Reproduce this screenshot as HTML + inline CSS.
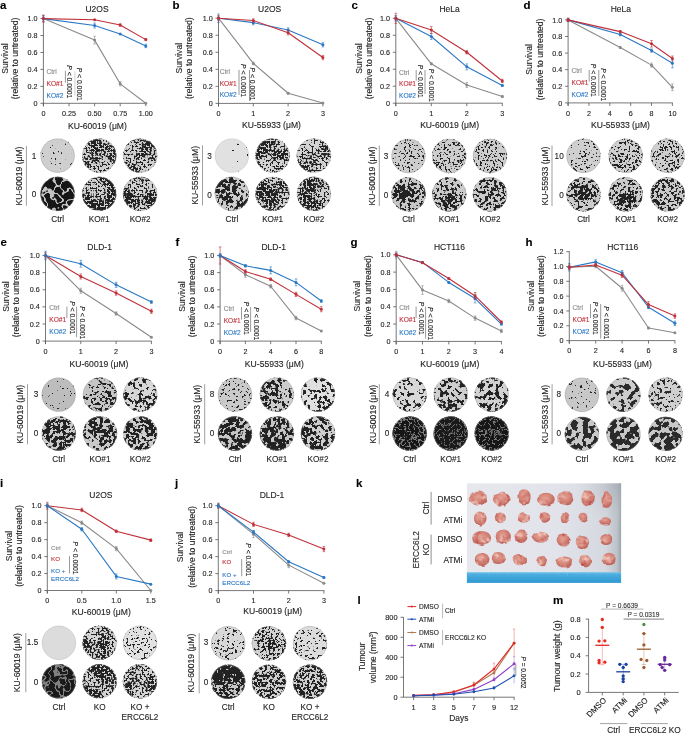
<!DOCTYPE html><html><head><meta charset="utf-8"><style>html,body{margin:0;padding:0;background:#fff;overflow:hidden;}svg{display:block;will-change:transform;font-family:"Liberation Sans",sans-serif;}text{stroke:currentColor;stroke-width:0.12px;}</style></head><body><svg width="685" height="733" viewBox="0 0 685 733"><defs><clipPath id="c1"><circle cx="57.6" cy="155.6" r="17.2"/></clipPath><filter id="p1" x="0" y="0" width="1" height="1" color-interpolation-filters="sRGB"><feTurbulence type="fractalNoise" baseFrequency="0.4" numOctaves="2" seed="10"/><feColorMatrix type="matrix" values="1 0 0 0 0 1 0 0 0 0 1 0 0 0 0 0 0 0 0 1" result="h"/><feTurbulence type="fractalNoise" baseFrequency="0.05" numOctaves="2" seed="111"/><feColorMatrix type="matrix" values="1 0 0 0 0 1 0 0 0 0 1 0 0 0 0 0 0 0 0 1" result="l"/><feComposite in="h" in2="l" operator="arithmetic" k1="0" k2="0.95" k3="0.05" k4="0"/><feColorMatrix type="matrix" values="1 0 0 0 0 1 0 0 0 0 1 0 0 0 0 0 0 0 0 1"/></filter><filter id="t1" color-interpolation-filters="sRGB"><feColorMatrix type="matrix" values="0 0 0 0 0.133 0 0 0 0 0.133 0 0 0 0 0.133 -35 0 0 0 10.254"/><feGaussianBlur stdDeviation="0.4"/></filter><clipPath id="c2"><circle cx="99.2" cy="155.6" r="17.2"/></clipPath><filter id="p2" x="0" y="0" width="1" height="1" color-interpolation-filters="sRGB"><feTurbulence type="fractalNoise" baseFrequency="0.5" numOctaves="2" seed="17"/><feColorMatrix type="matrix" values="1 0 0 0 0 1 0 0 0 0 1 0 0 0 0 0 0 0 0 1" result="h"/><feTurbulence type="fractalNoise" baseFrequency="0.05" numOctaves="2" seed="118"/><feColorMatrix type="matrix" values="1 0 0 0 0 1 0 0 0 0 1 0 0 0 0 0 0 0 0 1" result="l"/><feComposite in="h" in2="l" operator="arithmetic" k1="0" k2="0.8" k3="0.20" k4="0"/><feColorMatrix type="matrix" values="1 0 0 0 0 1 0 0 0 0 1 0 0 0 0 0 0 0 0 1"/></filter><filter id="t2" color-interpolation-filters="sRGB"><feColorMatrix type="matrix" values="0 0 0 0 0.133 0 0 0 0 0.133 0 0 0 0 0.133 -35 0 0 0 18.105"/><feGaussianBlur stdDeviation="0.5"/></filter><clipPath id="c3"><circle cx="140.1" cy="155.6" r="17.2"/></clipPath><filter id="p3" x="0" y="0" width="1" height="1" color-interpolation-filters="sRGB"><feTurbulence type="fractalNoise" baseFrequency="0.5" numOctaves="2" seed="24"/><feColorMatrix type="matrix" values="1 0 0 0 0 1 0 0 0 0 1 0 0 0 0 0 0 0 0 1" result="h"/><feTurbulence type="fractalNoise" baseFrequency="0.05" numOctaves="2" seed="125"/><feColorMatrix type="matrix" values="1 0 0 0 0 1 0 0 0 0 1 0 0 0 0 0 0 0 0 1" result="l"/><feComposite in="h" in2="l" operator="arithmetic" k1="0" k2="0.8" k3="0.20" k4="0"/><feColorMatrix type="matrix" values="1 0 0 0 0 1 0 0 0 0 1 0 0 0 0 0 0 0 0 1"/></filter><filter id="t3" color-interpolation-filters="sRGB"><feColorMatrix type="matrix" values="0 0 0 0 0.133 0 0 0 0 0.133 0 0 0 0 0.133 -35 0 0 0 17.968"/><feGaussianBlur stdDeviation="0.5"/></filter><clipPath id="c4"><circle cx="57.6" cy="193.9" r="17.2"/></clipPath><filter id="p4" x="0" y="0" width="1" height="1" color-interpolation-filters="sRGB"><feTurbulence type="fractalNoise" baseFrequency="0.11" numOctaves="2" seed="31" result="t"/><feColorMatrix in="t" type="matrix" values="0 0 0 0 0.086 0 0 0 0 0.086 0 0 0 0 0.086 30 0 0 0 -15.870" result="a"/><feColorMatrix in="t" type="matrix" values="0 0 0 0 0.086 0 0 0 0 0.086 0 0 0 0 0.086 -30 0 0 0 14.130" result="b"/><feComposite in="a" in2="b" operator="arithmetic" k1="0" k2="1" k3="1" k4="0"/><feGaussianBlur stdDeviation="0.4"/></filter><clipPath id="c5"><circle cx="99.2" cy="193.9" r="17.2"/></clipPath><filter id="p5" x="0" y="0" width="1" height="1" color-interpolation-filters="sRGB"><feTurbulence type="fractalNoise" baseFrequency="0.5" numOctaves="2" seed="38"/><feColorMatrix type="matrix" values="1 0 0 0 0 1 0 0 0 0 1 0 0 0 0 0 0 0 0 1" result="h"/><feTurbulence type="fractalNoise" baseFrequency="0.05" numOctaves="2" seed="139"/><feColorMatrix type="matrix" values="1 0 0 0 0 1 0 0 0 0 1 0 0 0 0 0 0 0 0 1" result="l"/><feComposite in="h" in2="l" operator="arithmetic" k1="0" k2="0.8" k3="0.20" k4="0"/><feColorMatrix type="matrix" values="1 0 0 0 0 1 0 0 0 0 1 0 0 0 0 0 0 0 0 1"/></filter><filter id="t5" color-interpolation-filters="sRGB"><feColorMatrix type="matrix" values="0 0 0 0 0.133 0 0 0 0 0.133 0 0 0 0 0.133 -35 0 0 0 18.266"/><feGaussianBlur stdDeviation="0.5"/></filter><clipPath id="c6"><circle cx="140.1" cy="193.9" r="17.2"/></clipPath><filter id="p6" x="0" y="0" width="1" height="1" color-interpolation-filters="sRGB"><feTurbulence type="fractalNoise" baseFrequency="0.5" numOctaves="2" seed="45"/><feColorMatrix type="matrix" values="1 0 0 0 0 1 0 0 0 0 1 0 0 0 0 0 0 0 0 1" result="h"/><feTurbulence type="fractalNoise" baseFrequency="0.05" numOctaves="2" seed="146"/><feColorMatrix type="matrix" values="1 0 0 0 0 1 0 0 0 0 1 0 0 0 0 0 0 0 0 1" result="l"/><feComposite in="h" in2="l" operator="arithmetic" k1="0" k2="0.8" k3="0.20" k4="0"/><feColorMatrix type="matrix" values="1 0 0 0 0 1 0 0 0 0 1 0 0 0 0 0 0 0 0 1"/></filter><filter id="t6" color-interpolation-filters="sRGB"><feColorMatrix type="matrix" values="0 0 0 0 0.133 0 0 0 0 0.133 0 0 0 0 0.133 -35 0 0 0 17.870"/><feGaussianBlur stdDeviation="0.5"/></filter><radialGradient id="g6" gradientUnits="userSpaceOnUse" cx="151.1" cy="197.9" r="12"><stop offset="0" stop-color="#000" stop-opacity="0.127"/><stop offset="0.45" stop-color="#000" stop-opacity="0.102"/><stop offset="1" stop-color="#000" stop-opacity="0"/></radialGradient><clipPath id="c7"><circle cx="231.9" cy="155.6" r="17.2"/></clipPath><filter id="p7" x="0" y="0" width="1" height="1" color-interpolation-filters="sRGB"><feTurbulence type="fractalNoise" baseFrequency="0.3" numOctaves="2" seed="52"/><feColorMatrix type="matrix" values="1 0 0 0 0 1 0 0 0 0 1 0 0 0 0 0 0 0 0 1" result="h"/><feTurbulence type="fractalNoise" baseFrequency="0.05" numOctaves="2" seed="153"/><feColorMatrix type="matrix" values="1 0 0 0 0 1 0 0 0 0 1 0 0 0 0 0 0 0 0 1" result="l"/><feComposite in="h" in2="l" operator="arithmetic" k1="0" k2="0.8" k3="0.20" k4="0"/><feColorMatrix type="matrix" values="1 0 0 0 0 1 0 0 0 0 1 0 0 0 0 0 0 0 0 1"/></filter><filter id="t7" color-interpolation-filters="sRGB"><feColorMatrix type="matrix" values="0 0 0 0 0.133 0 0 0 0 0.133 0 0 0 0 0.133 -35 0 0 0 9.968"/><feGaussianBlur stdDeviation="0.4"/></filter><clipPath id="c8"><circle cx="272.6" cy="155.6" r="17.2"/></clipPath><filter id="p8" x="0" y="0" width="1" height="1" color-interpolation-filters="sRGB"><feTurbulence type="fractalNoise" baseFrequency="0.5" numOctaves="2" seed="59"/><feColorMatrix type="matrix" values="1 0 0 0 0 1 0 0 0 0 1 0 0 0 0 0 0 0 0 1" result="h"/><feTurbulence type="fractalNoise" baseFrequency="0.05" numOctaves="2" seed="160"/><feColorMatrix type="matrix" values="1 0 0 0 0 1 0 0 0 0 1 0 0 0 0 0 0 0 0 1" result="l"/><feComposite in="h" in2="l" operator="arithmetic" k1="0" k2="0.8" k3="0.20" k4="0"/><feColorMatrix type="matrix" values="1 0 0 0 0 1 0 0 0 0 1 0 0 0 0 0 0 0 0 1"/></filter><filter id="t8" color-interpolation-filters="sRGB"><feColorMatrix type="matrix" values="0 0 0 0 0.133 0 0 0 0 0.133 0 0 0 0 0.133 -35 0 0 0 18.026"/><feGaussianBlur stdDeviation="0.5"/></filter><clipPath id="c9"><circle cx="313.9" cy="155.6" r="17.2"/></clipPath><filter id="p9" x="0" y="0" width="1" height="1" color-interpolation-filters="sRGB"><feTurbulence type="fractalNoise" baseFrequency="0.5" numOctaves="2" seed="66"/><feColorMatrix type="matrix" values="1 0 0 0 0 1 0 0 0 0 1 0 0 0 0 0 0 0 0 1" result="h"/><feTurbulence type="fractalNoise" baseFrequency="0.05" numOctaves="2" seed="167"/><feColorMatrix type="matrix" values="1 0 0 0 0 1 0 0 0 0 1 0 0 0 0 0 0 0 0 1" result="l"/><feComposite in="h" in2="l" operator="arithmetic" k1="0" k2="0.8" k3="0.20" k4="0"/><feColorMatrix type="matrix" values="1 0 0 0 0 1 0 0 0 0 1 0 0 0 0 0 0 0 0 1"/></filter><filter id="t9" color-interpolation-filters="sRGB"><feColorMatrix type="matrix" values="0 0 0 0 0.133 0 0 0 0 0.133 0 0 0 0 0.133 -35 0 0 0 17.437"/><feGaussianBlur stdDeviation="0.5"/></filter><clipPath id="c10"><circle cx="231.9" cy="193.9" r="17.2"/></clipPath><filter id="p10" x="0" y="0" width="1" height="1" color-interpolation-filters="sRGB"><feTurbulence type="fractalNoise" baseFrequency="0.3" numOctaves="2" seed="73"/><feColorMatrix type="matrix" values="1 0 0 0 0 1 0 0 0 0 1 0 0 0 0 0 0 0 0 1" result="h"/><feTurbulence type="fractalNoise" baseFrequency="0.05" numOctaves="2" seed="174"/><feColorMatrix type="matrix" values="1 0 0 0 0 1 0 0 0 0 1 0 0 0 0 0 0 0 0 1" result="l"/><feComposite in="h" in2="l" operator="arithmetic" k1="0" k2="0.6" k3="0.40" k4="0"/><feColorMatrix type="matrix" values="1 0 0 0 0 1 0 0 0 0 1 0 0 0 0 0 0 0 0 1"/></filter><filter id="t10" color-interpolation-filters="sRGB"><feColorMatrix type="matrix" values="0 0 0 0 0.133 0 0 0 0 0.133 0 0 0 0 0.133 -35 0 0 0 17.130"/><feGaussianBlur stdDeviation="0.4"/></filter><clipPath id="c11"><circle cx="272.6" cy="193.9" r="17.2"/></clipPath><filter id="p11" x="0" y="0" width="1" height="1" color-interpolation-filters="sRGB"><feTurbulence type="fractalNoise" baseFrequency="0.5" numOctaves="2" seed="80"/><feColorMatrix type="matrix" values="1 0 0 0 0 1 0 0 0 0 1 0 0 0 0 0 0 0 0 1" result="h"/><feTurbulence type="fractalNoise" baseFrequency="0.05" numOctaves="2" seed="181"/><feColorMatrix type="matrix" values="1 0 0 0 0 1 0 0 0 0 1 0 0 0 0 0 0 0 0 1" result="l"/><feComposite in="h" in2="l" operator="arithmetic" k1="0" k2="0.8" k3="0.20" k4="0"/><feColorMatrix type="matrix" values="1 0 0 0 0 1 0 0 0 0 1 0 0 0 0 0 0 0 0 1"/></filter><filter id="t11" color-interpolation-filters="sRGB"><feColorMatrix type="matrix" values="0 0 0 0 0.133 0 0 0 0 0.133 0 0 0 0 0.133 -35 0 0 0 17.982"/><feGaussianBlur stdDeviation="0.5"/></filter><clipPath id="c12"><circle cx="313.9" cy="193.9" r="17.2"/></clipPath><filter id="p12" x="0" y="0" width="1" height="1" color-interpolation-filters="sRGB"><feTurbulence type="fractalNoise" baseFrequency="0.5" numOctaves="2" seed="87"/><feColorMatrix type="matrix" values="1 0 0 0 0 1 0 0 0 0 1 0 0 0 0 0 0 0 0 1" result="h"/><feTurbulence type="fractalNoise" baseFrequency="0.05" numOctaves="2" seed="188"/><feColorMatrix type="matrix" values="1 0 0 0 0 1 0 0 0 0 1 0 0 0 0 0 0 0 0 1" result="l"/><feComposite in="h" in2="l" operator="arithmetic" k1="0" k2="0.8" k3="0.20" k4="0"/><feColorMatrix type="matrix" values="1 0 0 0 0 1 0 0 0 0 1 0 0 0 0 0 0 0 0 1"/></filter><filter id="t12" color-interpolation-filters="sRGB"><feColorMatrix type="matrix" values="0 0 0 0 0.133 0 0 0 0 0.133 0 0 0 0 0.133 -35 0 0 0 17.731"/><feGaussianBlur stdDeviation="0.5"/></filter><clipPath id="c13"><circle cx="408.5" cy="156" r="17.2"/></clipPath><filter id="p13" x="0" y="0" width="1" height="1" color-interpolation-filters="sRGB"><feTurbulence type="fractalNoise" baseFrequency="0.45" numOctaves="2" seed="94"/><feColorMatrix type="matrix" values="1 0 0 0 0 1 0 0 0 0 1 0 0 0 0 0 0 0 0 1" result="h"/><feTurbulence type="fractalNoise" baseFrequency="0.05" numOctaves="2" seed="195"/><feColorMatrix type="matrix" values="1 0 0 0 0 1 0 0 0 0 1 0 0 0 0 0 0 0 0 1" result="l"/><feComposite in="h" in2="l" operator="arithmetic" k1="0" k2="0.8" k3="0.20" k4="0"/><feColorMatrix type="matrix" values="1 0 0 0 0 1 0 0 0 0 1 0 0 0 0 0 0 0 0 1"/></filter><filter id="t13" color-interpolation-filters="sRGB"><feColorMatrix type="matrix" values="0 0 0 0 0.133 0 0 0 0 0.133 0 0 0 0 0.133 -35 0 0 0 13.740"/><feGaussianBlur stdDeviation="0.5"/></filter><radialGradient id="g13" gradientUnits="userSpaceOnUse" cx="408.5" cy="154" r="9"><stop offset="0" stop-color="#000" stop-opacity="0.090"/><stop offset="0.45" stop-color="#000" stop-opacity="0.072"/><stop offset="1" stop-color="#000" stop-opacity="0"/></radialGradient><clipPath id="c14"><circle cx="449.2" cy="156" r="17.2"/></clipPath><filter id="p14" x="0" y="0" width="1" height="1" color-interpolation-filters="sRGB"><feTurbulence type="fractalNoise" baseFrequency="0.45" numOctaves="2" seed="101"/><feColorMatrix type="matrix" values="1 0 0 0 0 1 0 0 0 0 1 0 0 0 0 0 0 0 0 1" result="h"/><feTurbulence type="fractalNoise" baseFrequency="0.05" numOctaves="2" seed="202"/><feColorMatrix type="matrix" values="1 0 0 0 0 1 0 0 0 0 1 0 0 0 0 0 0 0 0 1" result="l"/><feComposite in="h" in2="l" operator="arithmetic" k1="0" k2="0.8" k3="0.20" k4="0"/><feColorMatrix type="matrix" values="1 0 0 0 0 1 0 0 0 0 1 0 0 0 0 0 0 0 0 1"/></filter><filter id="t14" color-interpolation-filters="sRGB"><feColorMatrix type="matrix" values="0 0 0 0 0.133 0 0 0 0 0.133 0 0 0 0 0.133 -35 0 0 0 15.960"/><feGaussianBlur stdDeviation="0.5"/></filter><radialGradient id="g14" gradientUnits="userSpaceOnUse" cx="449.2" cy="152" r="10"><stop offset="0" stop-color="#000" stop-opacity="0.086"/><stop offset="0.45" stop-color="#000" stop-opacity="0.069"/><stop offset="1" stop-color="#000" stop-opacity="0"/></radialGradient><clipPath id="c15"><circle cx="490" cy="156" r="17.2"/></clipPath><filter id="p15" x="0" y="0" width="1" height="1" color-interpolation-filters="sRGB"><feTurbulence type="fractalNoise" baseFrequency="0.45" numOctaves="2" seed="108"/><feColorMatrix type="matrix" values="1 0 0 0 0 1 0 0 0 0 1 0 0 0 0 0 0 0 0 1" result="h"/><feTurbulence type="fractalNoise" baseFrequency="0.05" numOctaves="2" seed="209"/><feColorMatrix type="matrix" values="1 0 0 0 0 1 0 0 0 0 1 0 0 0 0 0 0 0 0 1" result="l"/><feComposite in="h" in2="l" operator="arithmetic" k1="0" k2="0.8" k3="0.20" k4="0"/><feColorMatrix type="matrix" values="1 0 0 0 0 1 0 0 0 0 1 0 0 0 0 0 0 0 0 1"/></filter><filter id="t15" color-interpolation-filters="sRGB"><feColorMatrix type="matrix" values="0 0 0 0 0.133 0 0 0 0 0.133 0 0 0 0 0.133 -35 0 0 0 15.543"/><feGaussianBlur stdDeviation="0.5"/></filter><clipPath id="c16"><circle cx="408.5" cy="194.3" r="17.2"/></clipPath><filter id="p16" x="0" y="0" width="1" height="1" color-interpolation-filters="sRGB"><feTurbulence type="fractalNoise" baseFrequency="0.35" numOctaves="2" seed="115"/><feColorMatrix type="matrix" values="1 0 0 0 0 1 0 0 0 0 1 0 0 0 0 0 0 0 0 1" result="h"/><feTurbulence type="fractalNoise" baseFrequency="0.05" numOctaves="2" seed="216"/><feColorMatrix type="matrix" values="1 0 0 0 0 1 0 0 0 0 1 0 0 0 0 0 0 0 0 1" result="l"/><feComposite in="h" in2="l" operator="arithmetic" k1="0" k2="0.8" k3="0.20" k4="0"/><feColorMatrix type="matrix" values="1 0 0 0 0 1 0 0 0 0 1 0 0 0 0 0 0 0 0 1"/></filter><filter id="t16" color-interpolation-filters="sRGB"><feColorMatrix type="matrix" values="0 0 0 0 0.133 0 0 0 0 0.133 0 0 0 0 0.133 -35 0 0 0 16.947"/><feGaussianBlur stdDeviation="0.4"/></filter><radialGradient id="g16" gradientUnits="userSpaceOnUse" cx="405.5" cy="192.3" r="12"><stop offset="0" stop-color="#000" stop-opacity="0.202"/><stop offset="0.45" stop-color="#000" stop-opacity="0.161"/><stop offset="1" stop-color="#000" stop-opacity="0"/></radialGradient><clipPath id="c17"><circle cx="449.2" cy="194.3" r="17.2"/></clipPath><filter id="p17" x="0" y="0" width="1" height="1" color-interpolation-filters="sRGB"><feTurbulence type="fractalNoise" baseFrequency="0.35" numOctaves="2" seed="122"/><feColorMatrix type="matrix" values="1 0 0 0 0 1 0 0 0 0 1 0 0 0 0 0 0 0 0 1" result="h"/><feTurbulence type="fractalNoise" baseFrequency="0.05" numOctaves="2" seed="223"/><feColorMatrix type="matrix" values="1 0 0 0 0 1 0 0 0 0 1 0 0 0 0 0 0 0 0 1" result="l"/><feComposite in="h" in2="l" operator="arithmetic" k1="0" k2="0.8" k3="0.20" k4="0"/><feColorMatrix type="matrix" values="1 0 0 0 0 1 0 0 0 0 1 0 0 0 0 0 0 0 0 1"/></filter><filter id="t17" color-interpolation-filters="sRGB"><feColorMatrix type="matrix" values="0 0 0 0 0.133 0 0 0 0 0.133 0 0 0 0 0.133 -35 0 0 0 16.684"/><feGaussianBlur stdDeviation="0.4"/></filter><radialGradient id="g17" gradientUnits="userSpaceOnUse" cx="449.2" cy="196.3" r="11"><stop offset="0" stop-color="#000" stop-opacity="0.185"/><stop offset="0.45" stop-color="#000" stop-opacity="0.148"/><stop offset="1" stop-color="#000" stop-opacity="0"/></radialGradient><clipPath id="c18"><circle cx="490" cy="194.3" r="17.2"/></clipPath><filter id="p18" x="0" y="0" width="1" height="1" color-interpolation-filters="sRGB"><feTurbulence type="fractalNoise" baseFrequency="0.35" numOctaves="2" seed="129"/><feColorMatrix type="matrix" values="1 0 0 0 0 1 0 0 0 0 1 0 0 0 0 0 0 0 0 1" result="h"/><feTurbulence type="fractalNoise" baseFrequency="0.05" numOctaves="2" seed="230"/><feColorMatrix type="matrix" values="1 0 0 0 0 1 0 0 0 0 1 0 0 0 0 0 0 0 0 1" result="l"/><feComposite in="h" in2="l" operator="arithmetic" k1="0" k2="0.8" k3="0.20" k4="0"/><feColorMatrix type="matrix" values="1 0 0 0 0 1 0 0 0 0 1 0 0 0 0 0 0 0 0 1"/></filter><filter id="t18" color-interpolation-filters="sRGB"><feColorMatrix type="matrix" values="0 0 0 0 0.133 0 0 0 0 0.133 0 0 0 0 0.133 -35 0 0 0 16.986"/><feGaussianBlur stdDeviation="0.4"/></filter><radialGradient id="g18" gradientUnits="userSpaceOnUse" cx="490" cy="191.3" r="11"><stop offset="0" stop-color="#000" stop-opacity="0.170"/><stop offset="0.45" stop-color="#000" stop-opacity="0.136"/><stop offset="1" stop-color="#000" stop-opacity="0"/></radialGradient><clipPath id="c19"><circle cx="583.5" cy="155.8" r="17.2"/></clipPath><filter id="p19" x="0" y="0" width="1" height="1" color-interpolation-filters="sRGB"><feTurbulence type="fractalNoise" baseFrequency="0.45" numOctaves="2" seed="136"/><feColorMatrix type="matrix" values="1 0 0 0 0 1 0 0 0 0 1 0 0 0 0 0 0 0 0 1" result="h"/><feTurbulence type="fractalNoise" baseFrequency="0.05" numOctaves="2" seed="237"/><feColorMatrix type="matrix" values="1 0 0 0 0 1 0 0 0 0 1 0 0 0 0 0 0 0 0 1" result="l"/><feComposite in="h" in2="l" operator="arithmetic" k1="0" k2="0.8" k3="0.20" k4="0"/><feColorMatrix type="matrix" values="1 0 0 0 0 1 0 0 0 0 1 0 0 0 0 0 0 0 0 1"/></filter><filter id="t19" color-interpolation-filters="sRGB"><feColorMatrix type="matrix" values="0 0 0 0 0.133 0 0 0 0 0.133 0 0 0 0 0.133 -35 0 0 0 14.068"/><feGaussianBlur stdDeviation="0.5"/></filter><radialGradient id="g19" gradientUnits="userSpaceOnUse" cx="583.5" cy="155.8" r="8"><stop offset="0" stop-color="#000" stop-opacity="0.153"/><stop offset="0.45" stop-color="#000" stop-opacity="0.122"/><stop offset="1" stop-color="#000" stop-opacity="0"/></radialGradient><clipPath id="c20"><circle cx="625.7" cy="155.8" r="17.2"/></clipPath><filter id="p20" x="0" y="0" width="1" height="1" color-interpolation-filters="sRGB"><feTurbulence type="fractalNoise" baseFrequency="0.45" numOctaves="2" seed="143"/><feColorMatrix type="matrix" values="1 0 0 0 0 1 0 0 0 0 1 0 0 0 0 0 0 0 0 1" result="h"/><feTurbulence type="fractalNoise" baseFrequency="0.05" numOctaves="2" seed="244"/><feColorMatrix type="matrix" values="1 0 0 0 0 1 0 0 0 0 1 0 0 0 0 0 0 0 0 1" result="l"/><feComposite in="h" in2="l" operator="arithmetic" k1="0" k2="0.8" k3="0.20" k4="0"/><feColorMatrix type="matrix" values="1 0 0 0 0 1 0 0 0 0 1 0 0 0 0 0 0 0 0 1"/></filter><filter id="t20" color-interpolation-filters="sRGB"><feColorMatrix type="matrix" values="0 0 0 0 0.133 0 0 0 0 0.133 0 0 0 0 0.133 -35 0 0 0 16.291"/><feGaussianBlur stdDeviation="0.5"/></filter><radialGradient id="g20" gradientUnits="userSpaceOnUse" cx="622.7" cy="157.8" r="9"><stop offset="0" stop-color="#000" stop-opacity="0.136"/><stop offset="0.45" stop-color="#000" stop-opacity="0.109"/><stop offset="1" stop-color="#000" stop-opacity="0"/></radialGradient><clipPath id="c21"><circle cx="667.6" cy="155.8" r="17.2"/></clipPath><filter id="p21" x="0" y="0" width="1" height="1" color-interpolation-filters="sRGB"><feTurbulence type="fractalNoise" baseFrequency="0.45" numOctaves="2" seed="150"/><feColorMatrix type="matrix" values="1 0 0 0 0 1 0 0 0 0 1 0 0 0 0 0 0 0 0 1" result="h"/><feTurbulence type="fractalNoise" baseFrequency="0.05" numOctaves="2" seed="251"/><feColorMatrix type="matrix" values="1 0 0 0 0 1 0 0 0 0 1 0 0 0 0 0 0 0 0 1" result="l"/><feComposite in="h" in2="l" operator="arithmetic" k1="0" k2="0.8" k3="0.20" k4="0"/><feColorMatrix type="matrix" values="1 0 0 0 0 1 0 0 0 0 1 0 0 0 0 0 0 0 0 1"/></filter><filter id="t21" color-interpolation-filters="sRGB"><feColorMatrix type="matrix" values="0 0 0 0 0.133 0 0 0 0 0.133 0 0 0 0 0.133 -35 0 0 0 15.493"/><feGaussianBlur stdDeviation="0.5"/></filter><clipPath id="c22"><circle cx="583.5" cy="194.3" r="17.2"/></clipPath><filter id="p22" x="0" y="0" width="1" height="1" color-interpolation-filters="sRGB"><feTurbulence type="fractalNoise" baseFrequency="0.35" numOctaves="2" seed="157"/><feColorMatrix type="matrix" values="1 0 0 0 0 1 0 0 0 0 1 0 0 0 0 0 0 0 0 1" result="h"/><feTurbulence type="fractalNoise" baseFrequency="0.05" numOctaves="2" seed="258"/><feColorMatrix type="matrix" values="1 0 0 0 0 1 0 0 0 0 1 0 0 0 0 0 0 0 0 1" result="l"/><feComposite in="h" in2="l" operator="arithmetic" k1="0" k2="0.8" k3="0.20" k4="0"/><feColorMatrix type="matrix" values="1 0 0 0 0 1 0 0 0 0 1 0 0 0 0 0 0 0 0 1"/></filter><filter id="t22" color-interpolation-filters="sRGB"><feColorMatrix type="matrix" values="0 0 0 0 0.133 0 0 0 0 0.133 0 0 0 0 0.133 -35 0 0 0 16.822"/><feGaussianBlur stdDeviation="0.4"/></filter><radialGradient id="g22" gradientUnits="userSpaceOnUse" cx="583.5" cy="194.3" r="10"><stop offset="0" stop-color="#000" stop-opacity="0.208"/><stop offset="0.45" stop-color="#000" stop-opacity="0.166"/><stop offset="1" stop-color="#000" stop-opacity="0"/></radialGradient><clipPath id="c23"><circle cx="625.7" cy="194.3" r="17.2"/></clipPath><filter id="p23" x="0" y="0" width="1" height="1" color-interpolation-filters="sRGB"><feTurbulence type="fractalNoise" baseFrequency="0.35" numOctaves="2" seed="164"/><feColorMatrix type="matrix" values="1 0 0 0 0 1 0 0 0 0 1 0 0 0 0 0 0 0 0 1" result="h"/><feTurbulence type="fractalNoise" baseFrequency="0.05" numOctaves="2" seed="265"/><feColorMatrix type="matrix" values="1 0 0 0 0 1 0 0 0 0 1 0 0 0 0 0 0 0 0 1" result="l"/><feComposite in="h" in2="l" operator="arithmetic" k1="0" k2="0.8" k3="0.20" k4="0"/><feColorMatrix type="matrix" values="1 0 0 0 0 1 0 0 0 0 1 0 0 0 0 0 0 0 0 1"/></filter><filter id="t23" color-interpolation-filters="sRGB"><feColorMatrix type="matrix" values="0 0 0 0 0.133 0 0 0 0 0.133 0 0 0 0 0.133 -35 0 0 0 16.476"/><feGaussianBlur stdDeviation="0.4"/></filter><radialGradient id="g23" gradientUnits="userSpaceOnUse" cx="625.7" cy="199.3" r="10"><stop offset="0" stop-color="#000" stop-opacity="0.224"/><stop offset="0.45" stop-color="#000" stop-opacity="0.179"/><stop offset="1" stop-color="#000" stop-opacity="0"/></radialGradient><clipPath id="c24"><circle cx="667.6" cy="194.3" r="17.2"/></clipPath><filter id="p24" x="0" y="0" width="1" height="1" color-interpolation-filters="sRGB"><feTurbulence type="fractalNoise" baseFrequency="0.35" numOctaves="2" seed="171"/><feColorMatrix type="matrix" values="1 0 0 0 0 1 0 0 0 0 1 0 0 0 0 0 0 0 0 1" result="h"/><feTurbulence type="fractalNoise" baseFrequency="0.05" numOctaves="2" seed="272"/><feColorMatrix type="matrix" values="1 0 0 0 0 1 0 0 0 0 1 0 0 0 0 0 0 0 0 1" result="l"/><feComposite in="h" in2="l" operator="arithmetic" k1="0" k2="0.8" k3="0.20" k4="0"/><feColorMatrix type="matrix" values="1 0 0 0 0 1 0 0 0 0 1 0 0 0 0 0 0 0 0 1"/></filter><filter id="t24" color-interpolation-filters="sRGB"><feColorMatrix type="matrix" values="0 0 0 0 0.133 0 0 0 0 0.133 0 0 0 0 0.133 -35 0 0 0 17.544"/><feGaussianBlur stdDeviation="0.4"/></filter><radialGradient id="g24" gradientUnits="userSpaceOnUse" cx="667.6" cy="194.3" r="14"><stop offset="0" stop-color="#000" stop-opacity="0.000"/><stop offset="0.45" stop-color="#000" stop-opacity="0.000"/><stop offset="1" stop-color="#000" stop-opacity="0"/></radialGradient><clipPath id="c25"><circle cx="58.7" cy="394.6" r="17.2"/></clipPath><filter id="p25" x="0" y="0" width="1" height="1" color-interpolation-filters="sRGB"><feTurbulence type="fractalNoise" baseFrequency="0.4" numOctaves="2" seed="178"/><feColorMatrix type="matrix" values="1 0 0 0 0 1 0 0 0 0 1 0 0 0 0 0 0 0 0 1" result="h"/><feTurbulence type="fractalNoise" baseFrequency="0.05" numOctaves="2" seed="279"/><feColorMatrix type="matrix" values="1 0 0 0 0 1 0 0 0 0 1 0 0 0 0 0 0 0 0 1" result="l"/><feComposite in="h" in2="l" operator="arithmetic" k1="0" k2="0.95" k3="0.05" k4="0"/><feColorMatrix type="matrix" values="1 0 0 0 0 1 0 0 0 0 1 0 0 0 0 0 0 0 0 1"/></filter><filter id="t25" color-interpolation-filters="sRGB"><feColorMatrix type="matrix" values="0 0 0 0 0.133 0 0 0 0 0.133 0 0 0 0 0.133 -35 0 0 0 10.381"/><feGaussianBlur stdDeviation="0.4"/></filter><clipPath id="c26"><circle cx="100" cy="394.6" r="17.2"/></clipPath><filter id="p26" x="0" y="0" width="1" height="1" color-interpolation-filters="sRGB"><feTurbulence type="fractalNoise" baseFrequency="0.35" numOctaves="2" seed="185"/><feColorMatrix type="matrix" values="1 0 0 0 0 1 0 0 0 0 1 0 0 0 0 0 0 0 0 1" result="h"/><feTurbulence type="fractalNoise" baseFrequency="0.05" numOctaves="2" seed="286"/><feColorMatrix type="matrix" values="1 0 0 0 0 1 0 0 0 0 1 0 0 0 0 0 0 0 0 1" result="l"/><feComposite in="h" in2="l" operator="arithmetic" k1="0" k2="0.75" k3="0.25" k4="0"/><feColorMatrix type="matrix" values="1 0 0 0 0 1 0 0 0 0 1 0 0 0 0 0 0 0 0 1"/></filter><filter id="t26" color-interpolation-filters="sRGB"><feColorMatrix type="matrix" values="0 0 0 0 0.133 0 0 0 0 0.133 0 0 0 0 0.133 -35 0 0 0 16.276"/><feGaussianBlur stdDeviation="0.4"/></filter><clipPath id="c27"><circle cx="140.3" cy="394.6" r="17.2"/></clipPath><filter id="p27" x="0" y="0" width="1" height="1" color-interpolation-filters="sRGB"><feTurbulence type="fractalNoise" baseFrequency="0.28" numOctaves="2" seed="192"/><feColorMatrix type="matrix" values="1 0 0 0 0 1 0 0 0 0 1 0 0 0 0 0 0 0 0 1" result="h"/><feTurbulence type="fractalNoise" baseFrequency="0.05" numOctaves="2" seed="293"/><feColorMatrix type="matrix" values="1 0 0 0 0 1 0 0 0 0 1 0 0 0 0 0 0 0 0 1" result="l"/><feComposite in="h" in2="l" operator="arithmetic" k1="0" k2="0.75" k3="0.25" k4="0"/><feColorMatrix type="matrix" values="1 0 0 0 0 1 0 0 0 0 1 0 0 0 0 0 0 0 0 1"/></filter><filter id="t27" color-interpolation-filters="sRGB"><feColorMatrix type="matrix" values="0 0 0 0 0.133 0 0 0 0 0.133 0 0 0 0 0.133 -35 0 0 0 17.519"/><feGaussianBlur stdDeviation="0.4"/></filter><clipPath id="c28"><circle cx="58.7" cy="433.5" r="17.2"/></clipPath><filter id="p28" x="0" y="0" width="1" height="1" color-interpolation-filters="sRGB"><feTurbulence type="fractalNoise" baseFrequency="0.3" numOctaves="2" seed="199"/><feColorMatrix type="matrix" values="1 0 0 0 0 1 0 0 0 0 1 0 0 0 0 0 0 0 0 1" result="h"/><feTurbulence type="fractalNoise" baseFrequency="0.05" numOctaves="2" seed="300"/><feColorMatrix type="matrix" values="1 0 0 0 0 1 0 0 0 0 1 0 0 0 0 0 0 0 0 1" result="l"/><feComposite in="h" in2="l" operator="arithmetic" k1="0" k2="0.75" k3="0.25" k4="0"/><feColorMatrix type="matrix" values="1 0 0 0 0 1 0 0 0 0 1 0 0 0 0 0 0 0 0 1"/></filter><filter id="t28" color-interpolation-filters="sRGB"><feColorMatrix type="matrix" values="0 0 0 0 0.133 0 0 0 0 0.133 0 0 0 0 0.133 -35 0 0 0 18.614"/><feGaussianBlur stdDeviation="0.4"/></filter><clipPath id="c29"><circle cx="100" cy="433.5" r="17.2"/></clipPath><filter id="p29" x="0" y="0" width="1" height="1" color-interpolation-filters="sRGB"><feTurbulence type="fractalNoise" baseFrequency="0.3" numOctaves="2" seed="206"/><feColorMatrix type="matrix" values="1 0 0 0 0 1 0 0 0 0 1 0 0 0 0 0 0 0 0 1" result="h"/><feTurbulence type="fractalNoise" baseFrequency="0.05" numOctaves="2" seed="307"/><feColorMatrix type="matrix" values="1 0 0 0 0 1 0 0 0 0 1 0 0 0 0 0 0 0 0 1" result="l"/><feComposite in="h" in2="l" operator="arithmetic" k1="0" k2="0.75" k3="0.25" k4="0"/><feColorMatrix type="matrix" values="1 0 0 0 0 1 0 0 0 0 1 0 0 0 0 0 0 0 0 1"/></filter><filter id="t29" color-interpolation-filters="sRGB"><feColorMatrix type="matrix" values="0 0 0 0 0.133 0 0 0 0 0.133 0 0 0 0 0.133 -35 0 0 0 17.701"/><feGaussianBlur stdDeviation="0.4"/></filter><clipPath id="c30"><circle cx="140.3" cy="433.5" r="17.2"/></clipPath><filter id="p30" x="0" y="0" width="1" height="1" color-interpolation-filters="sRGB"><feTurbulence type="fractalNoise" baseFrequency="0.3" numOctaves="2" seed="213"/><feColorMatrix type="matrix" values="1 0 0 0 0 1 0 0 0 0 1 0 0 0 0 0 0 0 0 1" result="h"/><feTurbulence type="fractalNoise" baseFrequency="0.05" numOctaves="2" seed="314"/><feColorMatrix type="matrix" values="1 0 0 0 0 1 0 0 0 0 1 0 0 0 0 0 0 0 0 1" result="l"/><feComposite in="h" in2="l" operator="arithmetic" k1="0" k2="0.75" k3="0.25" k4="0"/><feColorMatrix type="matrix" values="1 0 0 0 0 1 0 0 0 0 1 0 0 0 0 0 0 0 0 1"/></filter><filter id="t30" color-interpolation-filters="sRGB"><feColorMatrix type="matrix" values="0 0 0 0 0.133 0 0 0 0 0.133 0 0 0 0 0.133 -35 0 0 0 17.480"/><feGaussianBlur stdDeviation="0.4"/></filter><clipPath id="c31"><circle cx="235" cy="394.6" r="17.2"/></clipPath><filter id="p31" x="0" y="0" width="1" height="1" color-interpolation-filters="sRGB"><feTurbulence type="fractalNoise" baseFrequency="0.45" numOctaves="2" seed="220"/><feColorMatrix type="matrix" values="1 0 0 0 0 1 0 0 0 0 1 0 0 0 0 0 0 0 0 1" result="h"/><feTurbulence type="fractalNoise" baseFrequency="0.05" numOctaves="2" seed="321"/><feColorMatrix type="matrix" values="1 0 0 0 0 1 0 0 0 0 1 0 0 0 0 0 0 0 0 1" result="l"/><feComposite in="h" in2="l" operator="arithmetic" k1="0" k2="0.9" k3="0.10" k4="0"/><feColorMatrix type="matrix" values="1 0 0 0 0 1 0 0 0 0 1 0 0 0 0 0 0 0 0 1"/></filter><filter id="t31" color-interpolation-filters="sRGB"><feColorMatrix type="matrix" values="0 0 0 0 0.133 0 0 0 0 0.133 0 0 0 0 0.133 -35 0 0 0 13.151"/><feGaussianBlur stdDeviation="0.5"/></filter><clipPath id="c32"><circle cx="276.9" cy="394.6" r="17.2"/></clipPath><filter id="p32" x="0" y="0" width="1" height="1" color-interpolation-filters="sRGB"><feTurbulence type="fractalNoise" baseFrequency="0.28" numOctaves="2" seed="227"/><feColorMatrix type="matrix" values="1 0 0 0 0 1 0 0 0 0 1 0 0 0 0 0 0 0 0 1" result="h"/><feTurbulence type="fractalNoise" baseFrequency="0.05" numOctaves="2" seed="328"/><feColorMatrix type="matrix" values="1 0 0 0 0 1 0 0 0 0 1 0 0 0 0 0 0 0 0 1" result="l"/><feComposite in="h" in2="l" operator="arithmetic" k1="0" k2="0.75" k3="0.25" k4="0"/><feColorMatrix type="matrix" values="1 0 0 0 0 1 0 0 0 0 1 0 0 0 0 0 0 0 0 1"/></filter><filter id="t32" color-interpolation-filters="sRGB"><feColorMatrix type="matrix" values="0 0 0 0 0.133 0 0 0 0 0.133 0 0 0 0 0.133 -35 0 0 0 17.256"/><feGaussianBlur stdDeviation="0.4"/></filter><clipPath id="c33"><circle cx="318" cy="394.6" r="17.2"/></clipPath><filter id="p33" x="0" y="0" width="1" height="1" color-interpolation-filters="sRGB"><feTurbulence type="fractalNoise" baseFrequency="0.28" numOctaves="2" seed="234"/><feColorMatrix type="matrix" values="1 0 0 0 0 1 0 0 0 0 1 0 0 0 0 0 0 0 0 1" result="h"/><feTurbulence type="fractalNoise" baseFrequency="0.05" numOctaves="2" seed="335"/><feColorMatrix type="matrix" values="1 0 0 0 0 1 0 0 0 0 1 0 0 0 0 0 0 0 0 1" result="l"/><feComposite in="h" in2="l" operator="arithmetic" k1="0" k2="0.75" k3="0.25" k4="0"/><feColorMatrix type="matrix" values="1 0 0 0 0 1 0 0 0 0 1 0 0 0 0 0 0 0 0 1"/></filter><filter id="t33" color-interpolation-filters="sRGB"><feColorMatrix type="matrix" values="0 0 0 0 0.133 0 0 0 0 0.133 0 0 0 0 0.133 -35 0 0 0 17.077"/><feGaussianBlur stdDeviation="0.4"/></filter><clipPath id="c34"><circle cx="235" cy="433.5" r="17.2"/></clipPath><filter id="p34" x="0" y="0" width="1" height="1" color-interpolation-filters="sRGB"><feTurbulence type="fractalNoise" baseFrequency="0.28" numOctaves="2" seed="241"/><feColorMatrix type="matrix" values="1 0 0 0 0 1 0 0 0 0 1 0 0 0 0 0 0 0 0 1" result="h"/><feTurbulence type="fractalNoise" baseFrequency="0.05" numOctaves="2" seed="342"/><feColorMatrix type="matrix" values="1 0 0 0 0 1 0 0 0 0 1 0 0 0 0 0 0 0 0 1" result="l"/><feComposite in="h" in2="l" operator="arithmetic" k1="0" k2="0.75" k3="0.25" k4="0"/><feColorMatrix type="matrix" values="1 0 0 0 0 1 0 0 0 0 1 0 0 0 0 0 0 0 0 1"/></filter><filter id="t34" color-interpolation-filters="sRGB"><feColorMatrix type="matrix" values="0 0 0 0 0.133 0 0 0 0 0.133 0 0 0 0 0.133 -35 0 0 0 19.296"/><feGaussianBlur stdDeviation="0.4"/></filter><clipPath id="c35"><circle cx="276.9" cy="433.5" r="17.2"/></clipPath><filter id="p35" x="0" y="0" width="1" height="1" color-interpolation-filters="sRGB"><feTurbulence type="fractalNoise" baseFrequency="0.28" numOctaves="2" seed="248"/><feColorMatrix type="matrix" values="1 0 0 0 0 1 0 0 0 0 1 0 0 0 0 0 0 0 0 1" result="h"/><feTurbulence type="fractalNoise" baseFrequency="0.05" numOctaves="2" seed="349"/><feColorMatrix type="matrix" values="1 0 0 0 0 1 0 0 0 0 1 0 0 0 0 0 0 0 0 1" result="l"/><feComposite in="h" in2="l" operator="arithmetic" k1="0" k2="0.75" k3="0.25" k4="0"/><feColorMatrix type="matrix" values="1 0 0 0 0 1 0 0 0 0 1 0 0 0 0 0 0 0 0 1"/></filter><filter id="t35" color-interpolation-filters="sRGB"><feColorMatrix type="matrix" values="0 0 0 0 0.133 0 0 0 0 0.133 0 0 0 0 0.133 -35 0 0 0 18.781"/><feGaussianBlur stdDeviation="0.4"/></filter><clipPath id="c36"><circle cx="318" cy="433.5" r="17.2"/></clipPath><filter id="p36" x="0" y="0" width="1" height="1" color-interpolation-filters="sRGB"><feTurbulence type="fractalNoise" baseFrequency="0.28" numOctaves="2" seed="255"/><feColorMatrix type="matrix" values="1 0 0 0 0 1 0 0 0 0 1 0 0 0 0 0 0 0 0 1" result="h"/><feTurbulence type="fractalNoise" baseFrequency="0.05" numOctaves="2" seed="356"/><feColorMatrix type="matrix" values="1 0 0 0 0 1 0 0 0 0 1 0 0 0 0 0 0 0 0 1" result="l"/><feComposite in="h" in2="l" operator="arithmetic" k1="0" k2="0.75" k3="0.25" k4="0"/><feColorMatrix type="matrix" values="1 0 0 0 0 1 0 0 0 0 1 0 0 0 0 0 0 0 0 1"/></filter><filter id="t36" color-interpolation-filters="sRGB"><feColorMatrix type="matrix" values="0 0 0 0 0.133 0 0 0 0 0.133 0 0 0 0 0.133 -35 0 0 0 18.429"/><feGaussianBlur stdDeviation="0.4"/></filter><clipPath id="c37"><circle cx="409.6" cy="394.6" r="17.2"/></clipPath><filter id="p37" x="0" y="0" width="1" height="1" color-interpolation-filters="sRGB"><feTurbulence type="fractalNoise" baseFrequency="0.28" numOctaves="2" seed="262"/><feColorMatrix type="matrix" values="1 0 0 0 0 1 0 0 0 0 1 0 0 0 0 0 0 0 0 1" result="h"/><feTurbulence type="fractalNoise" baseFrequency="0.05" numOctaves="2" seed="363"/><feColorMatrix type="matrix" values="1 0 0 0 0 1 0 0 0 0 1 0 0 0 0 0 0 0 0 1" result="l"/><feComposite in="h" in2="l" operator="arithmetic" k1="0" k2="0.75" k3="0.25" k4="0"/><feColorMatrix type="matrix" values="1 0 0 0 0 1 0 0 0 0 1 0 0 0 0 0 0 0 0 1"/></filter><filter id="t37" color-interpolation-filters="sRGB"><feColorMatrix type="matrix" values="0 0 0 0 0.133 0 0 0 0 0.133 0 0 0 0 0.133 -35 0 0 0 15.620"/><feGaussianBlur stdDeviation="0.4"/></filter><clipPath id="c38"><circle cx="450.7" cy="394.6" r="17.2"/></clipPath><filter id="p38" x="0" y="0" width="1" height="1" color-interpolation-filters="sRGB"><feTurbulence type="fractalNoise" baseFrequency="0.25" numOctaves="2" seed="269"/><feColorMatrix type="matrix" values="1 0 0 0 0 1 0 0 0 0 1 0 0 0 0 0 0 0 0 1" result="h"/><feTurbulence type="fractalNoise" baseFrequency="0.05" numOctaves="2" seed="370"/><feColorMatrix type="matrix" values="1 0 0 0 0 1 0 0 0 0 1 0 0 0 0 0 0 0 0 1" result="l"/><feComposite in="h" in2="l" operator="arithmetic" k1="0" k2="0.75" k3="0.25" k4="0"/><feColorMatrix type="matrix" values="1 0 0 0 0 1 0 0 0 0 1 0 0 0 0 0 0 0 0 1"/></filter><filter id="t38" color-interpolation-filters="sRGB"><feColorMatrix type="matrix" values="0 0 0 0 0.133 0 0 0 0 0.133 0 0 0 0 0.133 -35 0 0 0 16.539"/><feGaussianBlur stdDeviation="0.4"/></filter><clipPath id="c39"><circle cx="491.7" cy="394.6" r="17.2"/></clipPath><filter id="p39" x="0" y="0" width="1" height="1" color-interpolation-filters="sRGB"><feTurbulence type="fractalNoise" baseFrequency="0.25" numOctaves="2" seed="276"/><feColorMatrix type="matrix" values="1 0 0 0 0 1 0 0 0 0 1 0 0 0 0 0 0 0 0 1" result="h"/><feTurbulence type="fractalNoise" baseFrequency="0.05" numOctaves="2" seed="377"/><feColorMatrix type="matrix" values="1 0 0 0 0 1 0 0 0 0 1 0 0 0 0 0 0 0 0 1" result="l"/><feComposite in="h" in2="l" operator="arithmetic" k1="0" k2="0.75" k3="0.25" k4="0"/><feColorMatrix type="matrix" values="1 0 0 0 0 1 0 0 0 0 1 0 0 0 0 0 0 0 0 1"/></filter><filter id="t39" color-interpolation-filters="sRGB"><feColorMatrix type="matrix" values="0 0 0 0 0.133 0 0 0 0 0.133 0 0 0 0 0.133 -35 0 0 0 17.504"/><feGaussianBlur stdDeviation="0.4"/></filter><clipPath id="c40"><circle cx="409.6" cy="433.5" r="17.2"/></clipPath><filter id="p40" x="0" y="0" width="1" height="1" color-interpolation-filters="sRGB"><feTurbulence type="fractalNoise" baseFrequency="0.2" numOctaves="2" seed="283" result="t"/><feColorMatrix in="t" type="matrix" values="0 0 0 0 0.086 0 0 0 0 0.086 0 0 0 0 0.086 30 0 0 0 -15.600" result="a"/><feColorMatrix in="t" type="matrix" values="0 0 0 0 0.086 0 0 0 0 0.086 0 0 0 0 0.086 -30 0 0 0 14.400" result="b"/><feComposite in="a" in2="b" operator="arithmetic" k1="0" k2="1" k3="1" k4="0"/><feGaussianBlur stdDeviation="0.4"/></filter><clipPath id="c41"><circle cx="450.7" cy="433.5" r="17.2"/></clipPath><filter id="p41" x="0" y="0" width="1" height="1" color-interpolation-filters="sRGB"><feTurbulence type="fractalNoise" baseFrequency="0.2" numOctaves="2" seed="290" result="t"/><feColorMatrix in="t" type="matrix" values="0 0 0 0 0.102 0 0 0 0 0.102 0 0 0 0 0.102 30 0 0 0 -15.600" result="a"/><feColorMatrix in="t" type="matrix" values="0 0 0 0 0.102 0 0 0 0 0.102 0 0 0 0 0.102 -30 0 0 0 14.400" result="b"/><feComposite in="a" in2="b" operator="arithmetic" k1="0" k2="1" k3="1" k4="0"/><feGaussianBlur stdDeviation="0.4"/></filter><clipPath id="c42"><circle cx="491.7" cy="433.5" r="17.2"/></clipPath><filter id="p42" x="0" y="0" width="1" height="1" color-interpolation-filters="sRGB"><feTurbulence type="fractalNoise" baseFrequency="0.2" numOctaves="2" seed="297" result="t"/><feColorMatrix in="t" type="matrix" values="0 0 0 0 0.086 0 0 0 0 0.086 0 0 0 0 0.086 30 0 0 0 -15.600" result="a"/><feColorMatrix in="t" type="matrix" values="0 0 0 0 0.086 0 0 0 0 0.086 0 0 0 0 0.086 -30 0 0 0 14.400" result="b"/><feComposite in="a" in2="b" operator="arithmetic" k1="0" k2="1" k3="1" k4="0"/><feGaussianBlur stdDeviation="0.4"/></filter><clipPath id="c43"><circle cx="581.9" cy="394.8" r="17.2"/></clipPath><filter id="p43" x="0" y="0" width="1" height="1" color-interpolation-filters="sRGB"><feTurbulence type="fractalNoise" baseFrequency="0.35" numOctaves="2" seed="304"/><feColorMatrix type="matrix" values="1 0 0 0 0 1 0 0 0 0 1 0 0 0 0 0 0 0 0 1" result="h"/><feTurbulence type="fractalNoise" baseFrequency="0.05" numOctaves="2" seed="405"/><feColorMatrix type="matrix" values="1 0 0 0 0 1 0 0 0 0 1 0 0 0 0 0 0 0 0 1" result="l"/><feComposite in="h" in2="l" operator="arithmetic" k1="0" k2="0.95" k3="0.05" k4="0"/><feColorMatrix type="matrix" values="1 0 0 0 0 1 0 0 0 0 1 0 0 0 0 0 0 0 0 1"/></filter><filter id="t43" color-interpolation-filters="sRGB"><feColorMatrix type="matrix" values="0 0 0 0 0.133 0 0 0 0 0.133 0 0 0 0 0.133 -35 0 0 0 11.809"/><feGaussianBlur stdDeviation="0.4"/></filter><clipPath id="c44"><circle cx="623.5" cy="394.8" r="17.2"/></clipPath><filter id="p44" x="0" y="0" width="1" height="1" color-interpolation-filters="sRGB"><feTurbulence type="fractalNoise" baseFrequency="0.2" numOctaves="2" seed="311"/><feColorMatrix type="matrix" values="1 0 0 0 0 1 0 0 0 0 1 0 0 0 0 0 0 0 0 1" result="h"/><feTurbulence type="fractalNoise" baseFrequency="0.05" numOctaves="2" seed="412"/><feColorMatrix type="matrix" values="1 0 0 0 0 1 0 0 0 0 1 0 0 0 0 0 0 0 0 1" result="l"/><feComposite in="h" in2="l" operator="arithmetic" k1="0" k2="0.85" k3="0.15" k4="0"/><feColorMatrix type="matrix" values="1 0 0 0 0 1 0 0 0 0 1 0 0 0 0 0 0 0 0 1"/></filter><filter id="t44" color-interpolation-filters="sRGB"><feColorMatrix type="matrix" values="0 0 0 0 0.165 0 0 0 0 0.165 0 0 0 0 0.165 -35 0 0 0 16.175"/><feGaussianBlur stdDeviation="0.4"/></filter><clipPath id="c45"><circle cx="665.6" cy="394.8" r="17.2"/></clipPath><filter id="p45" x="0" y="0" width="1" height="1" color-interpolation-filters="sRGB"><feTurbulence type="fractalNoise" baseFrequency="0.35" numOctaves="2" seed="318"/><feColorMatrix type="matrix" values="1 0 0 0 0 1 0 0 0 0 1 0 0 0 0 0 0 0 0 1" result="h"/><feTurbulence type="fractalNoise" baseFrequency="0.05" numOctaves="2" seed="419"/><feColorMatrix type="matrix" values="1 0 0 0 0 1 0 0 0 0 1 0 0 0 0 0 0 0 0 1" result="l"/><feComposite in="h" in2="l" operator="arithmetic" k1="0" k2="0.8" k3="0.20" k4="0"/><feColorMatrix type="matrix" values="1 0 0 0 0 1 0 0 0 0 1 0 0 0 0 0 0 0 0 1"/></filter><filter id="t45" color-interpolation-filters="sRGB"><feColorMatrix type="matrix" values="0 0 0 0 0.165 0 0 0 0 0.165 0 0 0 0 0.165 -35 0 0 0 15.010"/><feGaussianBlur stdDeviation="0.4"/></filter><radialGradient id="g45" gradientUnits="userSpaceOnUse" cx="657.6" cy="400.8" r="10"><stop offset="0" stop-color="#000" stop-opacity="0.140"/><stop offset="0.45" stop-color="#000" stop-opacity="0.112"/><stop offset="1" stop-color="#000" stop-opacity="0"/></radialGradient><clipPath id="c46"><circle cx="581.9" cy="433.9" r="17.2"/></clipPath><filter id="p46" x="0" y="0" width="1" height="1" color-interpolation-filters="sRGB"><feTurbulence type="fractalNoise" baseFrequency="0.18" numOctaves="2" seed="325"/><feColorMatrix type="matrix" values="1 0 0 0 0 1 0 0 0 0 1 0 0 0 0 0 0 0 0 1" result="h"/><feTurbulence type="fractalNoise" baseFrequency="0.05" numOctaves="2" seed="426"/><feColorMatrix type="matrix" values="1 0 0 0 0 1 0 0 0 0 1 0 0 0 0 0 0 0 0 1" result="l"/><feComposite in="h" in2="l" operator="arithmetic" k1="0" k2="0.85" k3="0.15" k4="0"/><feColorMatrix type="matrix" values="1 0 0 0 0 1 0 0 0 0 1 0 0 0 0 0 0 0 0 1"/></filter><filter id="t46" color-interpolation-filters="sRGB"><feColorMatrix type="matrix" values="0 0 0 0 0.165 0 0 0 0 0.165 0 0 0 0 0.165 -35 0 0 0 17.779"/><feGaussianBlur stdDeviation="0.4"/></filter><clipPath id="c47"><circle cx="623.5" cy="433.9" r="17.2"/></clipPath><filter id="p47" x="0" y="0" width="1" height="1" color-interpolation-filters="sRGB"><feTurbulence type="fractalNoise" baseFrequency="0.18" numOctaves="2" seed="332"/><feColorMatrix type="matrix" values="1 0 0 0 0 1 0 0 0 0 1 0 0 0 0 0 0 0 0 1" result="h"/><feTurbulence type="fractalNoise" baseFrequency="0.05" numOctaves="2" seed="433"/><feColorMatrix type="matrix" values="1 0 0 0 0 1 0 0 0 0 1 0 0 0 0 0 0 0 0 1" result="l"/><feComposite in="h" in2="l" operator="arithmetic" k1="0" k2="0.85" k3="0.15" k4="0"/><feColorMatrix type="matrix" values="1 0 0 0 0 1 0 0 0 0 1 0 0 0 0 0 0 0 0 1"/></filter><filter id="t47" color-interpolation-filters="sRGB"><feColorMatrix type="matrix" values="0 0 0 0 0.165 0 0 0 0 0.165 0 0 0 0 0.165 -35 0 0 0 19.105"/><feGaussianBlur stdDeviation="0.4"/></filter><clipPath id="c48"><circle cx="665.6" cy="433.9" r="17.2"/></clipPath><filter id="p48" x="0" y="0" width="1" height="1" color-interpolation-filters="sRGB"><feTurbulence type="fractalNoise" baseFrequency="0.18" numOctaves="2" seed="339"/><feColorMatrix type="matrix" values="1 0 0 0 0 1 0 0 0 0 1 0 0 0 0 0 0 0 0 1" result="h"/><feTurbulence type="fractalNoise" baseFrequency="0.05" numOctaves="2" seed="440"/><feColorMatrix type="matrix" values="1 0 0 0 0 1 0 0 0 0 1 0 0 0 0 0 0 0 0 1" result="l"/><feComposite in="h" in2="l" operator="arithmetic" k1="0" k2="0.85" k3="0.15" k4="0"/><feColorMatrix type="matrix" values="1 0 0 0 0 1 0 0 0 0 1 0 0 0 0 0 0 0 0 1"/></filter><filter id="t48" color-interpolation-filters="sRGB"><feColorMatrix type="matrix" values="0 0 0 0 0.165 0 0 0 0 0.165 0 0 0 0 0.165 -35 0 0 0 18.592"/><feGaussianBlur stdDeviation="0.4"/></filter><clipPath id="c49"><circle cx="58.9" cy="642.8" r="17.2"/></clipPath><filter id="p49" x="0" y="0" width="1" height="1" color-interpolation-filters="sRGB"><feTurbulence type="fractalNoise" baseFrequency="0.3" numOctaves="2" seed="346"/><feColorMatrix type="matrix" values="1 0 0 0 0 1 0 0 0 0 1 0 0 0 0 0 0 0 0 1" result="h"/><feTurbulence type="fractalNoise" baseFrequency="0.05" numOctaves="2" seed="447"/><feColorMatrix type="matrix" values="1 0 0 0 0 1 0 0 0 0 1 0 0 0 0 0 0 0 0 1" result="l"/><feComposite in="h" in2="l" operator="arithmetic" k1="0" k2="0.8" k3="0.20" k4="0"/><feColorMatrix type="matrix" values="1 0 0 0 0 1 0 0 0 0 1 0 0 0 0 0 0 0 0 1"/></filter><filter id="t49" color-interpolation-filters="sRGB"><feColorMatrix type="matrix" values="0 0 0 0 0.133 0 0 0 0 0.133 0 0 0 0 0.133 -35 0 0 0 6.086"/><feGaussianBlur stdDeviation="0.4"/></filter><clipPath id="c50"><circle cx="99.6" cy="642.8" r="17.2"/></clipPath><filter id="p50" x="0" y="0" width="1" height="1" color-interpolation-filters="sRGB"><feTurbulence type="fractalNoise" baseFrequency="0.5" numOctaves="2" seed="353"/><feColorMatrix type="matrix" values="1 0 0 0 0 1 0 0 0 0 1 0 0 0 0 0 0 0 0 1" result="h"/><feTurbulence type="fractalNoise" baseFrequency="0.05" numOctaves="2" seed="454"/><feColorMatrix type="matrix" values="1 0 0 0 0 1 0 0 0 0 1 0 0 0 0 0 0 0 0 1" result="l"/><feComposite in="h" in2="l" operator="arithmetic" k1="0" k2="0.8" k3="0.20" k4="0"/><feColorMatrix type="matrix" values="1 0 0 0 0 1 0 0 0 0 1 0 0 0 0 0 0 0 0 1"/></filter><filter id="t50" color-interpolation-filters="sRGB"><feColorMatrix type="matrix" values="0 0 0 0 0.133 0 0 0 0 0.133 0 0 0 0 0.133 -35 0 0 0 18.085"/><feGaussianBlur stdDeviation="0.5"/></filter><clipPath id="c51"><circle cx="140" cy="642.8" r="17.2"/></clipPath><filter id="p51" x="0" y="0" width="1" height="1" color-interpolation-filters="sRGB"><feTurbulence type="fractalNoise" baseFrequency="0.45" numOctaves="2" seed="360"/><feColorMatrix type="matrix" values="1 0 0 0 0 1 0 0 0 0 1 0 0 0 0 0 0 0 0 1" result="h"/><feTurbulence type="fractalNoise" baseFrequency="0.05" numOctaves="2" seed="461"/><feColorMatrix type="matrix" values="1 0 0 0 0 1 0 0 0 0 1 0 0 0 0 0 0 0 0 1" result="l"/><feComposite in="h" in2="l" operator="arithmetic" k1="0" k2="0.8" k3="0.20" k4="0"/><feColorMatrix type="matrix" values="1 0 0 0 0 1 0 0 0 0 1 0 0 0 0 0 0 0 0 1"/></filter><filter id="t51" color-interpolation-filters="sRGB"><feColorMatrix type="matrix" values="0 0 0 0 0.133 0 0 0 0 0.133 0 0 0 0 0.133 -35 0 0 0 14.672"/><feGaussianBlur stdDeviation="0.5"/></filter><clipPath id="c52"><circle cx="58.9" cy="681.3" r="17.2"/></clipPath><filter id="p52" x="0" y="0" width="1" height="1" color-interpolation-filters="sRGB"><feTurbulence type="fractalNoise" baseFrequency="0.12" numOctaves="2" seed="367" result="t"/><feColorMatrix in="t" type="matrix" values="0 0 0 0 0.102 0 0 0 0 0.102 0 0 0 0 0.102 30 0 0 0 -15.900" result="a"/><feColorMatrix in="t" type="matrix" values="0 0 0 0 0.102 0 0 0 0 0.102 0 0 0 0 0.102 -30 0 0 0 14.100" result="b"/><feComposite in="a" in2="b" operator="arithmetic" k1="0" k2="1" k3="1" k4="0"/><feGaussianBlur stdDeviation="0.4"/></filter><clipPath id="c53"><circle cx="99.6" cy="681.3" r="17.2"/></clipPath><filter id="p53" x="0" y="0" width="1" height="1" color-interpolation-filters="sRGB"><feTurbulence type="fractalNoise" baseFrequency="0.5" numOctaves="2" seed="374"/><feColorMatrix type="matrix" values="1 0 0 0 0 1 0 0 0 0 1 0 0 0 0 0 0 0 0 1" result="h"/><feTurbulence type="fractalNoise" baseFrequency="0.05" numOctaves="2" seed="475"/><feColorMatrix type="matrix" values="1 0 0 0 0 1 0 0 0 0 1 0 0 0 0 0 0 0 0 1" result="l"/><feComposite in="h" in2="l" operator="arithmetic" k1="0" k2="0.8" k3="0.20" k4="0"/><feColorMatrix type="matrix" values="1 0 0 0 0 1 0 0 0 0 1 0 0 0 0 0 0 0 0 1"/></filter><filter id="t53" color-interpolation-filters="sRGB"><feColorMatrix type="matrix" values="0 0 0 0 0.133 0 0 0 0 0.133 0 0 0 0 0.133 -35 0 0 0 18.600"/><feGaussianBlur stdDeviation="0.5"/></filter><clipPath id="c54"><circle cx="140" cy="681.3" r="17.2"/></clipPath><filter id="p54" x="0" y="0" width="1" height="1" color-interpolation-filters="sRGB"><feTurbulence type="fractalNoise" baseFrequency="0.5" numOctaves="2" seed="381"/><feColorMatrix type="matrix" values="1 0 0 0 0 1 0 0 0 0 1 0 0 0 0 0 0 0 0 1" result="h"/><feTurbulence type="fractalNoise" baseFrequency="0.05" numOctaves="2" seed="482"/><feColorMatrix type="matrix" values="1 0 0 0 0 1 0 0 0 0 1 0 0 0 0 0 0 0 0 1" result="l"/><feComposite in="h" in2="l" operator="arithmetic" k1="0" k2="0.8" k3="0.20" k4="0"/><feColorMatrix type="matrix" values="1 0 0 0 0 1 0 0 0 0 1 0 0 0 0 0 0 0 0 1"/></filter><filter id="t54" color-interpolation-filters="sRGB"><feColorMatrix type="matrix" values="0 0 0 0 0.133 0 0 0 0 0.133 0 0 0 0 0.133 -35 0 0 0 16.910"/><feGaussianBlur stdDeviation="0.5"/></filter><radialGradient id="g54" gradientUnits="userSpaceOnUse" cx="148" cy="681.3" r="12"><stop offset="0" stop-color="#000" stop-opacity="0.125"/><stop offset="0.45" stop-color="#000" stop-opacity="0.100"/><stop offset="1" stop-color="#000" stop-opacity="0"/></radialGradient><clipPath id="c55"><circle cx="228.2" cy="643.3" r="17.2"/></clipPath><filter id="p55" x="0" y="0" width="1" height="1" color-interpolation-filters="sRGB"><feTurbulence type="fractalNoise" baseFrequency="0.4" numOctaves="2" seed="388"/><feColorMatrix type="matrix" values="1 0 0 0 0 1 0 0 0 0 1 0 0 0 0 0 0 0 0 1" result="h"/><feTurbulence type="fractalNoise" baseFrequency="0.05" numOctaves="2" seed="489"/><feColorMatrix type="matrix" values="1 0 0 0 0 1 0 0 0 0 1 0 0 0 0 0 0 0 0 1" result="l"/><feComposite in="h" in2="l" operator="arithmetic" k1="0" k2="0.8" k3="0.20" k4="0"/><feColorMatrix type="matrix" values="1 0 0 0 0 1 0 0 0 0 1 0 0 0 0 0 0 0 0 1"/></filter><filter id="t55" color-interpolation-filters="sRGB"><feColorMatrix type="matrix" values="0 0 0 0 0.133 0 0 0 0 0.133 0 0 0 0 0.133 -35 0 0 0 13.532"/><feGaussianBlur stdDeviation="0.4"/></filter><clipPath id="c56"><circle cx="269" cy="643.3" r="17.2"/></clipPath><filter id="p56" x="0" y="0" width="1" height="1" color-interpolation-filters="sRGB"><feTurbulence type="fractalNoise" baseFrequency="0.45" numOctaves="2" seed="395"/><feColorMatrix type="matrix" values="1 0 0 0 0 1 0 0 0 0 1 0 0 0 0 0 0 0 0 1" result="h"/><feTurbulence type="fractalNoise" baseFrequency="0.05" numOctaves="2" seed="496"/><feColorMatrix type="matrix" values="1 0 0 0 0 1 0 0 0 0 1 0 0 0 0 0 0 0 0 1" result="l"/><feComposite in="h" in2="l" operator="arithmetic" k1="0" k2="0.8" k3="0.20" k4="0"/><feColorMatrix type="matrix" values="1 0 0 0 0 1 0 0 0 0 1 0 0 0 0 0 0 0 0 1"/></filter><filter id="t56" color-interpolation-filters="sRGB"><feColorMatrix type="matrix" values="0 0 0 0 0.133 0 0 0 0 0.133 0 0 0 0 0.133 -35 0 0 0 16.599"/><feGaussianBlur stdDeviation="0.5"/></filter><radialGradient id="g56" gradientUnits="userSpaceOnUse" cx="271" cy="645.3" r="6"><stop offset="0" stop-color="#000" stop-opacity="0.189"/><stop offset="0.45" stop-color="#000" stop-opacity="0.151"/><stop offset="1" stop-color="#000" stop-opacity="0"/></radialGradient><clipPath id="c57"><circle cx="310" cy="643.3" r="17.2"/></clipPath><filter id="p57" x="0" y="0" width="1" height="1" color-interpolation-filters="sRGB"><feTurbulence type="fractalNoise" baseFrequency="0.4" numOctaves="2" seed="402"/><feColorMatrix type="matrix" values="1 0 0 0 0 1 0 0 0 0 1 0 0 0 0 0 0 0 0 1" result="h"/><feTurbulence type="fractalNoise" baseFrequency="0.05" numOctaves="2" seed="503"/><feColorMatrix type="matrix" values="1 0 0 0 0 1 0 0 0 0 1 0 0 0 0 0 0 0 0 1" result="l"/><feComposite in="h" in2="l" operator="arithmetic" k1="0" k2="0.8" k3="0.20" k4="0"/><feColorMatrix type="matrix" values="1 0 0 0 0 1 0 0 0 0 1 0 0 0 0 0 0 0 0 1"/></filter><filter id="t57" color-interpolation-filters="sRGB"><feColorMatrix type="matrix" values="0 0 0 0 0.133 0 0 0 0 0.133 0 0 0 0 0.133 -35 0 0 0 14.659"/><feGaussianBlur stdDeviation="0.4"/></filter><clipPath id="c58"><circle cx="228.2" cy="681.8" r="17.2"/></clipPath><filter id="p58" x="0" y="0" width="1" height="1" color-interpolation-filters="sRGB"><feTurbulence type="fractalNoise" baseFrequency="0.35" numOctaves="2" seed="409"/><feColorMatrix type="matrix" values="1 0 0 0 0 1 0 0 0 0 1 0 0 0 0 0 0 0 0 1" result="h"/><feTurbulence type="fractalNoise" baseFrequency="0.05" numOctaves="2" seed="510"/><feColorMatrix type="matrix" values="1 0 0 0 0 1 0 0 0 0 1 0 0 0 0 0 0 0 0 1" result="l"/><feComposite in="h" in2="l" operator="arithmetic" k1="0" k2="0.6" k3="0.40" k4="0"/><feColorMatrix type="matrix" values="1 0 0 0 0 1 0 0 0 0 1 0 0 0 0 0 0 0 0 1"/></filter><filter id="t58" color-interpolation-filters="sRGB"><feColorMatrix type="matrix" values="0 0 0 0 0.133 0 0 0 0 0.133 0 0 0 0 0.133 -35 0 0 0 21.190"/><feGaussianBlur stdDeviation="0.4"/></filter><clipPath id="c59"><circle cx="269" cy="681.8" r="17.2"/></clipPath><filter id="p59" x="0" y="0" width="1" height="1" color-interpolation-filters="sRGB"><feTurbulence type="fractalNoise" baseFrequency="0.4" numOctaves="2" seed="416"/><feColorMatrix type="matrix" values="1 0 0 0 0 1 0 0 0 0 1 0 0 0 0 0 0 0 0 1" result="h"/><feTurbulence type="fractalNoise" baseFrequency="0.05" numOctaves="2" seed="517"/><feColorMatrix type="matrix" values="1 0 0 0 0 1 0 0 0 0 1 0 0 0 0 0 0 0 0 1" result="l"/><feComposite in="h" in2="l" operator="arithmetic" k1="0" k2="0.8" k3="0.20" k4="0"/><feColorMatrix type="matrix" values="1 0 0 0 0 1 0 0 0 0 1 0 0 0 0 0 0 0 0 1"/></filter><filter id="t59" color-interpolation-filters="sRGB"><feColorMatrix type="matrix" values="0 0 0 0 0.133 0 0 0 0 0.133 0 0 0 0 0.133 -35 0 0 0 18.274"/><feGaussianBlur stdDeviation="0.4"/></filter><clipPath id="c60"><circle cx="310" cy="681.8" r="17.2"/></clipPath><filter id="p60" x="0" y="0" width="1" height="1" color-interpolation-filters="sRGB"><feTurbulence type="fractalNoise" baseFrequency="0.4" numOctaves="2" seed="423"/><feColorMatrix type="matrix" values="1 0 0 0 0 1 0 0 0 0 1 0 0 0 0 0 0 0 0 1" result="h"/><feTurbulence type="fractalNoise" baseFrequency="0.05" numOctaves="2" seed="524"/><feColorMatrix type="matrix" values="1 0 0 0 0 1 0 0 0 0 1 0 0 0 0 0 0 0 0 1" result="l"/><feComposite in="h" in2="l" operator="arithmetic" k1="0" k2="0.8" k3="0.20" k4="0"/><feColorMatrix type="matrix" values="1 0 0 0 0 1 0 0 0 0 1 0 0 0 0 0 0 0 0 1"/></filter><filter id="t60" color-interpolation-filters="sRGB"><feColorMatrix type="matrix" values="0 0 0 0 0.133 0 0 0 0 0.133 0 0 0 0 0.133 -35 0 0 0 18.163"/><feGaussianBlur stdDeviation="0.4"/></filter><linearGradient id="phg" x1="0" y1="0" x2="1" y2="0"><stop offset="0" stop-color="#e7e8ee"/><stop offset="0.6" stop-color="#e2e3ea"/><stop offset="0.9" stop-color="#d5d8df"/><stop offset="0.975" stop-color="#bcc2c9"/><stop offset="1" stop-color="#9aa2ab"/></linearGradient><radialGradient id="phv" gradientUnits="userSpaceOnUse" cx="621" cy="483" r="45"><stop offset="0" stop-color="#9ea5ad" stop-opacity="0.7"/><stop offset="1" stop-color="#c8cbd0" stop-opacity="0"/></radialGradient><radialGradient id="tum" cx="0.45" cy="0.4" r="0.62"><stop offset="0" stop-color="#e4a194"/><stop offset="0.6" stop-color="#d17f73"/><stop offset="1" stop-color="#b95e56"/></radialGradient><filter id="tb" x="-20%" y="-20%" width="140%" height="140%" color-interpolation-filters="sRGB"><feTurbulence type="fractalNoise" baseFrequency="0.09" numOctaves="2" seed="11" result="n"/><feDisplacementMap in="SourceGraphic" in2="n" scale="3.5" xChannelSelector="R" yChannelSelector="G" result="shape"/><feTurbulence type="fractalNoise" baseFrequency="0.16" numOctaves="2" seed="5" result="tex"/><feColorMatrix in="tex" type="matrix" values="0 0 0 0 0.95 0 0 0 0 0.78 0 0 0 0 0.74 3.2 0 0 0 -1.65" result="hl"/><feComposite in="hl" in2="shape" operator="in" result="hl2"/><feColorMatrix in="tex" type="matrix" values="0 0 0 0 0.74 0 0 0 0 0.30 0 0 0 0 0.30 0 -3.5 0 0 1.35" result="dk"/><feComposite in="dk" in2="shape" operator="in" result="dk2"/><feMerge><feMergeNode in="shape"/><feMergeNode in="hl2"/><feMergeNode in="dk2"/></feMerge><feGaussianBlur stdDeviation="0.4"/></filter><linearGradient id="rul" x1="0" y1="0" x2="0" y2="1"><stop offset="0" stop-color="#52b2e2"/><stop offset="1" stop-color="#2f98d2"/></linearGradient></defs><g clip-path="url(#c1)"><circle cx="57.6" cy="155.6" r="17.2" fill="#cfcfcf"/>
<g filter="url(#t1)"><rect x="40.4" y="138.4" width="34.4" height="34.4" filter="url(#p1)"/></g>
</g>
<circle cx="57.6" cy="155.6" r="16.8" fill="none" stroke="#9a9a9a" stroke-width="0.8" opacity="0.5"/>
<g clip-path="url(#c2)"><circle cx="99.2" cy="155.6" r="17.2" fill="#d0d0d0"/>
<g filter="url(#t2)"><rect x="82" y="138.4" width="34.4" height="34.4" filter="url(#p2)"/></g>
</g>
<circle cx="99.2" cy="155.6" r="16.8" fill="none" stroke="#9a9a9a" stroke-width="0.8" opacity="0.5"/>
<g clip-path="url(#c3)"><circle cx="140.1" cy="155.6" r="17.2" fill="#d0d0d0"/>
<g filter="url(#t3)"><rect x="122.9" y="138.4" width="34.4" height="34.4" filter="url(#p3)"/></g>
</g>
<circle cx="140.1" cy="155.6" r="16.8" fill="none" stroke="#9a9a9a" stroke-width="0.8" opacity="0.5"/>
<g clip-path="url(#c4)"><circle cx="57.6" cy="193.9" r="17.2" fill="#c4c4c4"/>
<rect x="40.4" y="176.7" width="34.4" height="34.4" filter="url(#p4)"/>
</g>
<circle cx="57.6" cy="193.9" r="16.8" fill="none" stroke="#9a9a9a" stroke-width="0.8" opacity="0.5"/>
<g clip-path="url(#c5)"><circle cx="99.2" cy="193.9" r="17.2" fill="#cfcfcf"/>
<g filter="url(#t5)"><rect x="82" y="176.7" width="34.4" height="34.4" filter="url(#p5)"/></g>
</g>
<circle cx="99.2" cy="193.9" r="16.8" fill="none" stroke="#9a9a9a" stroke-width="0.8" opacity="0.5"/>
<g clip-path="url(#c6)"><circle cx="140.1" cy="193.9" r="17.2" fill="#cfcfcf"/>
<g filter="url(#t6)"><rect x="122.9" y="176.7" width="34.4" height="34.4" filter="url(#p6)"/><rect x="122.9" y="176.7" width="34.4" height="34.4" fill="url(#g6)"/></g>
</g>
<circle cx="140.1" cy="193.9" r="16.8" fill="none" stroke="#9a9a9a" stroke-width="0.8" opacity="0.5"/>
<text x="57.6" y="222" font-size="8.2" fill="#1e1e1e" color="#1e1e1e" text-anchor="middle">Ctrl</text>
<text x="99.2" y="222" font-size="8.2" fill="#1e1e1e" color="#1e1e1e" text-anchor="middle">KO#1</text>
<text x="140.1" y="222" font-size="8.2" fill="#1e1e1e" color="#1e1e1e" text-anchor="middle">KO#2</text>
<line x1="26.4" y1="146" x2="26.4" y2="205.8" stroke="#777" stroke-width="0.7"/>
<text transform="translate(19.2,176) rotate(-90)" font-size="8.6" fill="#1e1e1e" color="#1e1e1e" text-anchor="middle" dy="0.35em">KU-60019 (μM)</text>
<text x="36.4" y="158.7" font-size="8.2" fill="#1e1e1e" color="#1e1e1e" text-anchor="end">1</text>
<text x="36.4" y="197.2" font-size="8.2" fill="#1e1e1e" color="#1e1e1e" text-anchor="end">0</text>
<g clip-path="url(#c7)"><circle cx="231.9" cy="155.6" r="17.2" fill="#e1e1e1"/>
<g filter="url(#t7)"><rect x="214.7" y="138.4" width="34.4" height="34.4" filter="url(#p7)"/></g>
</g>
<circle cx="231.9" cy="155.6" r="16.8" fill="none" stroke="#c0c0c0" stroke-width="0.8" opacity="0.5"/>
<g clip-path="url(#c8)"><circle cx="272.6" cy="155.6" r="17.2" fill="#d2d2d2"/>
<g filter="url(#t8)"><rect x="255.4" y="138.4" width="34.4" height="34.4" filter="url(#p8)"/></g>
</g>
<circle cx="272.6" cy="155.6" r="16.8" fill="none" stroke="#9a9a9a" stroke-width="0.8" opacity="0.5"/>
<g clip-path="url(#c9)"><circle cx="313.9" cy="155.6" r="17.2" fill="#d2d2d2"/>
<g filter="url(#t9)"><rect x="296.7" y="138.4" width="34.4" height="34.4" filter="url(#p9)"/></g>
</g>
<circle cx="313.9" cy="155.6" r="16.8" fill="none" stroke="#9a9a9a" stroke-width="0.8" opacity="0.5"/>
<g clip-path="url(#c10)"><circle cx="231.9" cy="193.9" r="17.2" fill="#cdcdcd"/>
<g filter="url(#t10)"><rect x="214.7" y="176.7" width="34.4" height="34.4" filter="url(#p10)"/></g>
</g>
<circle cx="231.9" cy="193.9" r="16.8" fill="none" stroke="#9a9a9a" stroke-width="0.8" opacity="0.5"/>
<g clip-path="url(#c11)"><circle cx="272.6" cy="193.9" r="17.2" fill="#cfcfcf"/>
<g filter="url(#t11)"><rect x="255.4" y="176.7" width="34.4" height="34.4" filter="url(#p11)"/></g>
</g>
<circle cx="272.6" cy="193.9" r="16.8" fill="none" stroke="#9a9a9a" stroke-width="0.8" opacity="0.5"/>
<g clip-path="url(#c12)"><circle cx="313.9" cy="193.9" r="17.2" fill="#cfcfcf"/>
<g filter="url(#t12)"><rect x="296.7" y="176.7" width="34.4" height="34.4" filter="url(#p12)"/></g>
</g>
<circle cx="313.9" cy="193.9" r="16.8" fill="none" stroke="#9a9a9a" stroke-width="0.8" opacity="0.5"/>
<text x="231.9" y="222" font-size="8.2" fill="#1e1e1e" color="#1e1e1e" text-anchor="middle">Ctrl</text>
<text x="272.6" y="222" font-size="8.2" fill="#1e1e1e" color="#1e1e1e" text-anchor="middle">KO#1</text>
<text x="313.9" y="222" font-size="8.2" fill="#1e1e1e" color="#1e1e1e" text-anchor="middle">KO#2</text>
<line x1="202.5" y1="145.3" x2="202.5" y2="205.5" stroke="#777" stroke-width="0.7"/>
<text transform="translate(195.1,175.4) rotate(-90)" font-size="8.6" fill="#1e1e1e" color="#1e1e1e" text-anchor="middle" dy="0.35em">KU-55933 (μM)</text>
<text x="211.9" y="158.5" font-size="8.2" fill="#1e1e1e" color="#1e1e1e" text-anchor="end">3</text>
<text x="211.9" y="197.9" font-size="8.2" fill="#1e1e1e" color="#1e1e1e" text-anchor="end">0</text>
<g clip-path="url(#c13)"><circle cx="408.5" cy="156" r="17.2" fill="#cdcdcd"/>
<g filter="url(#t13)"><rect x="391.3" y="138.8" width="34.4" height="34.4" filter="url(#p13)"/><rect x="391.3" y="138.8" width="34.4" height="34.4" fill="url(#g13)"/></g>
</g>
<circle cx="408.5" cy="156" r="16.8" fill="none" stroke="#9a9a9a" stroke-width="0.8" opacity="0.5"/>
<g clip-path="url(#c14)"><circle cx="449.2" cy="156" r="17.2" fill="#cdcdcd"/>
<g filter="url(#t14)"><rect x="432" y="138.8" width="34.4" height="34.4" filter="url(#p14)"/><rect x="432" y="138.8" width="34.4" height="34.4" fill="url(#g14)"/></g>
</g>
<circle cx="449.2" cy="156" r="16.8" fill="none" stroke="#9a9a9a" stroke-width="0.8" opacity="0.5"/>
<g clip-path="url(#c15)"><circle cx="490" cy="156" r="17.2" fill="#cdcdcd"/>
<g filter="url(#t15)"><rect x="472.8" y="138.8" width="34.4" height="34.4" filter="url(#p15)"/></g>
</g>
<circle cx="490" cy="156" r="16.8" fill="none" stroke="#9a9a9a" stroke-width="0.8" opacity="0.5"/>
<g clip-path="url(#c16)"><circle cx="408.5" cy="194.3" r="17.2" fill="#c8c8c8"/>
<g filter="url(#t16)"><rect x="391.3" y="177.1" width="34.4" height="34.4" filter="url(#p16)"/><rect x="391.3" y="177.1" width="34.4" height="34.4" fill="url(#g16)"/></g>
</g>
<circle cx="408.5" cy="194.3" r="16.8" fill="none" stroke="#9a9a9a" stroke-width="0.8" opacity="0.5"/>
<g clip-path="url(#c17)"><circle cx="449.2" cy="194.3" r="17.2" fill="#cbcbcb"/>
<g filter="url(#t17)"><rect x="432" y="177.1" width="34.4" height="34.4" filter="url(#p17)"/><rect x="432" y="177.1" width="34.4" height="34.4" fill="url(#g17)"/></g>
</g>
<circle cx="449.2" cy="194.3" r="16.8" fill="none" stroke="#9a9a9a" stroke-width="0.8" opacity="0.5"/>
<g clip-path="url(#c18)"><circle cx="490" cy="194.3" r="17.2" fill="#cbcbcb"/>
<g filter="url(#t18)"><rect x="472.8" y="177.1" width="34.4" height="34.4" filter="url(#p18)"/><rect x="472.8" y="177.1" width="34.4" height="34.4" fill="url(#g18)"/></g>
</g>
<circle cx="490" cy="194.3" r="16.8" fill="none" stroke="#9a9a9a" stroke-width="0.8" opacity="0.5"/>
<text x="408.5" y="222" font-size="8.2" fill="#1e1e1e" color="#1e1e1e" text-anchor="middle">Ctrl</text>
<text x="449.2" y="222" font-size="8.2" fill="#1e1e1e" color="#1e1e1e" text-anchor="middle">KO#1</text>
<text x="490" y="222" font-size="8.2" fill="#1e1e1e" color="#1e1e1e" text-anchor="middle">KO#2</text>
<line x1="379.3" y1="145.5" x2="379.3" y2="206" stroke="#777" stroke-width="0.7"/>
<text transform="translate(372,176) rotate(-90)" font-size="8.6" fill="#1e1e1e" color="#1e1e1e" text-anchor="middle" dy="0.35em">KU-60019 (μM)</text>
<text x="388.2" y="158.8" font-size="8.2" fill="#1e1e1e" color="#1e1e1e" text-anchor="end">3</text>
<text x="388.2" y="198" font-size="8.2" fill="#1e1e1e" color="#1e1e1e" text-anchor="end">0</text>
<g clip-path="url(#c19)"><circle cx="583.5" cy="155.8" r="17.2" fill="#cfcfcf"/>
<g filter="url(#t19)"><rect x="566.3" y="138.6" width="34.4" height="34.4" filter="url(#p19)"/><rect x="566.3" y="138.6" width="34.4" height="34.4" fill="url(#g19)"/></g>
</g>
<circle cx="583.5" cy="155.8" r="16.8" fill="none" stroke="#9a9a9a" stroke-width="0.8" opacity="0.5"/>
<g clip-path="url(#c20)"><circle cx="625.7" cy="155.8" r="17.2" fill="#cfcfcf"/>
<g filter="url(#t20)"><rect x="608.5" y="138.6" width="34.4" height="34.4" filter="url(#p20)"/><rect x="608.5" y="138.6" width="34.4" height="34.4" fill="url(#g20)"/></g>
</g>
<circle cx="625.7" cy="155.8" r="16.8" fill="none" stroke="#9a9a9a" stroke-width="0.8" opacity="0.5"/>
<g clip-path="url(#c21)"><circle cx="667.6" cy="155.8" r="17.2" fill="#cfcfcf"/>
<g filter="url(#t21)"><rect x="650.4" y="138.6" width="34.4" height="34.4" filter="url(#p21)"/></g>
</g>
<circle cx="667.6" cy="155.8" r="16.8" fill="none" stroke="#9a9a9a" stroke-width="0.8" opacity="0.5"/>
<g clip-path="url(#c22)"><circle cx="583.5" cy="194.3" r="17.2" fill="#cbcbcb"/>
<g filter="url(#t22)"><rect x="566.3" y="177.1" width="34.4" height="34.4" filter="url(#p22)"/><rect x="566.3" y="177.1" width="34.4" height="34.4" fill="url(#g22)"/></g>
</g>
<circle cx="583.5" cy="194.3" r="16.8" fill="none" stroke="#9a9a9a" stroke-width="0.8" opacity="0.5"/>
<g clip-path="url(#c23)"><circle cx="625.7" cy="194.3" r="17.2" fill="#cbcbcb"/>
<g filter="url(#t23)"><rect x="608.5" y="177.1" width="34.4" height="34.4" filter="url(#p23)"/><rect x="608.5" y="177.1" width="34.4" height="34.4" fill="url(#g23)"/></g>
</g>
<circle cx="625.7" cy="194.3" r="16.8" fill="none" stroke="#9a9a9a" stroke-width="0.8" opacity="0.5"/>
<g clip-path="url(#c24)"><circle cx="667.6" cy="194.3" r="17.2" fill="#cbcbcb"/>
<g filter="url(#t24)"><rect x="650.4" y="177.1" width="34.4" height="34.4" filter="url(#p24)"/><rect x="650.4" y="177.1" width="34.4" height="34.4" fill="url(#g24)"/></g>
</g>
<circle cx="667.6" cy="194.3" r="16.8" fill="none" stroke="#9a9a9a" stroke-width="0.8" opacity="0.5"/>
<text x="583.5" y="222" font-size="8.2" fill="#1e1e1e" color="#1e1e1e" text-anchor="middle">Ctrl</text>
<text x="625.7" y="222" font-size="8.2" fill="#1e1e1e" color="#1e1e1e" text-anchor="middle">KO#1</text>
<text x="667.6" y="222" font-size="8.2" fill="#1e1e1e" color="#1e1e1e" text-anchor="middle">KO#2</text>
<line x1="552" y1="145.5" x2="552" y2="206" stroke="#777" stroke-width="0.7"/>
<text transform="translate(545.1,176) rotate(-90)" font-size="8.6" fill="#1e1e1e" color="#1e1e1e" text-anchor="middle" dy="0.35em">KU-55933 (μM)</text>
<text x="563.7" y="158.5" font-size="8.2" fill="#1e1e1e" color="#1e1e1e" text-anchor="end">10</text>
<text x="563.7" y="197.9" font-size="8.2" fill="#1e1e1e" color="#1e1e1e" text-anchor="end">0</text>
<g clip-path="url(#c25)"><circle cx="58.7" cy="394.6" r="17.2" fill="#bdbdbd"/>
<g filter="url(#t25)"><rect x="41.5" y="377.4" width="34.4" height="34.4" filter="url(#p25)"/></g>
</g>
<circle cx="58.7" cy="394.6" r="16.8" fill="none" stroke="#9a9a9a" stroke-width="0.8" opacity="0.5"/>
<g clip-path="url(#c26)"><circle cx="100" cy="394.6" r="17.2" fill="#c6c6c6"/>
<g filter="url(#t26)"><rect x="82.8" y="377.4" width="34.4" height="34.4" filter="url(#p26)"/></g>
</g>
<circle cx="100" cy="394.6" r="16.8" fill="none" stroke="#9a9a9a" stroke-width="0.8" opacity="0.5"/>
<g clip-path="url(#c27)"><circle cx="140.3" cy="394.6" r="17.2" fill="#d8d8d8"/>
<g filter="url(#t27)"><rect x="123.1" y="377.4" width="34.4" height="34.4" filter="url(#p27)"/></g>
</g>
<circle cx="140.3" cy="394.6" r="16.8" fill="none" stroke="#9a9a9a" stroke-width="0.8" opacity="0.5"/>
<g clip-path="url(#c28)"><circle cx="58.7" cy="433.5" r="17.2" fill="#cacaca"/>
<g filter="url(#t28)"><rect x="41.5" y="416.3" width="34.4" height="34.4" filter="url(#p28)"/></g>
</g>
<circle cx="58.7" cy="433.5" r="16.8" fill="none" stroke="#9a9a9a" stroke-width="0.8" opacity="0.5"/>
<g clip-path="url(#c29)"><circle cx="100" cy="433.5" r="17.2" fill="#cacaca"/>
<g filter="url(#t29)"><rect x="82.8" y="416.3" width="34.4" height="34.4" filter="url(#p29)"/></g>
</g>
<circle cx="100" cy="433.5" r="16.8" fill="none" stroke="#9a9a9a" stroke-width="0.8" opacity="0.5"/>
<g clip-path="url(#c30)"><circle cx="140.3" cy="433.5" r="17.2" fill="#cdcdcd"/>
<g filter="url(#t30)"><rect x="123.1" y="416.3" width="34.4" height="34.4" filter="url(#p30)"/></g>
</g>
<circle cx="140.3" cy="433.5" r="16.8" fill="none" stroke="#9a9a9a" stroke-width="0.8" opacity="0.5"/>
<text x="58.7" y="462.4" font-size="8.2" fill="#1e1e1e" color="#1e1e1e" text-anchor="middle">Ctrl</text>
<text x="100" y="462.4" font-size="8.2" fill="#1e1e1e" color="#1e1e1e" text-anchor="middle">KO#1</text>
<text x="140.3" y="462.4" font-size="8.2" fill="#1e1e1e" color="#1e1e1e" text-anchor="middle">KO#2</text>
<line x1="27.5" y1="384.2" x2="27.5" y2="444.4" stroke="#777" stroke-width="0.7"/>
<text transform="translate(20.4,414.3) rotate(-90)" font-size="8.6" fill="#1e1e1e" color="#1e1e1e" text-anchor="middle" dy="0.35em">KU-60019 (μM)</text>
<text x="38.2" y="397.4" font-size="8.2" fill="#1e1e1e" color="#1e1e1e" text-anchor="end">3</text>
<text x="38.2" y="435.9" font-size="8.2" fill="#1e1e1e" color="#1e1e1e" text-anchor="end">0</text>
<g clip-path="url(#c31)"><circle cx="235" cy="394.6" r="17.2" fill="#cacaca"/>
<g filter="url(#t31)"><rect x="217.8" y="377.4" width="34.4" height="34.4" filter="url(#p31)"/></g>
</g>
<circle cx="235" cy="394.6" r="16.8" fill="none" stroke="#9a9a9a" stroke-width="0.8" opacity="0.5"/>
<g clip-path="url(#c32)"><circle cx="276.9" cy="394.6" r="17.2" fill="#cdcdcd"/>
<g filter="url(#t32)"><rect x="259.7" y="377.4" width="34.4" height="34.4" filter="url(#p32)"/></g>
</g>
<circle cx="276.9" cy="394.6" r="16.8" fill="none" stroke="#9a9a9a" stroke-width="0.8" opacity="0.5"/>
<g clip-path="url(#c33)"><circle cx="318" cy="394.6" r="17.2" fill="#e0e0e0"/>
<g filter="url(#t33)"><rect x="300.8" y="377.4" width="34.4" height="34.4" filter="url(#p33)"/></g>
</g>
<circle cx="318" cy="394.6" r="16.8" fill="none" stroke="#9a9a9a" stroke-width="0.8" opacity="0.5"/>
<g clip-path="url(#c34)"><circle cx="235" cy="433.5" r="17.2" fill="#c6c6c6"/>
<g filter="url(#t34)"><rect x="217.8" y="416.3" width="34.4" height="34.4" filter="url(#p34)"/></g>
</g>
<circle cx="235" cy="433.5" r="16.8" fill="none" stroke="#9a9a9a" stroke-width="0.8" opacity="0.5"/>
<g clip-path="url(#c35)"><circle cx="276.9" cy="433.5" r="17.2" fill="#c6c6c6"/>
<g filter="url(#t35)"><rect x="259.7" y="416.3" width="34.4" height="34.4" filter="url(#p35)"/></g>
</g>
<circle cx="276.9" cy="433.5" r="16.8" fill="none" stroke="#9a9a9a" stroke-width="0.8" opacity="0.5"/>
<g clip-path="url(#c36)"><circle cx="318" cy="433.5" r="17.2" fill="#d0d0d0"/>
<g filter="url(#t36)"><rect x="300.8" y="416.3" width="34.4" height="34.4" filter="url(#p36)"/></g>
</g>
<circle cx="318" cy="433.5" r="16.8" fill="none" stroke="#9a9a9a" stroke-width="0.8" opacity="0.5"/>
<text x="235" y="462.4" font-size="8.2" fill="#1e1e1e" color="#1e1e1e" text-anchor="middle">Ctrl</text>
<text x="276.9" y="462.4" font-size="8.2" fill="#1e1e1e" color="#1e1e1e" text-anchor="middle">KO#1</text>
<text x="318" y="462.4" font-size="8.2" fill="#1e1e1e" color="#1e1e1e" text-anchor="middle">KO#2</text>
<line x1="204.7" y1="384.2" x2="204.7" y2="444.4" stroke="#777" stroke-width="0.7"/>
<text transform="translate(197.3,414.3) rotate(-90)" font-size="8.6" fill="#1e1e1e" color="#1e1e1e" text-anchor="middle" dy="0.35em">KU-55933 (μM)</text>
<text x="214.2" y="397.4" font-size="8.2" fill="#1e1e1e" color="#1e1e1e" text-anchor="end">8</text>
<text x="214.2" y="435.9" font-size="8.2" fill="#1e1e1e" color="#1e1e1e" text-anchor="end">0</text>
<g clip-path="url(#c37)"><circle cx="409.6" cy="394.6" r="17.2" fill="#d8d8d8"/>
<g filter="url(#t37)"><rect x="392.4" y="377.4" width="34.4" height="34.4" filter="url(#p37)"/></g>
</g>
<circle cx="409.6" cy="394.6" r="16.8" fill="none" stroke="#9a9a9a" stroke-width="0.8" opacity="0.5"/>
<g clip-path="url(#c38)"><circle cx="450.7" cy="394.6" r="17.2" fill="#cfcfcf"/>
<g filter="url(#t38)"><rect x="433.5" y="377.4" width="34.4" height="34.4" filter="url(#p38)"/></g>
</g>
<circle cx="450.7" cy="394.6" r="16.8" fill="none" stroke="#9a9a9a" stroke-width="0.8" opacity="0.5"/>
<g clip-path="url(#c39)"><circle cx="491.7" cy="394.6" r="17.2" fill="#d2d2d2"/>
<g filter="url(#t39)"><rect x="474.5" y="377.4" width="34.4" height="34.4" filter="url(#p39)"/></g>
</g>
<circle cx="491.7" cy="394.6" r="16.8" fill="none" stroke="#9a9a9a" stroke-width="0.8" opacity="0.5"/>
<g clip-path="url(#c40)"><circle cx="409.6" cy="433.5" r="17.2" fill="#808080"/>
<rect x="392.4" y="416.3" width="34.4" height="34.4" filter="url(#p40)"/>
</g>
<circle cx="409.6" cy="433.5" r="16.8" fill="none" stroke="#9a9a9a" stroke-width="0.8" opacity="0.5"/>
<g clip-path="url(#c41)"><circle cx="450.7" cy="433.5" r="17.2" fill="#707070"/>
<rect x="433.5" y="416.3" width="34.4" height="34.4" filter="url(#p41)"/>
</g>
<circle cx="450.7" cy="433.5" r="16.8" fill="none" stroke="#9a9a9a" stroke-width="0.8" opacity="0.5"/>
<g clip-path="url(#c42)"><circle cx="491.7" cy="433.5" r="17.2" fill="#787878"/>
<rect x="474.5" y="416.3" width="34.4" height="34.4" filter="url(#p42)"/>
</g>
<circle cx="491.7" cy="433.5" r="16.8" fill="none" stroke="#9a9a9a" stroke-width="0.8" opacity="0.5"/>
<text x="409.6" y="462.4" font-size="8.2" fill="#1e1e1e" color="#1e1e1e" text-anchor="middle">Ctrl</text>
<text x="450.7" y="462.4" font-size="8.2" fill="#1e1e1e" color="#1e1e1e" text-anchor="middle">KO#1</text>
<text x="491.7" y="462.4" font-size="8.2" fill="#1e1e1e" color="#1e1e1e" text-anchor="middle">KO#2</text>
<line x1="379.3" y1="384.2" x2="379.3" y2="444.4" stroke="#777" stroke-width="0.7"/>
<text transform="translate(372.5,414.3) rotate(-90)" font-size="8.6" fill="#1e1e1e" color="#1e1e1e" text-anchor="middle" dy="0.35em">KU-60019 (μM)</text>
<text x="389.2" y="397.4" font-size="8.2" fill="#1e1e1e" color="#1e1e1e" text-anchor="end">4</text>
<text x="389.2" y="435.9" font-size="8.2" fill="#1e1e1e" color="#1e1e1e" text-anchor="end">0</text>
<g clip-path="url(#c43)"><circle cx="581.9" cy="394.8" r="17.2" fill="#c8c8c8"/>
<g filter="url(#t43)"><rect x="564.7" y="377.6" width="34.4" height="34.4" filter="url(#p43)"/></g>
</g>
<circle cx="581.9" cy="394.8" r="16.8" fill="none" stroke="#9a9a9a" stroke-width="0.8" opacity="0.5"/>
<g clip-path="url(#c44)"><circle cx="623.5" cy="394.8" r="17.2" fill="#cccccc"/>
<g filter="url(#t44)"><rect x="606.3" y="377.6" width="34.4" height="34.4" filter="url(#p44)"/></g>
</g>
<circle cx="623.5" cy="394.8" r="16.8" fill="none" stroke="#9a9a9a" stroke-width="0.8" opacity="0.5"/>
<g clip-path="url(#c45)"><circle cx="665.6" cy="394.8" r="17.2" fill="#d0d0d0"/>
<g filter="url(#t45)"><rect x="648.4" y="377.6" width="34.4" height="34.4" filter="url(#p45)"/><rect x="648.4" y="377.6" width="34.4" height="34.4" fill="url(#g45)"/></g>
</g>
<circle cx="665.6" cy="394.8" r="16.8" fill="none" stroke="#9a9a9a" stroke-width="0.8" opacity="0.5"/>
<g clip-path="url(#c46)"><circle cx="581.9" cy="433.9" r="17.2" fill="#c8c8c8"/>
<g filter="url(#t46)"><rect x="564.7" y="416.7" width="34.4" height="34.4" filter="url(#p46)"/></g>
</g>
<circle cx="581.9" cy="433.9" r="16.8" fill="none" stroke="#9a9a9a" stroke-width="0.8" opacity="0.5"/>
<g clip-path="url(#c47)"><circle cx="623.5" cy="433.9" r="17.2" fill="#c8c8c8"/>
<g filter="url(#t47)"><rect x="606.3" y="416.7" width="34.4" height="34.4" filter="url(#p47)"/></g>
</g>
<circle cx="623.5" cy="433.9" r="16.8" fill="none" stroke="#9a9a9a" stroke-width="0.8" opacity="0.5"/>
<g clip-path="url(#c48)"><circle cx="665.6" cy="433.9" r="17.2" fill="#c8c8c8"/>
<g filter="url(#t48)"><rect x="648.4" y="416.7" width="34.4" height="34.4" filter="url(#p48)"/></g>
</g>
<circle cx="665.6" cy="433.9" r="16.8" fill="none" stroke="#9a9a9a" stroke-width="0.8" opacity="0.5"/>
<text x="581.9" y="462.4" font-size="8.2" fill="#1e1e1e" color="#1e1e1e" text-anchor="middle">Ctrl</text>
<text x="623.5" y="462.4" font-size="8.2" fill="#1e1e1e" color="#1e1e1e" text-anchor="middle">KO#1</text>
<text x="665.6" y="462.4" font-size="8.2" fill="#1e1e1e" color="#1e1e1e" text-anchor="middle">KO#2</text>
<line x1="552.1" y1="384.2" x2="552.1" y2="444.4" stroke="#777" stroke-width="0.7"/>
<text transform="translate(544.6,414.3) rotate(-90)" font-size="8.6" fill="#1e1e1e" color="#1e1e1e" text-anchor="middle" dy="0.35em">KU-55933 (μM)</text>
<text x="561" y="397.4" font-size="8.2" fill="#1e1e1e" color="#1e1e1e" text-anchor="end">8</text>
<text x="561" y="435.9" font-size="8.2" fill="#1e1e1e" color="#1e1e1e" text-anchor="end">0</text>
<g clip-path="url(#c49)"><circle cx="58.9" cy="642.8" r="17.2" fill="#dcdcdc"/>
<g filter="url(#t49)"><rect x="41.7" y="625.6" width="34.4" height="34.4" filter="url(#p49)"/></g>
</g>
<circle cx="58.9" cy="642.8" r="16.8" fill="none" stroke="#bbbbbb" stroke-width="0.8" opacity="0.5"/>
<g clip-path="url(#c50)"><circle cx="99.6" cy="642.8" r="17.2" fill="#d4d4d4"/>
<g filter="url(#t50)"><rect x="82.4" y="625.6" width="34.4" height="34.4" filter="url(#p50)"/></g>
</g>
<circle cx="99.6" cy="642.8" r="16.8" fill="none" stroke="#9a9a9a" stroke-width="0.8" opacity="0.5"/>
<g clip-path="url(#c51)"><circle cx="140" cy="642.8" r="17.2" fill="#e2e2e2"/>
<g filter="url(#t51)"><rect x="122.8" y="625.6" width="34.4" height="34.4" filter="url(#p51)"/></g>
</g>
<circle cx="140" cy="642.8" r="16.8" fill="none" stroke="#9a9a9a" stroke-width="0.8" opacity="0.5"/>
<g clip-path="url(#c52)"><circle cx="58.9" cy="681.3" r="17.2" fill="#808080"/>
<rect x="41.7" y="664.1" width="34.4" height="34.4" filter="url(#p52)"/>
</g>
<circle cx="58.9" cy="681.3" r="16.8" fill="none" stroke="#9a9a9a" stroke-width="0.8" opacity="0.5"/>
<g clip-path="url(#c53)"><circle cx="99.6" cy="681.3" r="17.2" fill="#d0d0d0"/>
<g filter="url(#t53)"><rect x="82.4" y="664.1" width="34.4" height="34.4" filter="url(#p53)"/></g>
</g>
<circle cx="99.6" cy="681.3" r="16.8" fill="none" stroke="#9a9a9a" stroke-width="0.8" opacity="0.5"/>
<g clip-path="url(#c54)"><circle cx="140" cy="681.3" r="17.2" fill="#d4d4d4"/>
<g filter="url(#t54)"><rect x="122.8" y="664.1" width="34.4" height="34.4" filter="url(#p54)"/><rect x="122.8" y="664.1" width="34.4" height="34.4" fill="url(#g54)"/></g>
</g>
<circle cx="140" cy="681.3" r="16.8" fill="none" stroke="#9a9a9a" stroke-width="0.8" opacity="0.5"/>
<text x="58.9" y="709.8" font-size="8.2" fill="#1e1e1e" color="#1e1e1e" text-anchor="middle">Ctrl</text>
<text x="99.6" y="709.8" font-size="8.2" fill="#1e1e1e" color="#1e1e1e" text-anchor="middle">KO</text>
<text x="140" y="709.8" font-size="8.2" fill="#1e1e1e" color="#1e1e1e" text-anchor="middle">KO +</text>
<text x="140" y="719.6" font-size="8.2" fill="#1e1e1e" color="#1e1e1e" text-anchor="middle">ERCC6L2</text>
<line x1="25.8" y1="633.1" x2="25.8" y2="692.3" stroke="#777" stroke-width="0.7"/>
<text transform="translate(17.2,662.7) rotate(-90)" font-size="8.6" fill="#1e1e1e" color="#1e1e1e" text-anchor="middle" dy="0.35em">KU-60019 (μM)</text>
<text x="38.2" y="645.2" font-size="8.2" fill="#1e1e1e" color="#1e1e1e" text-anchor="end">1.5</text>
<text x="38.2" y="684.6" font-size="8.2" fill="#1e1e1e" color="#1e1e1e" text-anchor="end">0</text>
<g clip-path="url(#c55)"><circle cx="228.2" cy="643.3" r="17.2" fill="#d8d8d8"/>
<g filter="url(#t55)"><rect x="211" y="626.1" width="34.4" height="34.4" filter="url(#p55)"/></g>
</g>
<circle cx="228.2" cy="643.3" r="16.8" fill="none" stroke="#9a9a9a" stroke-width="0.8" opacity="0.5"/>
<g clip-path="url(#c56)"><circle cx="269" cy="643.3" r="17.2" fill="#d2d2d2"/>
<g filter="url(#t56)"><rect x="251.8" y="626.1" width="34.4" height="34.4" filter="url(#p56)"/><rect x="251.8" y="626.1" width="34.4" height="34.4" fill="url(#g56)"/></g>
</g>
<circle cx="269" cy="643.3" r="16.8" fill="none" stroke="#9a9a9a" stroke-width="0.8" opacity="0.5"/>
<g clip-path="url(#c57)"><circle cx="310" cy="643.3" r="17.2" fill="#dcdcdc"/>
<g filter="url(#t57)"><rect x="292.8" y="626.1" width="34.4" height="34.4" filter="url(#p57)"/></g>
</g>
<circle cx="310" cy="643.3" r="16.8" fill="none" stroke="#9a9a9a" stroke-width="0.8" opacity="0.5"/>
<g clip-path="url(#c58)"><circle cx="228.2" cy="681.8" r="17.2" fill="#c8c8c8"/>
<g filter="url(#t58)"><rect x="211" y="664.6" width="34.4" height="34.4" filter="url(#p58)"/></g>
</g>
<circle cx="228.2" cy="681.8" r="16.8" fill="none" stroke="#9a9a9a" stroke-width="0.8" opacity="0.5"/>
<g clip-path="url(#c59)"><circle cx="269" cy="681.8" r="17.2" fill="#d0d0d0"/>
<g filter="url(#t59)"><rect x="251.8" y="664.6" width="34.4" height="34.4" filter="url(#p59)"/></g>
</g>
<circle cx="269" cy="681.8" r="16.8" fill="none" stroke="#9a9a9a" stroke-width="0.8" opacity="0.5"/>
<g clip-path="url(#c60)"><circle cx="310" cy="681.8" r="17.2" fill="#d0d0d0"/>
<g filter="url(#t60)"><rect x="292.8" y="664.6" width="34.4" height="34.4" filter="url(#p60)"/></g>
</g>
<circle cx="310" cy="681.8" r="16.8" fill="none" stroke="#9a9a9a" stroke-width="0.8" opacity="0.5"/>
<text x="228.2" y="709.8" font-size="8.2" fill="#1e1e1e" color="#1e1e1e" text-anchor="middle">Ctrl</text>
<text x="269" y="709.8" font-size="8.2" fill="#1e1e1e" color="#1e1e1e" text-anchor="middle">KO</text>
<text x="310" y="709.8" font-size="8.2" fill="#1e1e1e" color="#1e1e1e" text-anchor="middle">KO +</text>
<text x="310" y="719.6" font-size="8.2" fill="#1e1e1e" color="#1e1e1e" text-anchor="middle">ERCC6L2</text>
<line x1="199.2" y1="633.1" x2="199.2" y2="693.4" stroke="#777" stroke-width="0.7"/>
<text transform="translate(190.9,663.2) rotate(-90)" font-size="8.6" fill="#1e1e1e" color="#1e1e1e" text-anchor="middle" dy="0.35em">KU-60019 (μM)</text>
<text x="208.2" y="645.2" font-size="8.2" fill="#1e1e1e" color="#1e1e1e" text-anchor="end">3</text>
<text x="208.2" y="684.6" font-size="8.2" fill="#1e1e1e" color="#1e1e1e" text-anchor="end">0</text>
<text x="0" y="9" font-size="11.5" fill="#000" color="#000" text-anchor="start" font-weight="bold">a</text>
<text x="97" y="11.8" font-size="8.5" fill="#1e1e1e" color="#1e1e1e" text-anchor="middle">U2OS</text>
<text transform="translate(4.6,58.5) rotate(-90)" font-size="8.6" fill="#1e1e1e" color="#1e1e1e" text-anchor="middle" dy="0.35em">Survival</text>
<text transform="translate(14.6,58.5) rotate(-90)" font-size="8.6" fill="#1e1e1e" color="#1e1e1e" text-anchor="middle" dy="0.35em">(relative to untreated)</text>
<line x1="43.4" y1="103.3" x2="146.2" y2="103.3" stroke="#555555" stroke-width="0.8"/>
<line x1="43.4" y1="106.3" x2="43.4" y2="18.2" stroke="#555555" stroke-width="0.8"/>
<line x1="43.4" y1="103.3" x2="43.4" y2="106.3" stroke="#555555" stroke-width="0.8"/>
<text x="43.4" y="116.1" font-size="7.2" fill="#1e1e1e" color="#1e1e1e" text-anchor="middle">0</text>
<line x1="69" y1="103.3" x2="69" y2="106.3" stroke="#555555" stroke-width="0.8"/>
<text x="69" y="116.1" font-size="7.2" fill="#1e1e1e" color="#1e1e1e" text-anchor="middle">0.25</text>
<line x1="94.6" y1="103.3" x2="94.6" y2="106.3" stroke="#555555" stroke-width="0.8"/>
<text x="94.6" y="116.1" font-size="7.2" fill="#1e1e1e" color="#1e1e1e" text-anchor="middle">0.50</text>
<line x1="120.2" y1="103.3" x2="120.2" y2="106.3" stroke="#555555" stroke-width="0.8"/>
<text x="120.2" y="116.1" font-size="7.2" fill="#1e1e1e" color="#1e1e1e" text-anchor="middle">0.75</text>
<line x1="145.8" y1="103.3" x2="145.8" y2="106.3" stroke="#555555" stroke-width="0.8"/>
<text x="145.8" y="116.1" font-size="7.2" fill="#1e1e1e" color="#1e1e1e" text-anchor="middle">1.00</text>
<line x1="40.4" y1="103.3" x2="43.4" y2="103.3" stroke="#555555" stroke-width="0.8"/>
<text x="37.6" y="105.9" font-size="7.2" fill="#1e1e1e" color="#1e1e1e" text-anchor="end">0</text>
<line x1="40.4" y1="86.36" x2="43.4" y2="86.36" stroke="#555555" stroke-width="0.8"/>
<text x="37.6" y="88.96" font-size="7.2" fill="#1e1e1e" color="#1e1e1e" text-anchor="end">0.2</text>
<line x1="40.4" y1="69.42" x2="43.4" y2="69.42" stroke="#555555" stroke-width="0.8"/>
<text x="37.6" y="72.02" font-size="7.2" fill="#1e1e1e" color="#1e1e1e" text-anchor="end">0.4</text>
<line x1="40.4" y1="52.48" x2="43.4" y2="52.48" stroke="#555555" stroke-width="0.8"/>
<text x="37.6" y="55.08" font-size="7.2" fill="#1e1e1e" color="#1e1e1e" text-anchor="end">0.6</text>
<line x1="40.4" y1="35.54" x2="43.4" y2="35.54" stroke="#555555" stroke-width="0.8"/>
<text x="37.6" y="38.14" font-size="7.2" fill="#1e1e1e" color="#1e1e1e" text-anchor="end">0.8</text>
<line x1="40.4" y1="18.6" x2="43.4" y2="18.6" stroke="#555555" stroke-width="0.8"/>
<text x="37.6" y="21.2" font-size="7.2" fill="#1e1e1e" color="#1e1e1e" text-anchor="end">1.0</text>
<polyline points="43.4,18.6 94.6,40.11 120.2,83.82 145.8,103.3" fill="none" stroke="#8a8a8a" stroke-width="1.1" stroke-linejoin="round"/>
<path d="M43.4 15.21V21.99M42.1 15.21h2.6M42.1 21.99h2.6" stroke="#8a8a8a" stroke-width="0.6" fill="none"/>
<circle cx="43.4" cy="18.6" r="1.5" fill="#8a8a8a"/>
<path d="M94.6 36.3V43.93M93.3 36.3h2.6M93.3 43.93h2.6" stroke="#8a8a8a" stroke-width="0.6" fill="none"/>
<circle cx="94.6" cy="40.11" r="1.5" fill="#8a8a8a"/>
<path d="M120.2 81.7V85.94M118.9 81.7h2.6M118.9 85.94h2.6" stroke="#8a8a8a" stroke-width="0.6" fill="none"/>
<circle cx="120.2" cy="83.82" r="1.5" fill="#8a8a8a"/>
<circle cx="145.8" cy="103.3" r="1.5" fill="#8a8a8a"/>
<polyline points="43.4,18.6 94.6,25.55 120.2,34.02 145.8,45.96" fill="none" stroke="#2a78c4" stroke-width="1.1" stroke-linejoin="round"/>
<path d="M43.4 16.06V21.14M42.1 16.06h2.6M42.1 21.14h2.6" stroke="#2a78c4" stroke-width="0.6" fill="none"/>
<circle cx="43.4" cy="18.6" r="1.5" fill="#2a78c4"/>
<path d="M94.6 23V28.09M93.3 23h2.6M93.3 28.09h2.6" stroke="#2a78c4" stroke-width="0.6" fill="none"/>
<circle cx="94.6" cy="25.55" r="1.5" fill="#2a78c4"/>
<circle cx="120.2" cy="34.02" r="1.5" fill="#2a78c4"/>
<path d="M145.8 44.26V47.65M144.5 44.26h2.6M144.5 47.65h2.6" stroke="#2a78c4" stroke-width="0.6" fill="none"/>
<circle cx="145.8" cy="45.96" r="1.5" fill="#2a78c4"/>
<polyline points="43.4,18.6 94.6,19.7 120.2,25.04 145.8,39.61" fill="none" stroke="#c0303a" stroke-width="1.1" stroke-linejoin="round"/>
<path d="M43.4 15.21V21.99M42.1 15.21h2.6M42.1 21.99h2.6" stroke="#c0303a" stroke-width="0.6" fill="none"/>
<circle cx="43.4" cy="18.6" r="1.5" fill="#c0303a"/>
<circle cx="94.6" cy="19.7" r="1.5" fill="#c0303a"/>
<path d="M120.2 23.77V26.31M118.9 23.77h2.6M118.9 26.31h2.6" stroke="#c0303a" stroke-width="0.6" fill="none"/>
<circle cx="120.2" cy="25.04" r="1.5" fill="#c0303a"/>
<path d="M145.8 38.59V40.62M144.5 38.59h2.6M144.5 40.62h2.6" stroke="#c0303a" stroke-width="0.6" fill="none"/>
<circle cx="145.8" cy="39.61" r="1.5" fill="#c0303a"/>
<text x="97.4" y="128.6" font-size="8.6" fill="#1e1e1e" color="#1e1e1e" text-anchor="middle">KU-60019 (μM)</text>
<text x="46.5" y="74" font-size="6.6" fill="#8a8a8a" color="#8a8a8a" text-anchor="start">Ctrl</text>
<text x="46.5" y="86.1" font-size="6.6" fill="#c0303a" color="#c0303a" text-anchor="start">KO#1</text>
<text x="46.5" y="98.4" font-size="6.6" fill="#2a78c4" color="#2a78c4" text-anchor="start">KO#2</text>
<line x1="65.4" y1="70.8" x2="65.4" y2="82.6" stroke="#555" stroke-width="0.6"/>
<text transform="translate(69.4,81.8) rotate(90)" font-size="6.8" fill="#222" color="#222" text-anchor="middle" dy="0.35em"><tspan font-style="italic">P</tspan> &lt; 0.0001</text>
<line x1="74.9" y1="71.2" x2="74.9" y2="95.7" stroke="#b0b0b0" stroke-width="0.6"/>
<text transform="translate(79.6,84.2) rotate(90)" font-size="6.8" fill="#222" color="#222" text-anchor="middle" dy="0.35em"><tspan font-style="italic">P</tspan> &lt; 0.0001</text>
<text x="172.5" y="9" font-size="11.5" fill="#000" color="#000" text-anchor="start" font-weight="bold">b</text>
<text x="269.6" y="11.8" font-size="8.5" fill="#1e1e1e" color="#1e1e1e" text-anchor="middle">U2OS</text>
<text transform="translate(178.7,58.2) rotate(-90)" font-size="8.6" fill="#1e1e1e" color="#1e1e1e" text-anchor="middle" dy="0.35em">Survival</text>
<text transform="translate(189.1,58.2) rotate(-90)" font-size="8.6" fill="#1e1e1e" color="#1e1e1e" text-anchor="middle" dy="0.35em">(relative to untreated)</text>
<line x1="218.5" y1="103.4" x2="323.3" y2="103.4" stroke="#555555" stroke-width="0.8"/>
<line x1="218.5" y1="106.4" x2="218.5" y2="17.8" stroke="#555555" stroke-width="0.8"/>
<line x1="218.5" y1="103.4" x2="218.5" y2="106.4" stroke="#555555" stroke-width="0.8"/>
<text x="218.5" y="116.2" font-size="7.2" fill="#1e1e1e" color="#1e1e1e" text-anchor="middle">0</text>
<line x1="253.3" y1="103.4" x2="253.3" y2="106.4" stroke="#555555" stroke-width="0.8"/>
<text x="253.3" y="116.2" font-size="7.2" fill="#1e1e1e" color="#1e1e1e" text-anchor="middle">1</text>
<line x1="288.1" y1="103.4" x2="288.1" y2="106.4" stroke="#555555" stroke-width="0.8"/>
<text x="288.1" y="116.2" font-size="7.2" fill="#1e1e1e" color="#1e1e1e" text-anchor="middle">2</text>
<line x1="322.9" y1="103.4" x2="322.9" y2="106.4" stroke="#555555" stroke-width="0.8"/>
<text x="322.9" y="116.2" font-size="7.2" fill="#1e1e1e" color="#1e1e1e" text-anchor="middle">3</text>
<line x1="215.5" y1="103.4" x2="218.5" y2="103.4" stroke="#555555" stroke-width="0.8"/>
<text x="212.7" y="106" font-size="7.2" fill="#1e1e1e" color="#1e1e1e" text-anchor="end">0</text>
<line x1="215.5" y1="86.36" x2="218.5" y2="86.36" stroke="#555555" stroke-width="0.8"/>
<text x="212.7" y="88.96" font-size="7.2" fill="#1e1e1e" color="#1e1e1e" text-anchor="end">0.2</text>
<line x1="215.5" y1="69.32" x2="218.5" y2="69.32" stroke="#555555" stroke-width="0.8"/>
<text x="212.7" y="71.92" font-size="7.2" fill="#1e1e1e" color="#1e1e1e" text-anchor="end">0.4</text>
<line x1="215.5" y1="52.28" x2="218.5" y2="52.28" stroke="#555555" stroke-width="0.8"/>
<text x="212.7" y="54.88" font-size="7.2" fill="#1e1e1e" color="#1e1e1e" text-anchor="end">0.6</text>
<line x1="215.5" y1="35.24" x2="218.5" y2="35.24" stroke="#555555" stroke-width="0.8"/>
<text x="212.7" y="37.84" font-size="7.2" fill="#1e1e1e" color="#1e1e1e" text-anchor="end">0.8</text>
<line x1="215.5" y1="18.2" x2="218.5" y2="18.2" stroke="#555555" stroke-width="0.8"/>
<text x="212.7" y="20.8" font-size="7.2" fill="#1e1e1e" color="#1e1e1e" text-anchor="end">1.0</text>
<polyline points="218.5,18.2 253.3,63.44 288.1,93.26 322.9,102.97" fill="none" stroke="#8a8a8a" stroke-width="1.1" stroke-linejoin="round"/>
<path d="M218.5 16.5V19.9M217.2 16.5h2.6M217.2 19.9h2.6" stroke="#8a8a8a" stroke-width="0.6" fill="none"/>
<circle cx="218.5" cy="18.2" r="1.5" fill="#8a8a8a"/>
<path d="M253.3 62.16V64.72M252 62.16h2.6M252 64.72h2.6" stroke="#8a8a8a" stroke-width="0.6" fill="none"/>
<circle cx="253.3" cy="63.44" r="1.5" fill="#8a8a8a"/>
<path d="M288.1 92.41V94.11M286.8 92.41h2.6M286.8 94.11h2.6" stroke="#8a8a8a" stroke-width="0.6" fill="none"/>
<circle cx="288.1" cy="93.26" r="1.5" fill="#8a8a8a"/>
<circle cx="322.9" cy="102.97" r="1.5" fill="#8a8a8a"/>
<polyline points="218.5,18.2 253.3,22.63 288.1,29.96 322.9,44.78" fill="none" stroke="#2a78c4" stroke-width="1.1" stroke-linejoin="round"/>
<path d="M218.5 13.94V22.46M217.2 13.94h2.6M217.2 22.46h2.6" stroke="#2a78c4" stroke-width="0.6" fill="none"/>
<circle cx="218.5" cy="18.2" r="1.5" fill="#2a78c4"/>
<path d="M253.3 20.5V24.76M252 20.5h2.6M252 24.76h2.6" stroke="#2a78c4" stroke-width="0.6" fill="none"/>
<circle cx="253.3" cy="22.63" r="1.5" fill="#2a78c4"/>
<path d="M288.1 27.83V32.09M286.8 27.83h2.6M286.8 32.09h2.6" stroke="#2a78c4" stroke-width="0.6" fill="none"/>
<circle cx="288.1" cy="29.96" r="1.5" fill="#2a78c4"/>
<path d="M322.9 42.65V46.91M321.6 42.65h2.6M321.6 46.91h2.6" stroke="#2a78c4" stroke-width="0.6" fill="none"/>
<circle cx="322.9" cy="44.78" r="1.5" fill="#2a78c4"/>
<polyline points="218.5,18.2 253.3,20.5 288.1,32.77 322.9,57.56" fill="none" stroke="#c0303a" stroke-width="1.1" stroke-linejoin="round"/>
<path d="M218.5 15.64V20.76M217.2 15.64h2.6M217.2 20.76h2.6" stroke="#c0303a" stroke-width="0.6" fill="none"/>
<circle cx="218.5" cy="18.2" r="1.5" fill="#c0303a"/>
<path d="M253.3 18.8V22.2M252 18.8h2.6M252 22.2h2.6" stroke="#c0303a" stroke-width="0.6" fill="none"/>
<circle cx="253.3" cy="20.5" r="1.5" fill="#c0303a"/>
<path d="M288.1 30.64V34.9M286.8 30.64h2.6M286.8 34.9h2.6" stroke="#c0303a" stroke-width="0.6" fill="none"/>
<circle cx="288.1" cy="32.77" r="1.5" fill="#c0303a"/>
<path d="M322.9 55.43V59.69M321.6 55.43h2.6M321.6 59.69h2.6" stroke="#c0303a" stroke-width="0.6" fill="none"/>
<circle cx="322.9" cy="57.56" r="1.5" fill="#c0303a"/>
<text x="271.5" y="127.7" font-size="8.6" fill="#1e1e1e" color="#1e1e1e" text-anchor="middle">KU-55933 (μM)</text>
<text x="219.7" y="73.8" font-size="6.6" fill="#8a8a8a" color="#8a8a8a" text-anchor="start">Ctrl</text>
<text x="219.7" y="85.5" font-size="6.6" fill="#c0303a" color="#c0303a" text-anchor="start">KO#1</text>
<text x="219.7" y="97.1" font-size="6.6" fill="#2a78c4" color="#2a78c4" text-anchor="start">KO#2</text>
<line x1="239" y1="69.9" x2="239" y2="95" stroke="#555" stroke-width="0.6"/>
<text transform="translate(243.4,80.5) rotate(90)" font-size="6.8" fill="#222" color="#222" text-anchor="middle" dy="0.35em"><tspan font-style="italic">P</tspan> &lt; 0.0001</text>
<line x1="249.5" y1="70" x2="249.5" y2="100.9" stroke="#555" stroke-width="0.6"/>
<text transform="translate(252.4,84) rotate(90)" font-size="6.8" fill="#222" color="#222" text-anchor="middle" dy="0.35em"><tspan font-style="italic">P</tspan> &lt; 0.0001</text>
<text x="351.5" y="9" font-size="11.5" fill="#000" color="#000" text-anchor="start" font-weight="bold">c</text>
<text x="449.6" y="11.8" font-size="8.5" fill="#1e1e1e" color="#1e1e1e" text-anchor="middle">HeLa</text>
<text transform="translate(359,58.5) rotate(-90)" font-size="8.6" fill="#1e1e1e" color="#1e1e1e" text-anchor="middle" dy="0.35em">Survival</text>
<text transform="translate(368.8,58.5) rotate(-90)" font-size="8.6" fill="#1e1e1e" color="#1e1e1e" text-anchor="middle" dy="0.35em">(relative to untreated)</text>
<line x1="395.8" y1="103.2" x2="502.7" y2="103.2" stroke="#555555" stroke-width="0.8"/>
<line x1="395.8" y1="106.2" x2="395.8" y2="17.9" stroke="#555555" stroke-width="0.8"/>
<line x1="395.8" y1="103.2" x2="395.8" y2="106.2" stroke="#555555" stroke-width="0.8"/>
<text x="395.8" y="116" font-size="7.2" fill="#1e1e1e" color="#1e1e1e" text-anchor="middle">0</text>
<line x1="431.3" y1="103.2" x2="431.3" y2="106.2" stroke="#555555" stroke-width="0.8"/>
<text x="431.3" y="116" font-size="7.2" fill="#1e1e1e" color="#1e1e1e" text-anchor="middle">1</text>
<line x1="466.8" y1="103.2" x2="466.8" y2="106.2" stroke="#555555" stroke-width="0.8"/>
<text x="466.8" y="116" font-size="7.2" fill="#1e1e1e" color="#1e1e1e" text-anchor="middle">2</text>
<line x1="502.3" y1="103.2" x2="502.3" y2="106.2" stroke="#555555" stroke-width="0.8"/>
<text x="502.3" y="116" font-size="7.2" fill="#1e1e1e" color="#1e1e1e" text-anchor="middle">3</text>
<line x1="392.8" y1="103.2" x2="395.8" y2="103.2" stroke="#555555" stroke-width="0.8"/>
<text x="390" y="105.8" font-size="7.2" fill="#1e1e1e" color="#1e1e1e" text-anchor="end">0</text>
<line x1="392.8" y1="86.22" x2="395.8" y2="86.22" stroke="#555555" stroke-width="0.8"/>
<text x="390" y="88.82" font-size="7.2" fill="#1e1e1e" color="#1e1e1e" text-anchor="end">0.2</text>
<line x1="392.8" y1="69.24" x2="395.8" y2="69.24" stroke="#555555" stroke-width="0.8"/>
<text x="390" y="71.84" font-size="7.2" fill="#1e1e1e" color="#1e1e1e" text-anchor="end">0.4</text>
<line x1="392.8" y1="52.26" x2="395.8" y2="52.26" stroke="#555555" stroke-width="0.8"/>
<text x="390" y="54.86" font-size="7.2" fill="#1e1e1e" color="#1e1e1e" text-anchor="end">0.6</text>
<line x1="392.8" y1="35.28" x2="395.8" y2="35.28" stroke="#555555" stroke-width="0.8"/>
<text x="390" y="37.88" font-size="7.2" fill="#1e1e1e" color="#1e1e1e" text-anchor="end">0.8</text>
<line x1="392.8" y1="18.3" x2="395.8" y2="18.3" stroke="#555555" stroke-width="0.8"/>
<text x="390" y="20.9" font-size="7.2" fill="#1e1e1e" color="#1e1e1e" text-anchor="end">1.0</text>
<polyline points="395.8,18.3 431.3,63.81 466.8,85.03 502.3,96.58" fill="none" stroke="#8a8a8a" stroke-width="1.1" stroke-linejoin="round"/>
<path d="M395.8 15.75V20.85M394.5 15.75h2.6M394.5 20.85h2.6" stroke="#8a8a8a" stroke-width="0.6" fill="none"/>
<circle cx="395.8" cy="18.3" r="1.5" fill="#8a8a8a"/>
<path d="M431.3 62.96V64.66M430 62.96h2.6M430 64.66h2.6" stroke="#8a8a8a" stroke-width="0.6" fill="none"/>
<circle cx="431.3" cy="63.81" r="1.5" fill="#8a8a8a"/>
<path d="M466.8 82.48V87.58M465.5 82.48h2.6M465.5 87.58h2.6" stroke="#8a8a8a" stroke-width="0.6" fill="none"/>
<circle cx="466.8" cy="85.03" r="1.5" fill="#8a8a8a"/>
<path d="M502.3 95.73V97.43M501 95.73h2.6M501 97.43h2.6" stroke="#8a8a8a" stroke-width="0.6" fill="none"/>
<circle cx="502.3" cy="96.58" r="1.5" fill="#8a8a8a"/>
<polyline points="395.8,18.3 431.3,36.47 466.8,66.86 502.3,85.54" fill="none" stroke="#2a78c4" stroke-width="1.1" stroke-linejoin="round"/>
<path d="M395.8 15.75V20.85M394.5 15.75h2.6M394.5 20.85h2.6" stroke="#2a78c4" stroke-width="0.6" fill="none"/>
<circle cx="395.8" cy="18.3" r="1.5" fill="#2a78c4"/>
<path d="M431.3 33.5V39.44M430 33.5h2.6M430 39.44h2.6" stroke="#2a78c4" stroke-width="0.6" fill="none"/>
<circle cx="431.3" cy="36.47" r="1.5" fill="#2a78c4"/>
<path d="M466.8 63.89V69.83M465.5 63.89h2.6M465.5 69.83h2.6" stroke="#2a78c4" stroke-width="0.6" fill="none"/>
<circle cx="466.8" cy="66.86" r="1.5" fill="#2a78c4"/>
<path d="M502.3 84.69V86.39M501 84.69h2.6M501 86.39h2.6" stroke="#2a78c4" stroke-width="0.6" fill="none"/>
<circle cx="502.3" cy="85.54" r="1.5" fill="#2a78c4"/>
<polyline points="395.8,18.3 431.3,30.02 466.8,52.26 502.3,80.96" fill="none" stroke="#c0303a" stroke-width="1.1" stroke-linejoin="round"/>
<path d="M395.8 13.21V23.39M394.5 13.21h2.6M394.5 23.39h2.6" stroke="#c0303a" stroke-width="0.6" fill="none"/>
<circle cx="395.8" cy="18.3" r="1.5" fill="#c0303a"/>
<path d="M431.3 26.62V33.41M430 26.62h2.6M430 33.41h2.6" stroke="#c0303a" stroke-width="0.6" fill="none"/>
<circle cx="431.3" cy="30.02" r="1.5" fill="#c0303a"/>
<path d="M466.8 50.56V53.96M465.5 50.56h2.6M465.5 53.96h2.6" stroke="#c0303a" stroke-width="0.6" fill="none"/>
<circle cx="466.8" cy="52.26" r="1.5" fill="#c0303a"/>
<path d="M502.3 79.26V82.65M501 79.26h2.6M501 82.65h2.6" stroke="#c0303a" stroke-width="0.6" fill="none"/>
<circle cx="502.3" cy="80.96" r="1.5" fill="#c0303a"/>
<text x="449.6" y="127.7" font-size="8.6" fill="#1e1e1e" color="#1e1e1e" text-anchor="middle">KU-60019 (μM)</text>
<text x="399" y="74.5" font-size="6.6" fill="#8a8a8a" color="#8a8a8a" text-anchor="start">Ctrl</text>
<text x="399" y="86" font-size="6.6" fill="#c0303a" color="#c0303a" text-anchor="start">KO#1</text>
<text x="399" y="97.6" font-size="6.6" fill="#2a78c4" color="#2a78c4" text-anchor="start">KO#2</text>
<line x1="416.2" y1="70" x2="416.2" y2="80.7" stroke="#555" stroke-width="0.6"/>
<text transform="translate(420.2,81.2) rotate(90)" font-size="6.8" fill="#222" color="#222" text-anchor="middle" dy="0.35em"><tspan font-style="italic">P</tspan> &lt; 0.0001</text>
<line x1="425" y1="70" x2="425" y2="94" stroke="#555" stroke-width="0.6"/>
<text transform="translate(431.2,85.2) rotate(90)" font-size="6.8" fill="#222" color="#222" text-anchor="middle" dy="0.35em"><tspan font-style="italic">P</tspan> &lt; 0.0001</text>
<text x="523.5" y="9" font-size="11.5" fill="#000" color="#000" text-anchor="start" font-weight="bold">d</text>
<text x="620.8" y="12.1" font-size="8.5" fill="#1e1e1e" color="#1e1e1e" text-anchor="middle">HeLa</text>
<text transform="translate(529.2,59.4) rotate(-90)" font-size="8.6" fill="#1e1e1e" color="#1e1e1e" text-anchor="middle" dy="0.35em">Survival</text>
<text transform="translate(539.6,59.4) rotate(-90)" font-size="8.6" fill="#1e1e1e" color="#1e1e1e" text-anchor="middle" dy="0.35em">(relative to untreated)</text>
<line x1="568.1" y1="102.9" x2="672.8" y2="102.9" stroke="#555555" stroke-width="0.8"/>
<line x1="568.1" y1="105.9" x2="568.1" y2="19.5" stroke="#555555" stroke-width="0.8"/>
<line x1="568.1" y1="102.9" x2="568.1" y2="105.9" stroke="#555555" stroke-width="0.8"/>
<text x="568.1" y="115.7" font-size="7.2" fill="#1e1e1e" color="#1e1e1e" text-anchor="middle">0</text>
<line x1="588.96" y1="102.9" x2="588.96" y2="105.9" stroke="#555555" stroke-width="0.8"/>
<text x="588.96" y="115.7" font-size="7.2" fill="#1e1e1e" color="#1e1e1e" text-anchor="middle">2</text>
<line x1="609.82" y1="102.9" x2="609.82" y2="105.9" stroke="#555555" stroke-width="0.8"/>
<text x="609.82" y="115.7" font-size="7.2" fill="#1e1e1e" color="#1e1e1e" text-anchor="middle">4</text>
<line x1="630.68" y1="102.9" x2="630.68" y2="105.9" stroke="#555555" stroke-width="0.8"/>
<text x="630.68" y="115.7" font-size="7.2" fill="#1e1e1e" color="#1e1e1e" text-anchor="middle">6</text>
<line x1="651.54" y1="102.9" x2="651.54" y2="105.9" stroke="#555555" stroke-width="0.8"/>
<text x="651.54" y="115.7" font-size="7.2" fill="#1e1e1e" color="#1e1e1e" text-anchor="middle">8</text>
<line x1="672.4" y1="102.9" x2="672.4" y2="105.9" stroke="#555555" stroke-width="0.8"/>
<text x="672.4" y="115.7" font-size="7.2" fill="#1e1e1e" color="#1e1e1e" text-anchor="middle">10</text>
<line x1="565.1" y1="102.9" x2="568.1" y2="102.9" stroke="#555555" stroke-width="0.8"/>
<text x="562.3" y="105.5" font-size="7.2" fill="#1e1e1e" color="#1e1e1e" text-anchor="end">0</text>
<line x1="565.1" y1="86.3" x2="568.1" y2="86.3" stroke="#555555" stroke-width="0.8"/>
<text x="562.3" y="88.9" font-size="7.2" fill="#1e1e1e" color="#1e1e1e" text-anchor="end">0.2</text>
<line x1="565.1" y1="69.7" x2="568.1" y2="69.7" stroke="#555555" stroke-width="0.8"/>
<text x="562.3" y="72.3" font-size="7.2" fill="#1e1e1e" color="#1e1e1e" text-anchor="end">0.4</text>
<line x1="565.1" y1="53.1" x2="568.1" y2="53.1" stroke="#555555" stroke-width="0.8"/>
<text x="562.3" y="55.7" font-size="7.2" fill="#1e1e1e" color="#1e1e1e" text-anchor="end">0.6</text>
<line x1="565.1" y1="36.5" x2="568.1" y2="36.5" stroke="#555555" stroke-width="0.8"/>
<text x="562.3" y="39.1" font-size="7.2" fill="#1e1e1e" color="#1e1e1e" text-anchor="end">0.8</text>
<line x1="565.1" y1="19.9" x2="568.1" y2="19.9" stroke="#555555" stroke-width="0.8"/>
<text x="562.3" y="22.5" font-size="7.2" fill="#1e1e1e" color="#1e1e1e" text-anchor="end">1.0</text>
<polyline points="568.1,19.9 620.25,47.54 651.54,65.14 672.4,87.3" fill="none" stroke="#8a8a8a" stroke-width="1.1" stroke-linejoin="round"/>
<path d="M568.1 18.66V21.15M566.8 18.66h2.6M566.8 21.15h2.6" stroke="#8a8a8a" stroke-width="0.6" fill="none"/>
<circle cx="568.1" cy="19.9" r="1.5" fill="#8a8a8a"/>
<path d="M620.25 46.71V48.37M618.95 46.71h2.6M618.95 48.37h2.6" stroke="#8a8a8a" stroke-width="0.6" fill="none"/>
<circle cx="620.25" cy="47.54" r="1.5" fill="#8a8a8a"/>
<path d="M651.54 63.06V67.21M650.24 63.06h2.6M650.24 67.21h2.6" stroke="#8a8a8a" stroke-width="0.6" fill="none"/>
<circle cx="651.54" cy="65.14" r="1.5" fill="#8a8a8a"/>
<path d="M672.4 83.98V90.62M671.1 83.98h2.6M671.1 90.62h2.6" stroke="#8a8a8a" stroke-width="0.6" fill="none"/>
<circle cx="672.4" cy="87.3" r="1.5" fill="#8a8a8a"/>
<polyline points="568.1,19.9 620.25,34.59 651.54,50.61 672.4,63.31" fill="none" stroke="#2a78c4" stroke-width="1.1" stroke-linejoin="round"/>
<path d="M568.1 18.24V21.56M566.8 18.24h2.6M566.8 21.56h2.6" stroke="#2a78c4" stroke-width="0.6" fill="none"/>
<circle cx="568.1" cy="19.9" r="1.5" fill="#2a78c4"/>
<path d="M620.25 33.35V35.84M618.95 33.35h2.6M618.95 35.84h2.6" stroke="#2a78c4" stroke-width="0.6" fill="none"/>
<circle cx="620.25" cy="34.59" r="1.5" fill="#2a78c4"/>
<path d="M651.54 48.95V52.27M650.24 48.95h2.6M650.24 52.27h2.6" stroke="#2a78c4" stroke-width="0.6" fill="none"/>
<circle cx="651.54" cy="50.61" r="1.5" fill="#2a78c4"/>
<path d="M672.4 58.74V67.87M671.1 58.74h2.6M671.1 67.87h2.6" stroke="#2a78c4" stroke-width="0.6" fill="none"/>
<circle cx="672.4" cy="63.31" r="1.5" fill="#2a78c4"/>
<polyline points="568.1,19.9 620.25,31.6 651.54,43.8 672.4,58.5" fill="none" stroke="#c0303a" stroke-width="1.1" stroke-linejoin="round"/>
<path d="M568.1 18.24V21.56M566.8 18.24h2.6M566.8 21.56h2.6" stroke="#c0303a" stroke-width="0.6" fill="none"/>
<circle cx="568.1" cy="19.9" r="1.5" fill="#c0303a"/>
<path d="M620.25 30.77V32.43M618.95 30.77h2.6M618.95 32.43h2.6" stroke="#c0303a" stroke-width="0.6" fill="none"/>
<circle cx="620.25" cy="31.6" r="1.5" fill="#c0303a"/>
<path d="M651.54 40.48V47.12M650.24 40.48h2.6M650.24 47.12h2.6" stroke="#c0303a" stroke-width="0.6" fill="none"/>
<circle cx="651.54" cy="43.8" r="1.5" fill="#c0303a"/>
<path d="M672.4 56.01V60.99M671.1 56.01h2.6M671.1 60.99h2.6" stroke="#c0303a" stroke-width="0.6" fill="none"/>
<circle cx="672.4" cy="58.5" r="1.5" fill="#c0303a"/>
<text x="620.5" y="127.7" font-size="8.6" fill="#1e1e1e" color="#1e1e1e" text-anchor="middle">KU-55933 (μM)</text>
<text x="571.5" y="73.1" font-size="6.6" fill="#8a8a8a" color="#8a8a8a" text-anchor="start">Ctrl</text>
<text x="571.5" y="85.1" font-size="6.6" fill="#c0303a" color="#c0303a" text-anchor="start">KO#1</text>
<text x="571.5" y="97.2" font-size="6.6" fill="#2a78c4" color="#2a78c4" text-anchor="start">KO#2</text>
<line x1="589.2" y1="70" x2="589.2" y2="81.6" stroke="#555" stroke-width="0.6"/>
<text transform="translate(593.8,80.3) rotate(90)" font-size="6.8" fill="#222" color="#222" text-anchor="middle" dy="0.35em"><tspan font-style="italic">P</tspan> &lt; 0.0001</text>
<line x1="598.8" y1="70" x2="598.8" y2="96" stroke="#555" stroke-width="0.6"/>
<text transform="translate(603.1,84.7) rotate(90)" font-size="6.8" fill="#222" color="#222" text-anchor="middle" dy="0.35em"><tspan font-style="italic">P</tspan> &lt; 0.0001</text>
<text x="0.5" y="245.8" font-size="11.5" fill="#000" color="#000" text-anchor="start" font-weight="bold">e</text>
<text x="99.6" y="250.4" font-size="8.5" fill="#1e1e1e" color="#1e1e1e" text-anchor="middle">DLD-1</text>
<text transform="translate(6.1,296.5) rotate(-90)" font-size="8.6" fill="#1e1e1e" color="#1e1e1e" text-anchor="middle" dy="0.35em">Survival</text>
<text transform="translate(16.4,296.5) rotate(-90)" font-size="8.6" fill="#1e1e1e" color="#1e1e1e" text-anchor="middle" dy="0.35em">(relative to untreated)</text>
<line x1="45.5" y1="341.1" x2="151.8" y2="341.1" stroke="#555555" stroke-width="0.8"/>
<line x1="45.5" y1="344.1" x2="45.5" y2="255.1" stroke="#555555" stroke-width="0.8"/>
<line x1="45.5" y1="341.1" x2="45.5" y2="344.1" stroke="#555555" stroke-width="0.8"/>
<text x="45.5" y="353.9" font-size="7.2" fill="#1e1e1e" color="#1e1e1e" text-anchor="middle">0</text>
<line x1="80.8" y1="341.1" x2="80.8" y2="344.1" stroke="#555555" stroke-width="0.8"/>
<text x="80.8" y="353.9" font-size="7.2" fill="#1e1e1e" color="#1e1e1e" text-anchor="middle">1</text>
<line x1="116.1" y1="341.1" x2="116.1" y2="344.1" stroke="#555555" stroke-width="0.8"/>
<text x="116.1" y="353.9" font-size="7.2" fill="#1e1e1e" color="#1e1e1e" text-anchor="middle">2</text>
<line x1="151.4" y1="341.1" x2="151.4" y2="344.1" stroke="#555555" stroke-width="0.8"/>
<text x="151.4" y="353.9" font-size="7.2" fill="#1e1e1e" color="#1e1e1e" text-anchor="middle">3</text>
<line x1="42.5" y1="341.1" x2="45.5" y2="341.1" stroke="#555555" stroke-width="0.8"/>
<text x="39.7" y="343.7" font-size="7.2" fill="#1e1e1e" color="#1e1e1e" text-anchor="end">0</text>
<line x1="42.5" y1="323.98" x2="45.5" y2="323.98" stroke="#555555" stroke-width="0.8"/>
<text x="39.7" y="326.58" font-size="7.2" fill="#1e1e1e" color="#1e1e1e" text-anchor="end">0.2</text>
<line x1="42.5" y1="306.86" x2="45.5" y2="306.86" stroke="#555555" stroke-width="0.8"/>
<text x="39.7" y="309.46" font-size="7.2" fill="#1e1e1e" color="#1e1e1e" text-anchor="end">0.4</text>
<line x1="42.5" y1="289.74" x2="45.5" y2="289.74" stroke="#555555" stroke-width="0.8"/>
<text x="39.7" y="292.34" font-size="7.2" fill="#1e1e1e" color="#1e1e1e" text-anchor="end">0.6</text>
<line x1="42.5" y1="272.62" x2="45.5" y2="272.62" stroke="#555555" stroke-width="0.8"/>
<text x="39.7" y="275.22" font-size="7.2" fill="#1e1e1e" color="#1e1e1e" text-anchor="end">0.8</text>
<line x1="42.5" y1="255.5" x2="45.5" y2="255.5" stroke="#555555" stroke-width="0.8"/>
<text x="39.7" y="258.1" font-size="7.2" fill="#1e1e1e" color="#1e1e1e" text-anchor="end">1.0</text>
<polyline points="45.5,255.5 80.8,290.77 116.1,313.54 151.4,337.33" fill="none" stroke="#8a8a8a" stroke-width="1.1" stroke-linejoin="round"/>
<path d="M45.5 252.93V258.07M44.2 252.93h2.6M44.2 258.07h2.6" stroke="#8a8a8a" stroke-width="0.6" fill="none"/>
<circle cx="45.5" cy="255.5" r="1.5" fill="#8a8a8a"/>
<path d="M80.8 288.2V293.34M79.5 288.2h2.6M79.5 293.34h2.6" stroke="#8a8a8a" stroke-width="0.6" fill="none"/>
<circle cx="80.8" cy="290.77" r="1.5" fill="#8a8a8a"/>
<path d="M116.1 311.82V315.25M114.8 311.82h2.6M114.8 315.25h2.6" stroke="#8a8a8a" stroke-width="0.6" fill="none"/>
<circle cx="116.1" cy="313.54" r="1.5" fill="#8a8a8a"/>
<circle cx="151.4" cy="337.33" r="1.5" fill="#8a8a8a"/>
<polyline points="45.5,255.5 80.8,276.47 116.1,293.08 151.4,311.23" fill="none" stroke="#c0303a" stroke-width="1.1" stroke-linejoin="round"/>
<path d="M45.5 252.93V258.07M44.2 252.93h2.6M44.2 258.07h2.6" stroke="#c0303a" stroke-width="0.6" fill="none"/>
<circle cx="45.5" cy="255.5" r="1.5" fill="#c0303a"/>
<path d="M80.8 273.9V279.04M79.5 273.9h2.6M79.5 279.04h2.6" stroke="#c0303a" stroke-width="0.6" fill="none"/>
<circle cx="80.8" cy="276.47" r="1.5" fill="#c0303a"/>
<path d="M116.1 290.94V295.22M114.8 290.94h2.6M114.8 295.22h2.6" stroke="#c0303a" stroke-width="0.6" fill="none"/>
<circle cx="116.1" cy="293.08" r="1.5" fill="#c0303a"/>
<path d="M151.4 309.09V313.37M150.1 309.09h2.6M150.1 313.37h2.6" stroke="#c0303a" stroke-width="0.6" fill="none"/>
<circle cx="151.4" cy="311.23" r="1.5" fill="#c0303a"/>
<polyline points="45.5,255.5 80.8,263.72 116.1,284.86 151.4,301.98" fill="none" stroke="#2a78c4" stroke-width="1.1" stroke-linejoin="round"/>
<path d="M45.5 251.22V259.78M44.2 251.22h2.6M44.2 259.78h2.6" stroke="#2a78c4" stroke-width="0.6" fill="none"/>
<circle cx="45.5" cy="255.5" r="1.5" fill="#2a78c4"/>
<path d="M80.8 260.29V267.14M79.5 260.29h2.6M79.5 267.14h2.6" stroke="#2a78c4" stroke-width="0.6" fill="none"/>
<circle cx="80.8" cy="263.72" r="1.5" fill="#2a78c4"/>
<path d="M116.1 282.29V287.43M114.8 282.29h2.6M114.8 287.43h2.6" stroke="#2a78c4" stroke-width="0.6" fill="none"/>
<circle cx="116.1" cy="284.86" r="1.5" fill="#2a78c4"/>
<path d="M151.4 300.7V303.26M150.1 300.7h2.6M150.1 303.26h2.6" stroke="#2a78c4" stroke-width="0.6" fill="none"/>
<circle cx="151.4" cy="301.98" r="1.5" fill="#2a78c4"/>
<text x="99" y="366.7" font-size="8.6" fill="#1e1e1e" color="#1e1e1e" text-anchor="middle">KU-60019 (μM)</text>
<text x="49.3" y="309.7" font-size="6.6" fill="#8a8a8a" color="#8a8a8a" text-anchor="start">Ctrl</text>
<text x="49.3" y="322" font-size="6.6" fill="#c0303a" color="#c0303a" text-anchor="start">KO#1</text>
<text x="49.3" y="334.2" font-size="6.6" fill="#2a78c4" color="#2a78c4" text-anchor="start">KO#2</text>
<line x1="66.9" y1="306.6" x2="66.9" y2="318.1" stroke="#555" stroke-width="0.6"/>
<text transform="translate(72.8,317.7) rotate(90)" font-size="6.8" fill="#222" color="#222" text-anchor="middle" dy="0.35em"><tspan font-style="italic">P</tspan> &lt; 0.0001</text>
<line x1="76.6" y1="306.6" x2="76.6" y2="337.3" stroke="#555" stroke-width="0.6"/>
<text transform="translate(82.2,322.8) rotate(90)" font-size="6.8" fill="#222" color="#222" text-anchor="middle" dy="0.35em"><tspan font-style="italic">P</tspan> &lt; 0.0001</text>
<text x="175.5" y="245.8" font-size="11.5" fill="#000" color="#000" text-anchor="start" font-weight="bold">f</text>
<text x="273.7" y="249.9" font-size="8.5" fill="#1e1e1e" color="#1e1e1e" text-anchor="middle">DLD-1</text>
<text transform="translate(181.5,296.5) rotate(-90)" font-size="8.6" fill="#1e1e1e" color="#1e1e1e" text-anchor="middle" dy="0.35em">Survival</text>
<text transform="translate(191.7,296.5) rotate(-90)" font-size="8.6" fill="#1e1e1e" color="#1e1e1e" text-anchor="middle" dy="0.35em">(relative to untreated)</text>
<line x1="220.1" y1="341.1" x2="321.7" y2="341.1" stroke="#555555" stroke-width="0.8"/>
<line x1="220.1" y1="344.1" x2="220.1" y2="255.1" stroke="#555555" stroke-width="0.8"/>
<line x1="220.1" y1="341.1" x2="220.1" y2="344.1" stroke="#555555" stroke-width="0.8"/>
<text x="220.1" y="353.9" font-size="7.2" fill="#1e1e1e" color="#1e1e1e" text-anchor="middle">0</text>
<line x1="245.4" y1="341.1" x2="245.4" y2="344.1" stroke="#555555" stroke-width="0.8"/>
<text x="245.4" y="353.9" font-size="7.2" fill="#1e1e1e" color="#1e1e1e" text-anchor="middle">2</text>
<line x1="270.7" y1="341.1" x2="270.7" y2="344.1" stroke="#555555" stroke-width="0.8"/>
<text x="270.7" y="353.9" font-size="7.2" fill="#1e1e1e" color="#1e1e1e" text-anchor="middle">4</text>
<line x1="296" y1="341.1" x2="296" y2="344.1" stroke="#555555" stroke-width="0.8"/>
<text x="296" y="353.9" font-size="7.2" fill="#1e1e1e" color="#1e1e1e" text-anchor="middle">6</text>
<line x1="321.3" y1="341.1" x2="321.3" y2="344.1" stroke="#555555" stroke-width="0.8"/>
<text x="321.3" y="353.9" font-size="7.2" fill="#1e1e1e" color="#1e1e1e" text-anchor="middle">8</text>
<line x1="217.1" y1="341.1" x2="220.1" y2="341.1" stroke="#555555" stroke-width="0.8"/>
<text x="214.3" y="343.7" font-size="7.2" fill="#1e1e1e" color="#1e1e1e" text-anchor="end">0</text>
<line x1="217.1" y1="323.98" x2="220.1" y2="323.98" stroke="#555555" stroke-width="0.8"/>
<text x="214.3" y="326.58" font-size="7.2" fill="#1e1e1e" color="#1e1e1e" text-anchor="end">0.2</text>
<line x1="217.1" y1="306.86" x2="220.1" y2="306.86" stroke="#555555" stroke-width="0.8"/>
<text x="214.3" y="309.46" font-size="7.2" fill="#1e1e1e" color="#1e1e1e" text-anchor="end">0.4</text>
<line x1="217.1" y1="289.74" x2="220.1" y2="289.74" stroke="#555555" stroke-width="0.8"/>
<text x="214.3" y="292.34" font-size="7.2" fill="#1e1e1e" color="#1e1e1e" text-anchor="end">0.6</text>
<line x1="217.1" y1="272.62" x2="220.1" y2="272.62" stroke="#555555" stroke-width="0.8"/>
<text x="214.3" y="275.22" font-size="7.2" fill="#1e1e1e" color="#1e1e1e" text-anchor="end">0.8</text>
<line x1="217.1" y1="255.5" x2="220.1" y2="255.5" stroke="#555555" stroke-width="0.8"/>
<text x="214.3" y="258.1" font-size="7.2" fill="#1e1e1e" color="#1e1e1e" text-anchor="end">1.0</text>
<polyline points="220.1,255.5 245.4,274.67 270.7,286.23 296,318.07 321.3,330.91" fill="none" stroke="#8a8a8a" stroke-width="1.1" stroke-linejoin="round"/>
<path d="M220.1 253.79V257.21M218.8 253.79h2.6M218.8 257.21h2.6" stroke="#8a8a8a" stroke-width="0.6" fill="none"/>
<circle cx="220.1" cy="255.5" r="1.5" fill="#8a8a8a"/>
<path d="M245.4 272.11V277.24M244.1 272.11h2.6M244.1 277.24h2.6" stroke="#8a8a8a" stroke-width="0.6" fill="none"/>
<circle cx="245.4" cy="274.67" r="1.5" fill="#8a8a8a"/>
<path d="M270.7 284.52V287.94M269.4 284.52h2.6M269.4 287.94h2.6" stroke="#8a8a8a" stroke-width="0.6" fill="none"/>
<circle cx="270.7" cy="286.23" r="1.5" fill="#8a8a8a"/>
<path d="M296 316.36V319.79M294.7 316.36h2.6M294.7 319.79h2.6" stroke="#8a8a8a" stroke-width="0.6" fill="none"/>
<circle cx="296" cy="318.07" r="1.5" fill="#8a8a8a"/>
<circle cx="321.3" cy="330.91" r="1.5" fill="#8a8a8a"/>
<polyline points="220.1,255.5 245.4,271.42 270.7,279.3 296,294.36 321.3,309.17" fill="none" stroke="#c0303a" stroke-width="1.1" stroke-linejoin="round"/>
<path d="M220.1 246.94V264.06M218.8 246.94h2.6M218.8 264.06h2.6" stroke="#c0303a" stroke-width="0.6" fill="none"/>
<circle cx="220.1" cy="255.5" r="1.5" fill="#c0303a"/>
<path d="M245.4 269.71V273.13M244.1 269.71h2.6M244.1 273.13h2.6" stroke="#c0303a" stroke-width="0.6" fill="none"/>
<circle cx="245.4" cy="271.42" r="1.5" fill="#c0303a"/>
<path d="M270.7 278.01V280.58M269.4 278.01h2.6M269.4 280.58h2.6" stroke="#c0303a" stroke-width="0.6" fill="none"/>
<circle cx="270.7" cy="279.3" r="1.5" fill="#c0303a"/>
<path d="M296 292.22V296.5M294.7 292.22h2.6M294.7 296.5h2.6" stroke="#c0303a" stroke-width="0.6" fill="none"/>
<circle cx="296" cy="294.36" r="1.5" fill="#c0303a"/>
<path d="M321.3 306.6V311.74M320 306.6h2.6M320 311.74h2.6" stroke="#c0303a" stroke-width="0.6" fill="none"/>
<circle cx="321.3" cy="309.17" r="1.5" fill="#c0303a"/>
<polyline points="220.1,255.5 245.4,265.77 270.7,270.39 296,282.38 321.3,301.04" fill="none" stroke="#2a78c4" stroke-width="1.1" stroke-linejoin="round"/>
<path d="M220.1 253.79V257.21M218.8 253.79h2.6M218.8 257.21h2.6" stroke="#2a78c4" stroke-width="0.6" fill="none"/>
<circle cx="220.1" cy="255.5" r="1.5" fill="#2a78c4"/>
<path d="M245.4 264.49V267.06M244.1 264.49h2.6M244.1 267.06h2.6" stroke="#2a78c4" stroke-width="0.6" fill="none"/>
<circle cx="245.4" cy="265.77" r="1.5" fill="#2a78c4"/>
<path d="M270.7 266.97V273.82M269.4 266.97h2.6M269.4 273.82h2.6" stroke="#2a78c4" stroke-width="0.6" fill="none"/>
<circle cx="270.7" cy="270.39" r="1.5" fill="#2a78c4"/>
<path d="M296 278.95V285.8M294.7 278.95h2.6M294.7 285.8h2.6" stroke="#2a78c4" stroke-width="0.6" fill="none"/>
<circle cx="296" cy="282.38" r="1.5" fill="#2a78c4"/>
<path d="M321.3 299.76V302.32M320 299.76h2.6M320 302.32h2.6" stroke="#2a78c4" stroke-width="0.6" fill="none"/>
<circle cx="321.3" cy="301.04" r="1.5" fill="#2a78c4"/>
<text x="274.3" y="366.7" font-size="8.6" fill="#1e1e1e" color="#1e1e1e" text-anchor="middle">KU-55933 (μM)</text>
<text x="223.7" y="311.2" font-size="6.6" fill="#8a8a8a" color="#8a8a8a" text-anchor="start">Ctrl</text>
<text x="223.7" y="322.5" font-size="6.6" fill="#c0303a" color="#c0303a" text-anchor="start">KO#1</text>
<text x="223.7" y="334.8" font-size="6.6" fill="#2a78c4" color="#2a78c4" text-anchor="start">KO#2</text>
<line x1="241.5" y1="307" x2="241.5" y2="319.6" stroke="#555" stroke-width="0.6"/>
<text transform="translate(246.8,318.3) rotate(90)" font-size="6.8" fill="#222" color="#222" text-anchor="middle" dy="0.35em"><tspan font-style="italic">P</tspan> &lt; 0.0001</text>
<line x1="250.6" y1="307" x2="250.6" y2="332" stroke="#555" stroke-width="0.6"/>
<text transform="translate(256.6,323.8) rotate(90)" font-size="6.8" fill="#222" color="#222" text-anchor="middle" dy="0.35em"><tspan font-style="italic">P</tspan> &lt; 0.0001</text>
<text x="350.5" y="245.8" font-size="11.5" fill="#000" color="#000" text-anchor="start" font-weight="bold">g</text>
<text x="449.4" y="249.9" font-size="8.5" fill="#1e1e1e" color="#1e1e1e" text-anchor="middle">HCT116</text>
<text transform="translate(357.2,296.2) rotate(-90)" font-size="8.6" fill="#1e1e1e" color="#1e1e1e" text-anchor="middle" dy="0.35em">Survival</text>
<text transform="translate(367.8,296.2) rotate(-90)" font-size="8.6" fill="#1e1e1e" color="#1e1e1e" text-anchor="middle" dy="0.35em">(relative to untreated)</text>
<line x1="396.2" y1="341.4" x2="501.8" y2="341.4" stroke="#555555" stroke-width="0.8"/>
<line x1="396.2" y1="344.4" x2="396.2" y2="254.4" stroke="#555555" stroke-width="0.8"/>
<line x1="396.2" y1="341.4" x2="396.2" y2="344.4" stroke="#555555" stroke-width="0.8"/>
<text x="396.2" y="354.2" font-size="7.2" fill="#1e1e1e" color="#1e1e1e" text-anchor="middle">0</text>
<line x1="422.5" y1="341.4" x2="422.5" y2="344.4" stroke="#555555" stroke-width="0.8"/>
<text x="422.5" y="354.2" font-size="7.2" fill="#1e1e1e" color="#1e1e1e" text-anchor="middle">1</text>
<line x1="448.8" y1="341.4" x2="448.8" y2="344.4" stroke="#555555" stroke-width="0.8"/>
<text x="448.8" y="354.2" font-size="7.2" fill="#1e1e1e" color="#1e1e1e" text-anchor="middle">2</text>
<line x1="475.1" y1="341.4" x2="475.1" y2="344.4" stroke="#555555" stroke-width="0.8"/>
<text x="475.1" y="354.2" font-size="7.2" fill="#1e1e1e" color="#1e1e1e" text-anchor="middle">3</text>
<line x1="501.4" y1="341.4" x2="501.4" y2="344.4" stroke="#555555" stroke-width="0.8"/>
<text x="501.4" y="354.2" font-size="7.2" fill="#1e1e1e" color="#1e1e1e" text-anchor="middle">4</text>
<line x1="393.2" y1="341.4" x2="396.2" y2="341.4" stroke="#555555" stroke-width="0.8"/>
<text x="390.4" y="344" font-size="7.2" fill="#1e1e1e" color="#1e1e1e" text-anchor="end">0</text>
<line x1="393.2" y1="324.08" x2="396.2" y2="324.08" stroke="#555555" stroke-width="0.8"/>
<text x="390.4" y="326.68" font-size="7.2" fill="#1e1e1e" color="#1e1e1e" text-anchor="end">0.2</text>
<line x1="393.2" y1="306.76" x2="396.2" y2="306.76" stroke="#555555" stroke-width="0.8"/>
<text x="390.4" y="309.36" font-size="7.2" fill="#1e1e1e" color="#1e1e1e" text-anchor="end">0.4</text>
<line x1="393.2" y1="289.44" x2="396.2" y2="289.44" stroke="#555555" stroke-width="0.8"/>
<text x="390.4" y="292.04" font-size="7.2" fill="#1e1e1e" color="#1e1e1e" text-anchor="end">0.6</text>
<line x1="393.2" y1="272.12" x2="396.2" y2="272.12" stroke="#555555" stroke-width="0.8"/>
<text x="390.4" y="274.72" font-size="7.2" fill="#1e1e1e" color="#1e1e1e" text-anchor="end">0.8</text>
<line x1="393.2" y1="254.8" x2="396.2" y2="254.8" stroke="#555555" stroke-width="0.8"/>
<text x="390.4" y="257.4" font-size="7.2" fill="#1e1e1e" color="#1e1e1e" text-anchor="end">1.0</text>
<polyline points="396.2,254.8 422.5,290.05 448.8,300.96 475.1,318.1 501.4,330.92" fill="none" stroke="#8a8a8a" stroke-width="1.1" stroke-linejoin="round"/>
<path d="M396.2 251.34V258.26M394.9 251.34h2.6M394.9 258.26h2.6" stroke="#8a8a8a" stroke-width="0.6" fill="none"/>
<circle cx="396.2" cy="254.8" r="1.5" fill="#8a8a8a"/>
<path d="M422.5 285.72V294.38M421.2 285.72h2.6M421.2 294.38h2.6" stroke="#8a8a8a" stroke-width="0.6" fill="none"/>
<circle cx="422.5" cy="290.05" r="1.5" fill="#8a8a8a"/>
<path d="M448.8 299.23V302.69M447.5 299.23h2.6M447.5 302.69h2.6" stroke="#8a8a8a" stroke-width="0.6" fill="none"/>
<circle cx="448.8" cy="300.96" r="1.5" fill="#8a8a8a"/>
<path d="M475.1 315.94V320.27M473.8 315.94h2.6M473.8 320.27h2.6" stroke="#8a8a8a" stroke-width="0.6" fill="none"/>
<circle cx="475.1" cy="318.1" r="1.5" fill="#8a8a8a"/>
<path d="M501.4 329.19V332.65M500.1 329.19h2.6M500.1 332.65h2.6" stroke="#8a8a8a" stroke-width="0.6" fill="none"/>
<circle cx="501.4" cy="330.92" r="1.5" fill="#8a8a8a"/>
<polyline points="396.2,254.8 422.5,262.42 448.8,282.43 475.1,298.53 501.4,324.08" fill="none" stroke="#2a78c4" stroke-width="1.1" stroke-linejoin="round"/>
<path d="M396.2 253.07V256.53M394.9 253.07h2.6M394.9 256.53h2.6" stroke="#2a78c4" stroke-width="0.6" fill="none"/>
<circle cx="396.2" cy="254.8" r="1.5" fill="#2a78c4"/>
<path d="M422.5 261.55V263.29M421.2 261.55h2.6M421.2 263.29h2.6" stroke="#2a78c4" stroke-width="0.6" fill="none"/>
<circle cx="422.5" cy="262.42" r="1.5" fill="#2a78c4"/>
<path d="M448.8 281.56V283.29M447.5 281.56h2.6M447.5 283.29h2.6" stroke="#2a78c4" stroke-width="0.6" fill="none"/>
<circle cx="448.8" cy="282.43" r="1.5" fill="#2a78c4"/>
<path d="M475.1 294.2V302.86M473.8 294.2h2.6M473.8 302.86h2.6" stroke="#2a78c4" stroke-width="0.6" fill="none"/>
<circle cx="475.1" cy="298.53" r="1.5" fill="#2a78c4"/>
<path d="M501.4 323.21V324.95M500.1 323.21h2.6M500.1 324.95h2.6" stroke="#2a78c4" stroke-width="0.6" fill="none"/>
<circle cx="501.4" cy="324.08" r="1.5" fill="#2a78c4"/>
<polyline points="396.2,254.8 422.5,262.68 448.8,278.53 475.1,295.94 501.4,322" fill="none" stroke="#c0303a" stroke-width="1.1" stroke-linejoin="round"/>
<path d="M396.2 253.07V256.53M394.9 253.07h2.6M394.9 256.53h2.6" stroke="#c0303a" stroke-width="0.6" fill="none"/>
<circle cx="396.2" cy="254.8" r="1.5" fill="#c0303a"/>
<path d="M422.5 261.81V263.55M421.2 261.81h2.6M421.2 263.55h2.6" stroke="#c0303a" stroke-width="0.6" fill="none"/>
<circle cx="422.5" cy="262.68" r="1.5" fill="#c0303a"/>
<path d="M448.8 277.66V279.39M447.5 277.66h2.6M447.5 279.39h2.6" stroke="#c0303a" stroke-width="0.6" fill="none"/>
<circle cx="448.8" cy="278.53" r="1.5" fill="#c0303a"/>
<path d="M475.1 292.47V299.4M473.8 292.47h2.6M473.8 299.4h2.6" stroke="#c0303a" stroke-width="0.6" fill="none"/>
<circle cx="475.1" cy="295.94" r="1.5" fill="#c0303a"/>
<path d="M501.4 321.14V322.87M500.1 321.14h2.6M500.1 322.87h2.6" stroke="#c0303a" stroke-width="0.6" fill="none"/>
<circle cx="501.4" cy="322" r="1.5" fill="#c0303a"/>
<text x="449.8" y="366.7" font-size="8.6" fill="#1e1e1e" color="#1e1e1e" text-anchor="middle">KU-60019 (μM)</text>
<text x="399.3" y="310" font-size="6.6" fill="#8a8a8a" color="#8a8a8a" text-anchor="start">Ctrl</text>
<text x="399.3" y="322" font-size="6.6" fill="#c0303a" color="#c0303a" text-anchor="start">KO#1</text>
<text x="399.3" y="334.8" font-size="6.6" fill="#2a78c4" color="#2a78c4" text-anchor="start">KO#2</text>
<line x1="416.1" y1="306.6" x2="416.1" y2="318.1" stroke="#555" stroke-width="0.6"/>
<text transform="translate(421.8,318.3) rotate(90)" font-size="6.8" fill="#222" color="#222" text-anchor="middle" dy="0.35em"><tspan font-style="italic">P</tspan> &lt; 0.0001</text>
<line x1="425.6" y1="306.6" x2="425.6" y2="338.6" stroke="#555" stroke-width="0.6"/>
<text transform="translate(430.7,323.5) rotate(90)" font-size="6.8" fill="#222" color="#222" text-anchor="middle" dy="0.35em"><tspan font-style="italic">P</tspan> &lt; 0.0001</text>
<text x="525.5" y="245.8" font-size="11.5" fill="#000" color="#000" text-anchor="start" font-weight="bold">h</text>
<text x="622.7" y="249.9" font-size="8.5" fill="#1e1e1e" color="#1e1e1e" text-anchor="middle">HCT116</text>
<text transform="translate(530.8,296.2) rotate(-90)" font-size="8.6" fill="#1e1e1e" color="#1e1e1e" text-anchor="middle" dy="0.35em">Survival</text>
<text transform="translate(541.3,296.2) rotate(-90)" font-size="8.6" fill="#1e1e1e" color="#1e1e1e" text-anchor="middle" dy="0.35em">(relative to untreated)</text>
<line x1="569.3" y1="340.6" x2="675.3" y2="340.6" stroke="#555555" stroke-width="0.8"/>
<line x1="569.3" y1="343.6" x2="569.3" y2="251.28" stroke="#555555" stroke-width="0.8"/>
<line x1="569.3" y1="340.6" x2="569.3" y2="343.6" stroke="#555555" stroke-width="0.8"/>
<text x="569.3" y="353.4" font-size="7.2" fill="#1e1e1e" color="#1e1e1e" text-anchor="middle">0</text>
<line x1="595.7" y1="340.6" x2="595.7" y2="343.6" stroke="#555555" stroke-width="0.8"/>
<text x="595.7" y="353.4" font-size="7.2" fill="#1e1e1e" color="#1e1e1e" text-anchor="middle">2</text>
<line x1="622.1" y1="340.6" x2="622.1" y2="343.6" stroke="#555555" stroke-width="0.8"/>
<text x="622.1" y="353.4" font-size="7.2" fill="#1e1e1e" color="#1e1e1e" text-anchor="middle">4</text>
<line x1="648.5" y1="340.6" x2="648.5" y2="343.6" stroke="#555555" stroke-width="0.8"/>
<text x="648.5" y="353.4" font-size="7.2" fill="#1e1e1e" color="#1e1e1e" text-anchor="middle">6</text>
<line x1="674.9" y1="340.6" x2="674.9" y2="343.6" stroke="#555555" stroke-width="0.8"/>
<text x="674.9" y="353.4" font-size="7.2" fill="#1e1e1e" color="#1e1e1e" text-anchor="middle">8</text>
<line x1="566.3" y1="340.6" x2="569.3" y2="340.6" stroke="#555555" stroke-width="0.8"/>
<text x="563.5" y="343.2" font-size="7.2" fill="#1e1e1e" color="#1e1e1e" text-anchor="end">0</text>
<line x1="566.3" y1="325.78" x2="569.3" y2="325.78" stroke="#555555" stroke-width="0.8"/>
<text x="563.5" y="328.38" font-size="7.2" fill="#1e1e1e" color="#1e1e1e" text-anchor="end">0.2</text>
<line x1="566.3" y1="310.96" x2="569.3" y2="310.96" stroke="#555555" stroke-width="0.8"/>
<text x="563.5" y="313.56" font-size="7.2" fill="#1e1e1e" color="#1e1e1e" text-anchor="end">0.4</text>
<line x1="566.3" y1="296.14" x2="569.3" y2="296.14" stroke="#555555" stroke-width="0.8"/>
<text x="563.5" y="298.74" font-size="7.2" fill="#1e1e1e" color="#1e1e1e" text-anchor="end">0.6</text>
<line x1="566.3" y1="281.32" x2="569.3" y2="281.32" stroke="#555555" stroke-width="0.8"/>
<text x="563.5" y="283.92" font-size="7.2" fill="#1e1e1e" color="#1e1e1e" text-anchor="end">0.8</text>
<line x1="566.3" y1="266.5" x2="569.3" y2="266.5" stroke="#555555" stroke-width="0.8"/>
<text x="563.5" y="269.1" font-size="7.2" fill="#1e1e1e" color="#1e1e1e" text-anchor="end">1.0</text>
<line x1="566.3" y1="251.68" x2="569.3" y2="251.68" stroke="#555555" stroke-width="0.8"/>
<text x="563.5" y="254.28" font-size="7.2" fill="#1e1e1e" color="#1e1e1e" text-anchor="end">1.2</text>
<polyline points="569.3,267.24 595.7,266.28 622.1,288.29 648.5,327.93 674.9,332.67" fill="none" stroke="#8a8a8a" stroke-width="1.1" stroke-linejoin="round"/>
<path d="M569.3 265.76V268.72M568 265.76h2.6M568 268.72h2.6" stroke="#8a8a8a" stroke-width="0.6" fill="none"/>
<circle cx="569.3" cy="267.24" r="1.5" fill="#8a8a8a"/>
<path d="M595.7 264.8V267.76M594.4 264.8h2.6M594.4 267.76h2.6" stroke="#8a8a8a" stroke-width="0.6" fill="none"/>
<circle cx="595.7" cy="266.28" r="1.5" fill="#8a8a8a"/>
<path d="M622.1 285.32V291.25M620.8 285.32h2.6M620.8 291.25h2.6" stroke="#8a8a8a" stroke-width="0.6" fill="none"/>
<circle cx="622.1" cy="288.29" r="1.5" fill="#8a8a8a"/>
<path d="M648.5 327.19V328.67M647.2 327.19h2.6M647.2 328.67h2.6" stroke="#8a8a8a" stroke-width="0.6" fill="none"/>
<circle cx="648.5" cy="327.93" r="1.5" fill="#8a8a8a"/>
<circle cx="674.9" cy="332.67" r="1.5" fill="#8a8a8a"/>
<polyline points="569.3,267.24 595.7,261.91 622.1,272.72 648.5,307.18 674.9,323.33" fill="none" stroke="#2a78c4" stroke-width="1.1" stroke-linejoin="round"/>
<path d="M569.3 263.54V270.95M568 263.54h2.6M568 270.95h2.6" stroke="#2a78c4" stroke-width="0.6" fill="none"/>
<circle cx="569.3" cy="267.24" r="1.5" fill="#2a78c4"/>
<path d="M595.7 259.68V264.13M594.4 259.68h2.6M594.4 264.13h2.6" stroke="#2a78c4" stroke-width="0.6" fill="none"/>
<circle cx="595.7" cy="261.91" r="1.5" fill="#2a78c4"/>
<path d="M622.1 270.5V274.95M620.8 270.5h2.6M620.8 274.95h2.6" stroke="#2a78c4" stroke-width="0.6" fill="none"/>
<circle cx="622.1" cy="272.72" r="1.5" fill="#2a78c4"/>
<path d="M648.5 305.7V308.66M647.2 305.7h2.6M647.2 308.66h2.6" stroke="#2a78c4" stroke-width="0.6" fill="none"/>
<circle cx="648.5" cy="307.18" r="1.5" fill="#2a78c4"/>
<path d="M674.9 321.11V325.56M673.6 321.11h2.6M673.6 325.56h2.6" stroke="#2a78c4" stroke-width="0.6" fill="none"/>
<circle cx="674.9" cy="323.33" r="1.5" fill="#2a78c4"/>
<polyline points="569.3,267.24 595.7,265.02 622.1,275.24 648.5,304.59 674.9,316.07" fill="none" stroke="#c0303a" stroke-width="1.1" stroke-linejoin="round"/>
<path d="M569.3 265.02V269.46M568 265.02h2.6M568 269.46h2.6" stroke="#c0303a" stroke-width="0.6" fill="none"/>
<circle cx="569.3" cy="267.24" r="1.5" fill="#c0303a"/>
<path d="M595.7 263.54V266.5M594.4 263.54h2.6M594.4 266.5h2.6" stroke="#c0303a" stroke-width="0.6" fill="none"/>
<circle cx="595.7" cy="265.02" r="1.5" fill="#c0303a"/>
<path d="M622.1 273.02V277.47M620.8 273.02h2.6M620.8 277.47h2.6" stroke="#c0303a" stroke-width="0.6" fill="none"/>
<circle cx="622.1" cy="275.24" r="1.5" fill="#c0303a"/>
<path d="M648.5 301.62V307.55M647.2 301.62h2.6M647.2 307.55h2.6" stroke="#c0303a" stroke-width="0.6" fill="none"/>
<circle cx="648.5" cy="304.59" r="1.5" fill="#c0303a"/>
<path d="M674.9 313.85V318.3M673.6 313.85h2.6M673.6 318.3h2.6" stroke="#c0303a" stroke-width="0.6" fill="none"/>
<circle cx="674.9" cy="316.07" r="1.5" fill="#c0303a"/>
<text x="622.4" y="366.7" font-size="8.6" fill="#1e1e1e" color="#1e1e1e" text-anchor="middle">KU-55933 (μM)</text>
<text x="572.6" y="309.7" font-size="6.6" fill="#8a8a8a" color="#8a8a8a" text-anchor="start">Ctrl</text>
<text x="572.6" y="321.5" font-size="6.6" fill="#c0303a" color="#c0303a" text-anchor="start">KO#1</text>
<text x="572.6" y="333.5" font-size="6.6" fill="#2a78c4" color="#2a78c4" text-anchor="start">KO#2</text>
<line x1="590.5" y1="304" x2="590.5" y2="318" stroke="#555" stroke-width="0.6"/>
<text transform="translate(595.6,318.3) rotate(90)" font-size="6.8" fill="#222" color="#222" text-anchor="middle" dy="0.35em"><tspan font-style="italic">P</tspan> &lt; 0.0001</text>
<line x1="600.7" y1="304" x2="600.7" y2="338.6" stroke="#555" stroke-width="0.6"/>
<text transform="translate(605.9,322.8) rotate(90)" font-size="6.8" fill="#222" color="#222" text-anchor="middle" dy="0.35em"><tspan font-style="italic">P</tspan> &lt; 0.0001</text>
<text x="0" y="486.6" font-size="11.5" fill="#000" color="#000" text-anchor="start" font-weight="bold">i</text>
<text x="100.9" y="498.3" font-size="8.5" fill="#1e1e1e" color="#1e1e1e" text-anchor="middle">U2OS</text>
<text transform="translate(8.7,546) rotate(-90)" font-size="8.6" fill="#1e1e1e" color="#1e1e1e" text-anchor="middle" dy="0.35em">Survival</text>
<text transform="translate(18.6,546) rotate(-90)" font-size="8.6" fill="#1e1e1e" color="#1e1e1e" text-anchor="middle" dy="0.35em">(relative to untreated)</text>
<line x1="47.3" y1="590.5" x2="151.2" y2="590.5" stroke="#555555" stroke-width="0.8"/>
<line x1="47.3" y1="593.5" x2="47.3" y2="505.3" stroke="#555555" stroke-width="0.8"/>
<line x1="47.3" y1="590.5" x2="47.3" y2="593.5" stroke="#555555" stroke-width="0.8"/>
<text x="47.3" y="603.3" font-size="7.2" fill="#1e1e1e" color="#1e1e1e" text-anchor="middle">0</text>
<line x1="81.8" y1="590.5" x2="81.8" y2="593.5" stroke="#555555" stroke-width="0.8"/>
<text x="81.8" y="603.3" font-size="7.2" fill="#1e1e1e" color="#1e1e1e" text-anchor="middle">0.5</text>
<line x1="116.3" y1="590.5" x2="116.3" y2="593.5" stroke="#555555" stroke-width="0.8"/>
<text x="116.3" y="603.3" font-size="7.2" fill="#1e1e1e" color="#1e1e1e" text-anchor="middle">1.0</text>
<line x1="150.8" y1="590.5" x2="150.8" y2="593.5" stroke="#555555" stroke-width="0.8"/>
<text x="150.8" y="603.3" font-size="7.2" fill="#1e1e1e" color="#1e1e1e" text-anchor="middle">1.5</text>
<line x1="44.3" y1="590.5" x2="47.3" y2="590.5" stroke="#555555" stroke-width="0.8"/>
<text x="41.5" y="593.1" font-size="7.2" fill="#1e1e1e" color="#1e1e1e" text-anchor="end">0</text>
<line x1="44.3" y1="573.54" x2="47.3" y2="573.54" stroke="#555555" stroke-width="0.8"/>
<text x="41.5" y="576.14" font-size="7.2" fill="#1e1e1e" color="#1e1e1e" text-anchor="end">0.2</text>
<line x1="44.3" y1="556.58" x2="47.3" y2="556.58" stroke="#555555" stroke-width="0.8"/>
<text x="41.5" y="559.18" font-size="7.2" fill="#1e1e1e" color="#1e1e1e" text-anchor="end">0.4</text>
<line x1="44.3" y1="539.62" x2="47.3" y2="539.62" stroke="#555555" stroke-width="0.8"/>
<text x="41.5" y="542.22" font-size="7.2" fill="#1e1e1e" color="#1e1e1e" text-anchor="end">0.6</text>
<line x1="44.3" y1="522.66" x2="47.3" y2="522.66" stroke="#555555" stroke-width="0.8"/>
<text x="41.5" y="525.26" font-size="7.2" fill="#1e1e1e" color="#1e1e1e" text-anchor="end">0.8</text>
<line x1="44.3" y1="505.7" x2="47.3" y2="505.7" stroke="#555555" stroke-width="0.8"/>
<text x="41.5" y="508.3" font-size="7.2" fill="#1e1e1e" color="#1e1e1e" text-anchor="end">1.0</text>
<polyline points="47.3,505.7 81.8,522.74 116.3,548.61 150.8,590.5" fill="none" stroke="#8a8a8a" stroke-width="1.1" stroke-linejoin="round"/>
<path d="M47.3 504V507.4M46 504h2.6M46 507.4h2.6" stroke="#8a8a8a" stroke-width="0.6" fill="none"/>
<circle cx="47.3" cy="505.7" r="1.5" fill="#8a8a8a"/>
<path d="M81.8 521.05V524.44M80.5 521.05h2.6M80.5 524.44h2.6" stroke="#8a8a8a" stroke-width="0.6" fill="none"/>
<circle cx="81.8" cy="522.74" r="1.5" fill="#8a8a8a"/>
<path d="M116.3 546.49V550.73M115 546.49h2.6M115 550.73h2.6" stroke="#8a8a8a" stroke-width="0.6" fill="none"/>
<circle cx="116.3" cy="548.61" r="1.5" fill="#8a8a8a"/>
<circle cx="150.8" cy="590.5" r="1.5" fill="#8a8a8a"/>
<polyline points="47.3,505.7 81.8,509.94 116.3,531.22 150.8,540.13" fill="none" stroke="#c0303a" stroke-width="1.1" stroke-linejoin="round"/>
<path d="M47.3 502.31V509.09M46 502.31h2.6M46 509.09h2.6" stroke="#c0303a" stroke-width="0.6" fill="none"/>
<circle cx="47.3" cy="505.7" r="1.5" fill="#c0303a"/>
<path d="M81.8 508.24V511.64M80.5 508.24h2.6M80.5 511.64h2.6" stroke="#c0303a" stroke-width="0.6" fill="none"/>
<circle cx="81.8" cy="509.94" r="1.5" fill="#c0303a"/>
<path d="M116.3 529.95V532.5M115 529.95h2.6M115 532.5h2.6" stroke="#c0303a" stroke-width="0.6" fill="none"/>
<circle cx="116.3" cy="531.22" r="1.5" fill="#c0303a"/>
<path d="M150.8 538.86V541.4M149.5 538.86h2.6M149.5 541.4h2.6" stroke="#c0303a" stroke-width="0.6" fill="none"/>
<circle cx="150.8" cy="540.13" r="1.5" fill="#c0303a"/>
<polyline points="47.3,505.7 81.8,529.27 116.3,576.42 150.8,584.14" fill="none" stroke="#2a78c4" stroke-width="1.1" stroke-linejoin="round"/>
<path d="M47.3 504V507.4M46 504h2.6M46 507.4h2.6" stroke="#2a78c4" stroke-width="0.6" fill="none"/>
<circle cx="47.3" cy="505.7" r="1.5" fill="#2a78c4"/>
<path d="M81.8 527.58V530.97M80.5 527.58h2.6M80.5 530.97h2.6" stroke="#2a78c4" stroke-width="0.6" fill="none"/>
<circle cx="81.8" cy="529.27" r="1.5" fill="#2a78c4"/>
<path d="M116.3 573.88V578.97M115 573.88h2.6M115 578.97h2.6" stroke="#2a78c4" stroke-width="0.6" fill="none"/>
<circle cx="116.3" cy="576.42" r="1.5" fill="#2a78c4"/>
<circle cx="150.8" cy="584.14" r="1.5" fill="#2a78c4"/>
<text x="101.3" y="615" font-size="8.6" fill="#1e1e1e" color="#1e1e1e" text-anchor="middle">KU-60019 (μM)</text>
<text x="51.1" y="550.4" font-size="6.2" fill="#8a8a8a" color="#8a8a8a" text-anchor="start">Ctrl</text>
<text x="51.1" y="560.6" font-size="6.2" fill="#c0303a" color="#c0303a" text-anchor="start">KO</text>
<text x="51.1" y="572.9" font-size="6.2" fill="#2a78c4" color="#2a78c4" text-anchor="start">KO +</text>
<text x="51.1" y="580.5" font-size="6.2" fill="#2a78c4" color="#2a78c4" text-anchor="start">ERCC6L2</text>
<line x1="69.5" y1="556.2" x2="69.5" y2="573.4" stroke="#555" stroke-width="0.6"/>
<text transform="translate(75.4,558) rotate(90)" font-size="6.8" fill="#222" color="#222" text-anchor="middle" dy="0.35em"><tspan font-style="italic">P</tspan> &lt; 0.0001</text>
<text x="175" y="486.6" font-size="11.5" fill="#000" color="#000" text-anchor="start" font-weight="bold">j</text>
<text x="272" y="498.3" font-size="8.5" fill="#1e1e1e" color="#1e1e1e" text-anchor="middle">DLD-1</text>
<text transform="translate(180.4,547) rotate(-90)" font-size="8.6" fill="#1e1e1e" color="#1e1e1e" text-anchor="middle" dy="0.35em">Survival</text>
<text transform="translate(191.6,547) rotate(-90)" font-size="8.6" fill="#1e1e1e" color="#1e1e1e" text-anchor="middle" dy="0.35em">(relative to untreated)</text>
<line x1="218.3" y1="590.6" x2="324.3" y2="590.6" stroke="#555555" stroke-width="0.8"/>
<line x1="218.3" y1="593.6" x2="218.3" y2="505.3" stroke="#555555" stroke-width="0.8"/>
<line x1="218.3" y1="590.6" x2="218.3" y2="593.6" stroke="#555555" stroke-width="0.8"/>
<text x="218.3" y="603.4" font-size="7.2" fill="#1e1e1e" color="#1e1e1e" text-anchor="middle">0</text>
<line x1="253.5" y1="590.6" x2="253.5" y2="593.6" stroke="#555555" stroke-width="0.8"/>
<text x="253.5" y="603.4" font-size="7.2" fill="#1e1e1e" color="#1e1e1e" text-anchor="middle">1</text>
<line x1="288.7" y1="590.6" x2="288.7" y2="593.6" stroke="#555555" stroke-width="0.8"/>
<text x="288.7" y="603.4" font-size="7.2" fill="#1e1e1e" color="#1e1e1e" text-anchor="middle">2</text>
<line x1="323.9" y1="590.6" x2="323.9" y2="593.6" stroke="#555555" stroke-width="0.8"/>
<text x="323.9" y="603.4" font-size="7.2" fill="#1e1e1e" color="#1e1e1e" text-anchor="middle">3</text>
<line x1="215.3" y1="590.6" x2="218.3" y2="590.6" stroke="#555555" stroke-width="0.8"/>
<text x="212.5" y="593.2" font-size="7.2" fill="#1e1e1e" color="#1e1e1e" text-anchor="end">0</text>
<line x1="215.3" y1="573.62" x2="218.3" y2="573.62" stroke="#555555" stroke-width="0.8"/>
<text x="212.5" y="576.22" font-size="7.2" fill="#1e1e1e" color="#1e1e1e" text-anchor="end">0.2</text>
<line x1="215.3" y1="556.64" x2="218.3" y2="556.64" stroke="#555555" stroke-width="0.8"/>
<text x="212.5" y="559.24" font-size="7.2" fill="#1e1e1e" color="#1e1e1e" text-anchor="end">0.4</text>
<line x1="215.3" y1="539.66" x2="218.3" y2="539.66" stroke="#555555" stroke-width="0.8"/>
<text x="212.5" y="542.26" font-size="7.2" fill="#1e1e1e" color="#1e1e1e" text-anchor="end">0.6</text>
<line x1="215.3" y1="522.68" x2="218.3" y2="522.68" stroke="#555555" stroke-width="0.8"/>
<text x="212.5" y="525.28" font-size="7.2" fill="#1e1e1e" color="#1e1e1e" text-anchor="end">0.8</text>
<line x1="215.3" y1="505.7" x2="218.3" y2="505.7" stroke="#555555" stroke-width="0.8"/>
<text x="212.5" y="508.3" font-size="7.2" fill="#1e1e1e" color="#1e1e1e" text-anchor="end">1.0</text>
<polyline points="218.3,505.7 253.5,534.14 288.7,565.13 323.9,583.21" fill="none" stroke="#8a8a8a" stroke-width="1.1" stroke-linejoin="round"/>
<path d="M218.3 504V507.4M217 504h2.6M217 507.4h2.6" stroke="#8a8a8a" stroke-width="0.6" fill="none"/>
<circle cx="218.3" cy="505.7" r="1.5" fill="#8a8a8a"/>
<path d="M253.5 530.75V537.54M252.2 530.75h2.6M252.2 537.54h2.6" stroke="#8a8a8a" stroke-width="0.6" fill="none"/>
<circle cx="253.5" cy="534.14" r="1.5" fill="#8a8a8a"/>
<path d="M288.7 562.58V567.68M287.4 562.58h2.6M287.4 567.68h2.6" stroke="#8a8a8a" stroke-width="0.6" fill="none"/>
<circle cx="288.7" cy="565.13" r="1.5" fill="#8a8a8a"/>
<circle cx="323.9" cy="583.21" r="1.5" fill="#8a8a8a"/>
<polyline points="218.3,505.7 253.5,524.38 288.7,534.91 323.9,549.08" fill="none" stroke="#c0303a" stroke-width="1.1" stroke-linejoin="round"/>
<path d="M218.3 503.15V508.25M217 503.15h2.6M217 508.25h2.6" stroke="#c0303a" stroke-width="0.6" fill="none"/>
<circle cx="218.3" cy="505.7" r="1.5" fill="#c0303a"/>
<path d="M253.5 522.26V526.5M252.2 522.26h2.6M252.2 526.5h2.6" stroke="#c0303a" stroke-width="0.6" fill="none"/>
<circle cx="253.5" cy="524.38" r="1.5" fill="#c0303a"/>
<path d="M288.7 533.21V536.6M287.4 533.21h2.6M287.4 536.6h2.6" stroke="#c0303a" stroke-width="0.6" fill="none"/>
<circle cx="288.7" cy="534.91" r="1.5" fill="#c0303a"/>
<path d="M323.9 546.54V551.63M322.6 546.54h2.6M322.6 551.63h2.6" stroke="#c0303a" stroke-width="0.6" fill="none"/>
<circle cx="323.9" cy="549.08" r="1.5" fill="#c0303a"/>
<polyline points="218.3,505.7 253.5,532.1 288.7,561.73 323.9,577.53" fill="none" stroke="#2a78c4" stroke-width="1.1" stroke-linejoin="round"/>
<path d="M218.3 504V507.4M217 504h2.6M217 507.4h2.6" stroke="#2a78c4" stroke-width="0.6" fill="none"/>
<circle cx="218.3" cy="505.7" r="1.5" fill="#2a78c4"/>
<path d="M253.5 530.41V533.8M252.2 530.41h2.6M252.2 533.8h2.6" stroke="#2a78c4" stroke-width="0.6" fill="none"/>
<circle cx="253.5" cy="532.1" r="1.5" fill="#2a78c4"/>
<path d="M288.7 560.88V562.58M287.4 560.88h2.6M287.4 562.58h2.6" stroke="#2a78c4" stroke-width="0.6" fill="none"/>
<circle cx="288.7" cy="561.73" r="1.5" fill="#2a78c4"/>
<path d="M323.9 576.68V578.37M322.6 576.68h2.6M322.6 578.37h2.6" stroke="#2a78c4" stroke-width="0.6" fill="none"/>
<circle cx="323.9" cy="577.53" r="1.5" fill="#2a78c4"/>
<text x="272.7" y="613.7" font-size="8.6" fill="#1e1e1e" color="#1e1e1e" text-anchor="middle">KU-60019 (μM)</text>
<text x="222.3" y="553.8" font-size="6.2" fill="#8a8a8a" color="#8a8a8a" text-anchor="start">Ctrl</text>
<text x="222.3" y="564.3" font-size="6.2" fill="#c0303a" color="#c0303a" text-anchor="start">KO</text>
<text x="222.3" y="577" font-size="6.2" fill="#2a78c4" color="#2a78c4" text-anchor="start">KO +</text>
<text x="222.3" y="584.6" font-size="6.2" fill="#2a78c4" color="#2a78c4" text-anchor="start">ERCC6L2</text>
<line x1="241.7" y1="559" x2="241.7" y2="576.2" stroke="#555" stroke-width="0.6"/>
<text transform="translate(248.4,559.8) rotate(90)" font-size="6.8" fill="#222" color="#222" text-anchor="middle" dy="0.35em"><tspan font-style="italic">P</tspan> &lt; 0.0001</text>
<text x="356" y="486.8" font-size="11.5" fill="#000" color="#000" text-anchor="start" font-weight="bold">k</text>
<rect x="466.9" y="483.4" width="154.2" height="89" fill="url(#phg)"/>
<rect x="466.9" y="483.4" width="154.2" height="89" fill="url(#phv)"/>
<rect x="466.9" y="572.3" width="154.2" height="10.6" fill="url(#rul)"/>
<path d="M469.00 572.6v2.6M470.97 572.6v1.5M472.94 572.6v1.5M474.91 572.6v1.5M476.88 572.6v1.5M478.85 572.6v2.6M480.82 572.6v1.5M482.79 572.6v1.5M484.76 572.6v1.5M486.73 572.6v1.5M488.70 572.6v2.6M490.67 572.6v1.5M492.64 572.6v1.5M494.61 572.6v1.5M496.58 572.6v1.5M498.55 572.6v2.6M500.52 572.6v1.5M502.49 572.6v1.5M504.46 572.6v1.5M506.43 572.6v1.5M508.40 572.6v2.6M510.37 572.6v1.5M512.34 572.6v1.5M514.31 572.6v1.5M516.28 572.6v1.5M518.25 572.6v2.6M520.22 572.6v1.5M522.19 572.6v1.5M524.16 572.6v1.5M526.13 572.6v1.5M528.10 572.6v2.6M530.07 572.6v1.5M532.04 572.6v1.5M534.01 572.6v1.5M535.98 572.6v1.5M537.95 572.6v2.6M539.92 572.6v1.5M541.89 572.6v1.5M543.86 572.6v1.5M545.83 572.6v1.5M547.80 572.6v2.6M549.77 572.6v1.5M551.74 572.6v1.5M553.71 572.6v1.5M555.68 572.6v1.5M557.65 572.6v2.6M559.62 572.6v1.5M561.59 572.6v1.5M563.56 572.6v1.5M565.53 572.6v1.5M567.50 572.6v2.6M569.47 572.6v1.5M571.44 572.6v1.5M573.41 572.6v1.5M575.38 572.6v1.5M577.35 572.6v2.6M579.32 572.6v1.5M581.29 572.6v1.5M583.26 572.6v1.5M585.23 572.6v1.5M587.20 572.6v2.6M589.17 572.6v1.5M591.14 572.6v1.5M593.11 572.6v1.5M595.08 572.6v1.5M597.05 572.6v2.6M599.02 572.6v1.5M600.99 572.6v1.5M602.96 572.6v1.5M604.93 572.6v1.5M606.90 572.6v2.6M608.87 572.6v1.5M610.84 572.6v1.5M612.81 572.6v1.5M614.78 572.6v1.5M616.75 572.6v2.6M618.72 572.6v1.5M620.69 572.6v1.5" stroke="#9fd6f0" stroke-width="0.4" opacity="0.8"/>
<g filter="url(#tb)"><ellipse cx="478.3" cy="498" rx="8.75" ry="7.60" fill="url(#tum)"/><ellipse cx="501.7" cy="499.2" rx="8.75" ry="6.40" fill="url(#tum)"/><ellipse cx="524.1" cy="496.8" rx="6.65" ry="7.60" fill="url(#tum)"/><ellipse cx="546" cy="499.2" rx="8.75" ry="6.40" fill="url(#tum)"/><ellipse cx="565.9" cy="498.2" rx="7.60" ry="7.00" fill="url(#tum)"/><ellipse cx="588.1" cy="498" rx="6.65" ry="7.60" fill="url(#tum)"/><ellipse cx="606.8" cy="500.1" rx="5.25" ry="9.00" fill="url(#tum)"/><ellipse cx="480.2" cy="518.5" rx="6.30" ry="7.00" fill="url(#tum)"/><ellipse cx="500.3" cy="517.8" rx="5.50" ry="5.25" fill="url(#tum)"/><ellipse cx="523.4" cy="517.4" rx="6.50" ry="5.25" fill="url(#tum)"/><ellipse cx="544.4" cy="517.4" rx="5.85" ry="5.25" fill="url(#tum)"/><ellipse cx="565.2" cy="517.6" rx="4.45" ry="5.50" fill="url(#tum)"/><ellipse cx="583.9" cy="517.6" rx="4.45" ry="4.90" fill="url(#tum)"/><ellipse cx="605.2" cy="521.3" rx="5.85" ry="4.10" fill="url(#tum)"/><ellipse cx="481.6" cy="537.9" rx="9.50" ry="7.00" fill="url(#tum)"/><ellipse cx="503.3" cy="536.8" rx="7.60" ry="7.35" fill="url(#tum)"/><ellipse cx="521.1" cy="536.3" rx="6.50" ry="6.75" fill="url(#tum)"/><ellipse cx="540.7" cy="537.2" rx="8.40" ry="5.35" fill="url(#tum)"/><ellipse cx="563.6" cy="540" rx="6.90" ry="6.40" fill="url(#tum)"/><ellipse cx="582.5" cy="542.1" rx="6.65" ry="6.05" fill="url(#tum)"/><ellipse cx="606.1" cy="539.6" rx="6.05" ry="5.35" fill="url(#tum)"/><ellipse cx="482.1" cy="559.4" rx="7.35" ry="6.50" fill="url(#tum)"/><ellipse cx="498.4" cy="558" rx="6.65" ry="6.00" fill="url(#tum)"/><ellipse cx="519.4" cy="559.9" rx="6.65" ry="5.25" fill="url(#tum)"/><ellipse cx="542.1" cy="561.1" rx="5.85" ry="5.25" fill="url(#tum)"/><ellipse cx="564.5" cy="562" rx="8.40" ry="5.50" fill="url(#tum)"/><ellipse cx="585.1" cy="561.3" rx="6.05" ry="6.20" fill="url(#tum)"/><ellipse cx="609.1" cy="559" rx="6.40" ry="6.20" fill="url(#tum)"/></g>
<text x="462.3" y="502.3" font-size="8.3" fill="#222" color="#222" text-anchor="end">DMSO</text>
<text x="462.3" y="523.4" font-size="8.3" fill="#222" color="#222" text-anchor="end">ATMi</text>
<text x="462.3" y="542.2" font-size="8.3" fill="#222" color="#222" text-anchor="end">DMSO</text>
<text x="462.3" y="563.2" font-size="8.3" fill="#222" color="#222" text-anchor="end">ATMi</text>
<line x1="431.1" y1="491.9" x2="431.1" y2="524.6" stroke="#444" stroke-width="0.6"/>
<line x1="431.1" y1="534.6" x2="431.1" y2="564.4" stroke="#444" stroke-width="0.6"/>
<text transform="translate(426,508.1) rotate(-90)" font-size="8.3" fill="#222" color="#222" text-anchor="middle" dy="0.35em">Ctrl</text>
<text transform="translate(416,549.8) rotate(-90)" font-size="8.3" fill="#222" color="#222" text-anchor="middle" dy="0.35em">ERCC6L2</text>
<text transform="translate(426,549.5) rotate(-90)" font-size="8.3" fill="#222" color="#222" text-anchor="middle" dy="0.35em">KO</text>
<text x="357.5" y="603.6" font-size="11.5" fill="#000" color="#000" text-anchor="start" font-weight="bold">l</text>
<line x1="403.5" y1="697.2" x2="514.5" y2="697.2" stroke="#555555" stroke-width="0.8"/>
<line x1="403.5" y1="697.2" x2="403.5" y2="617" stroke="#555555" stroke-width="0.8"/>
<line x1="400.5" y1="697.2" x2="403.5" y2="697.2" stroke="#555555" stroke-width="0.8"/>
<text x="397.5" y="699.8" font-size="7.4" fill="#1e1e1e" color="#1e1e1e" text-anchor="end">0</text>
<line x1="400.5" y1="677.22" x2="403.5" y2="677.22" stroke="#555555" stroke-width="0.8"/>
<text x="397.5" y="679.82" font-size="7.4" fill="#1e1e1e" color="#1e1e1e" text-anchor="end">200</text>
<line x1="400.5" y1="657.24" x2="403.5" y2="657.24" stroke="#555555" stroke-width="0.8"/>
<text x="397.5" y="659.84" font-size="7.4" fill="#1e1e1e" color="#1e1e1e" text-anchor="end">400</text>
<line x1="400.5" y1="637.26" x2="403.5" y2="637.26" stroke="#555555" stroke-width="0.8"/>
<text x="397.5" y="639.86" font-size="7.4" fill="#1e1e1e" color="#1e1e1e" text-anchor="end">600</text>
<line x1="400.5" y1="617.28" x2="403.5" y2="617.28" stroke="#555555" stroke-width="0.8"/>
<text x="397.5" y="619.88" font-size="7.4" fill="#1e1e1e" color="#1e1e1e" text-anchor="end">800</text>
<line x1="413.6" y1="697.2" x2="413.6" y2="700.2" stroke="#555555" stroke-width="0.8"/>
<text x="413.6" y="710.2" font-size="7.4" fill="#1e1e1e" color="#1e1e1e" text-anchor="middle">1</text>
<line x1="433.7" y1="697.2" x2="433.7" y2="700.2" stroke="#555555" stroke-width="0.8"/>
<text x="433.7" y="710.2" font-size="7.4" fill="#1e1e1e" color="#1e1e1e" text-anchor="middle">3</text>
<line x1="453.8" y1="697.2" x2="453.8" y2="700.2" stroke="#555555" stroke-width="0.8"/>
<text x="453.8" y="710.2" font-size="7.4" fill="#1e1e1e" color="#1e1e1e" text-anchor="middle">5</text>
<line x1="473.9" y1="697.2" x2="473.9" y2="700.2" stroke="#555555" stroke-width="0.8"/>
<text x="473.9" y="710.2" font-size="7.4" fill="#1e1e1e" color="#1e1e1e" text-anchor="middle">7</text>
<line x1="494" y1="697.2" x2="494" y2="700.2" stroke="#555555" stroke-width="0.8"/>
<text x="494" y="710.2" font-size="7.4" fill="#1e1e1e" color="#1e1e1e" text-anchor="middle">9</text>
<line x1="514.1" y1="697.2" x2="514.1" y2="700.2" stroke="#555555" stroke-width="0.8"/>
<text x="514.1" y="710.2" font-size="7.4" fill="#1e1e1e" color="#1e1e1e" text-anchor="middle">12</text>
<text x="458.8" y="721" font-size="8.4" fill="#1e1e1e" color="#1e1e1e" text-anchor="middle">Days</text>
<text transform="translate(362.5,656.8) rotate(-90)" font-size="8.4" fill="#1e1e1e" color="#1e1e1e" text-anchor="middle" dy="0.35em">Tumour</text>
<text transform="translate(373.2,657.3) rotate(-90)" font-size="8.4" fill="#1e1e1e" color="#1e1e1e" text-anchor="middle" dy="0.35em">volume (mm<tspan dy="-3" font-size="5.5">3</tspan><tspan dy="3">)</tspan></text>
<polyline points="413.6,695.60 433.7,694.80 453.8,692.21 473.9,685.21 494.0,672.82 514.1,643.25" fill="none" stroke="#b07a55" stroke-width="1.1"/>
<circle cx="413.6" cy="695.60" r="1.4" fill="#b07a55"/>
<circle cx="433.7" cy="694.80" r="1.4" fill="#b07a55"/>
<path d="M453.8 691.81V692.60M452.6 691.81h2.4" stroke="#b07a55" stroke-width="0.5" opacity="0.7" fill="none"/>
<circle cx="453.8" cy="692.21" r="1.4" fill="#b07a55"/>
<path d="M473.9 682.22V688.21M472.7 682.22h2.4" stroke="#b07a55" stroke-width="0.5" opacity="0.7" fill="none"/>
<circle cx="473.9" cy="685.21" r="1.4" fill="#b07a55"/>
<path d="M494.0 668.83V676.82M492.8 668.83h2.4" stroke="#b07a55" stroke-width="0.5" opacity="0.7" fill="none"/>
<circle cx="494.0" cy="672.82" r="1.4" fill="#b07a55"/>
<circle cx="514.1" cy="643.25" r="1.4" fill="#b07a55"/>
<polyline points="413.6,695.40 433.7,694.70 453.8,691.81 473.9,684.91 494.0,669.03 514.1,643.05" fill="none" stroke="#e02a26" stroke-width="1.1"/>
<circle cx="413.6" cy="695.40" r="1.4" fill="#e02a26"/>
<circle cx="433.7" cy="694.70" r="1.4" fill="#e02a26"/>
<path d="M453.8 691.21V692.40M452.6 691.21h2.4" stroke="#e02a26" stroke-width="0.5" opacity="0.7" fill="none"/>
<circle cx="453.8" cy="691.81" r="1.4" fill="#e02a26"/>
<path d="M473.9 682.41V687.41M472.7 682.41h2.4" stroke="#e02a26" stroke-width="0.5" opacity="0.7" fill="none"/>
<circle cx="473.9" cy="684.91" r="1.4" fill="#e02a26"/>
<path d="M494.0 663.03V675.02M492.8 663.03h2.4" stroke="#e02a26" stroke-width="0.5" opacity="0.7" fill="none"/>
<circle cx="494.0" cy="669.03" r="1.4" fill="#e02a26"/>
<path d="M514.1 629.07V657.04M512.9 629.07h2.4" stroke="#e02a26" stroke-width="0.5" opacity="0.7" fill="none"/>
<circle cx="514.1" cy="643.05" r="1.4" fill="#e02a26"/>
<polyline points="413.6,695.70 433.7,695.00 453.8,693.70 473.9,689.41 494.0,679.72 514.1,663.73" fill="none" stroke="#8e3fc4" stroke-width="1.1"/>
<circle cx="413.6" cy="695.70" r="1.4" fill="#8e3fc4"/>
<circle cx="433.7" cy="695.00" r="1.4" fill="#8e3fc4"/>
<path d="M453.8 693.40V694.00M452.6 693.40h2.4" stroke="#8e3fc4" stroke-width="0.5" opacity="0.7" fill="none"/>
<circle cx="453.8" cy="693.70" r="1.4" fill="#8e3fc4"/>
<path d="M473.9 688.21V690.61M472.7 688.21h2.4" stroke="#8e3fc4" stroke-width="0.5" opacity="0.7" fill="none"/>
<circle cx="473.9" cy="689.41" r="1.4" fill="#8e3fc4"/>
<path d="M494.0 677.22V682.22M492.8 677.22h2.4" stroke="#8e3fc4" stroke-width="0.5" opacity="0.7" fill="none"/>
<circle cx="494.0" cy="679.72" r="1.4" fill="#8e3fc4"/>
<path d="M514.1 656.74V670.73M512.9 656.74h2.4" stroke="#8e3fc4" stroke-width="0.5" opacity="0.7" fill="none"/>
<circle cx="514.1" cy="663.73" r="1.4" fill="#8e3fc4"/>
<polyline points="413.6,695.80 433.7,695.20 453.8,694.30 473.9,691.81 494.0,688.01 514.1,675.82" fill="none" stroke="#1f4fae" stroke-width="1.1"/>
<circle cx="413.6" cy="695.80" r="1.4" fill="#1f4fae"/>
<circle cx="433.7" cy="695.20" r="1.4" fill="#1f4fae"/>
<path d="M453.8 694.00V694.60M452.6 694.00h2.4" stroke="#1f4fae" stroke-width="0.5" opacity="0.7" fill="none"/>
<circle cx="453.8" cy="694.30" r="1.4" fill="#1f4fae"/>
<path d="M473.9 691.01V692.60M472.7 691.01h2.4" stroke="#1f4fae" stroke-width="0.5" opacity="0.7" fill="none"/>
<circle cx="473.9" cy="691.81" r="1.4" fill="#1f4fae"/>
<path d="M494.0 686.51V689.51M492.8 686.51h2.4" stroke="#1f4fae" stroke-width="0.5" opacity="0.7" fill="none"/>
<circle cx="494.0" cy="688.01" r="1.4" fill="#1f4fae"/>
<path d="M514.1 668.33V683.31M512.9 668.33h2.4" stroke="#1f4fae" stroke-width="0.5" opacity="0.7" fill="none"/>
<circle cx="514.1" cy="675.82" r="1.4" fill="#1f4fae"/>
<line x1="407.4" y1="606.6" x2="416.2" y2="606.6" stroke="#e02a26" stroke-width="1"/>
<circle cx="411.8" cy="606.6" r="1" fill="#e02a26"/>
<text x="419.1" y="608.9" font-size="6.6" fill="#222" color="#222" text-anchor="start">DMSO</text>
<line x1="407.4" y1="619.2" x2="416.2" y2="619.2" stroke="#1f4fae" stroke-width="1"/>
<circle cx="411.8" cy="619.2" r="1" fill="#1f4fae"/>
<text x="419.1" y="621.5" font-size="6.6" fill="#222" color="#222" text-anchor="start">ATMi</text>
<line x1="407.4" y1="632.5" x2="416.2" y2="632.5" stroke="#b07a55" stroke-width="1"/>
<circle cx="411.8" cy="632.5" r="1" fill="#b07a55"/>
<text x="419.1" y="634.8" font-size="6.6" fill="#222" color="#222" text-anchor="start">DMSO</text>
<line x1="407.4" y1="645.6" x2="416.2" y2="645.6" stroke="#8e3fc4" stroke-width="1"/>
<circle cx="411.8" cy="645.6" r="1" fill="#8e3fc4"/>
<text x="419.1" y="647.9" font-size="6.6" fill="#222" color="#222" text-anchor="start">ATMi</text>
<line x1="442.6" y1="603.6" x2="442.6" y2="618.3" stroke="#888" stroke-width="0.6"/>
<line x1="442.6" y1="630" x2="442.6" y2="645" stroke="#888" stroke-width="0.6"/>
<text x="445" y="612.9" font-size="6.6" fill="#222" color="#222" text-anchor="start">Ctrl</text>
<text x="445" y="640.1" font-size="6.6" fill="#222" color="#222" text-anchor="start">ERCC6L2 KO</text>
<line x1="515.8" y1="663.7" x2="515.8" y2="675.6" stroke="#555" stroke-width="0.6"/>
<text transform="translate(523.5,672.5) rotate(90)" font-size="6.6" fill="#222" color="#222" text-anchor="middle" dy="0.35em"><tspan font-style="italic">P</tspan> = 0.0052</text>
<text x="553" y="604.4" font-size="11.5" fill="#000" color="#000" text-anchor="start" font-weight="bold">m</text>
<line x1="588.6" y1="692.4" x2="678.8" y2="692.4" stroke="#555555" stroke-width="0.8"/>
<line x1="588.6" y1="692.4" x2="588.6" y2="618.7" stroke="#555555" stroke-width="0.8"/>
<line x1="585.6" y1="692.4" x2="588.6" y2="692.4" stroke="#555555" stroke-width="0.8"/>
<text x="580.7" y="695.1" font-size="7.5" fill="#1e1e1e" color="#1e1e1e" text-anchor="end">0</text>
<line x1="585.6" y1="674.08" x2="588.6" y2="674.08" stroke="#555555" stroke-width="0.8"/>
<text x="580.7" y="676.78" font-size="7.5" fill="#1e1e1e" color="#1e1e1e" text-anchor="end">0.2</text>
<line x1="585.6" y1="655.76" x2="588.6" y2="655.76" stroke="#555555" stroke-width="0.8"/>
<text x="580.7" y="658.46" font-size="7.5" fill="#1e1e1e" color="#1e1e1e" text-anchor="end">0.4</text>
<line x1="585.6" y1="637.44" x2="588.6" y2="637.44" stroke="#555555" stroke-width="0.8"/>
<text x="580.7" y="640.14" font-size="7.5" fill="#1e1e1e" color="#1e1e1e" text-anchor="end">0.6</text>
<line x1="585.6" y1="619.12" x2="588.6" y2="619.12" stroke="#555555" stroke-width="0.8"/>
<text x="580.7" y="621.82" font-size="7.5" fill="#1e1e1e" color="#1e1e1e" text-anchor="end">0.8</text>
<line x1="602.3" y1="692.4" x2="602.3" y2="695.4" stroke="#555555" stroke-width="0.8"/>
<line x1="623.2" y1="692.4" x2="623.2" y2="695.4" stroke="#555555" stroke-width="0.8"/>
<line x1="643.9" y1="692.4" x2="643.9" y2="695.4" stroke="#555555" stroke-width="0.8"/>
<line x1="664.7" y1="692.4" x2="664.7" y2="695.4" stroke="#555555" stroke-width="0.8"/>
<text transform="translate(604.8,698.9) rotate(-45)" font-size="8" fill="#1e1e1e" color="#1e1e1e" text-anchor="end" dy="0.35em">DMSO</text>
<text transform="translate(625.7,698.9) rotate(-45)" font-size="8" fill="#1e1e1e" color="#1e1e1e" text-anchor="end" dy="0.35em">ATMi</text>
<text transform="translate(646.4,698.9) rotate(-45)" font-size="8" fill="#1e1e1e" color="#1e1e1e" text-anchor="end" dy="0.35em">DMSO</text>
<text transform="translate(667.2,698.9) rotate(-45)" font-size="8" fill="#1e1e1e" color="#1e1e1e" text-anchor="end" dy="0.35em">ATMi</text>
<text transform="translate(557,656.2) rotate(-90)" font-size="8.9" fill="#1e1e1e" color="#1e1e1e" text-anchor="middle" dy="0.35em">Tumour weight (g)</text>
<line x1="600" y1="723.6" x2="627.4" y2="723.6" stroke="#666" stroke-width="0.6"/>
<line x1="640.6" y1="723.6" x2="667.9" y2="723.6" stroke="#666" stroke-width="0.6"/>
<text x="613.6" y="733" font-size="8.3" fill="#1e1e1e" color="#1e1e1e" text-anchor="middle">Ctrl</text>
<text x="654.9" y="733" font-size="8.3" fill="#1e1e1e" color="#1e1e1e" text-anchor="middle">ERCC6L2 KO</text>
<path d="M602.3 627.4V664.7M600.0999999999999 627.4h4.4M600.0999999999999 664.7h4.4" stroke="#e82a24" stroke-width="0.6" opacity="0.55" fill="none"/>
<circle cx="602.30" cy="619.5" r="1.65" fill="#e82a24"/>
<circle cx="602.30" cy="627.4" r="1.65" fill="#e82a24"/>
<circle cx="599.10" cy="641.1" r="1.65" fill="#e82a24"/>
<circle cx="604.80" cy="640.8" r="1.65" fill="#e82a24"/>
<circle cx="599.10" cy="660.5" r="1.65" fill="#e82a24"/>
<circle cx="599.10" cy="662.8" r="1.65" fill="#e82a24"/>
<circle cx="604.80" cy="662.2" r="1.65" fill="#e82a24"/>
<line x1="595.3" y1="645.3" x2="609.3" y2="645.3" stroke="#e82a24" stroke-width="1.3"/>
<path d="M623.2 664.3V679M621.0 664.3h4.4M621.0 679h4.4" stroke="#1a40a0" stroke-width="0.6" opacity="0.55" fill="none"/>
<circle cx="619.80" cy="664.3" r="1.65" fill="#1a40a0"/>
<circle cx="626.10" cy="664.3" r="1.65" fill="#1a40a0"/>
<circle cx="623.20" cy="667.5" r="1.65" fill="#1a40a0"/>
<circle cx="623.20" cy="676" r="1.65" fill="#1a40a0"/>
<circle cx="623.20" cy="678.8" r="1.65" fill="#1a40a0"/>
<circle cx="623.20" cy="681.6" r="1.65" fill="#1a40a0"/>
<line x1="616.2" y1="671.8" x2="630.2" y2="671.8" stroke="#1a40a0" stroke-width="1.3"/>
<path d="M643.9 633.6V664.5M641.6999999999999 633.6h4.4M641.6999999999999 664.5h4.4" stroke="#9c5e30" stroke-width="0.6" opacity="0.55" fill="none"/>
<circle cx="643.90" cy="633.6" r="1.65" fill="#9c5e30"/>
<circle cx="643.90" cy="644.9" r="1.65" fill="#9c5e30"/>
<circle cx="641.10" cy="659.4" r="1.65" fill="#9c5e30"/>
<circle cx="646.80" cy="660.5" r="1.65" fill="#9c5e30"/>
<circle cx="643.90" cy="667.5" r="1.65" fill="#9c5e30"/>
<line x1="636.9" y1="649.2" x2="650.9" y2="649.2" stroke="#9c5e30" stroke-width="1.3"/>
<path d="M664.7 658.3V670.3M662.5 658.3h4.4M662.5 670.3h4.4" stroke="#6a2a9a" stroke-width="0.6" opacity="0.55" fill="none"/>
<circle cx="664.70" cy="657.5" r="1.65" fill="#6a2a9a"/>
<circle cx="664.70" cy="660" r="1.65" fill="#6a2a9a"/>
<circle cx="660.30" cy="664.7" r="1.65" fill="#6a2a9a"/>
<circle cx="669.70" cy="664.7" r="1.65" fill="#6a2a9a"/>
<circle cx="662.20" cy="667.5" r="1.65" fill="#6a2a9a"/>
<circle cx="664.70" cy="670.3" r="1.65" fill="#6a2a9a"/>
<line x1="657.7" y1="664.3" x2="671.7" y2="664.3" stroke="#6a2a9a" stroke-width="1.3"/>
<circle cx="643.9" cy="624.5" r="1.65" fill="#4f8f45"/>
<line x1="601" y1="609.1" x2="643.4" y2="609.1" stroke="#aaa" stroke-width="0.9"/>
<line x1="623.6" y1="619.1" x2="664.1" y2="619.1" stroke="#555" stroke-width="0.75"/>
<text x="622" y="607.6" font-size="6.6" fill="#333" color="#333" text-anchor="middle">P = 0.6639</text>
<text x="643.4" y="617.2" font-size="6.6" fill="#333" color="#333" text-anchor="middle">P = 0.0319</text></svg></body></html>
